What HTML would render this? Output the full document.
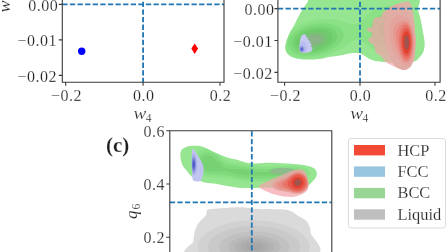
<!DOCTYPE html>
<html><head><meta charset="utf-8">
<style>
html,body{margin:0;padding:0;background:#fff;width:448px;height:252px;overflow:hidden}
svg{display:block;will-change:transform}
text{font-family:"Liberation Serif",serif;fill:#1e1e1e;stroke:#fff;stroke-width:0.3px;stroke-opacity:0.6}
.tk{font-size:16px;letter-spacing:0.5px}
.lg{font-size:16.4px}
</style></head><body>
<svg width="448" height="252" viewBox="0 0 448 252">
<defs>
<clipPath id="cb"><rect x="277.9" y="0" width="162.2" height="82.3"/></clipPath>
<clipPath id="cc"><rect x="169.8" y="130.7" width="162" height="130"/></clipPath>
<clipPath id="g1"><path d="M313.0 -3.0C318.5 -4.0 328.8 -3.0 340.0 -3.0C351.2 -3.0 367.2 -3.0 380.0 -3.0C392.8 -3.0 410.7 -5.1 417.0 -3.0C423.3 -0.9 417.4 5.8 418.0 9.5C418.6 13.2 419.7 15.6 420.5 19.0C421.3 22.4 421.9 26.2 422.6 30.0C423.3 33.8 424.4 38.6 424.6 41.9C424.8 45.2 424.5 47.6 424.0 49.8C423.5 52.0 422.7 53.3 421.5 55.0C420.3 56.7 418.2 58.9 417.0 60.0C415.8 61.1 415.5 61.1 414.0 61.5C412.5 61.9 411.2 62.3 408.0 62.5C404.8 62.7 399.1 62.6 395.0 62.5C390.9 62.4 386.6 62.1 383.4 61.9C380.2 61.7 378.2 61.8 375.6 61.1C373.0 60.5 370.4 59.2 367.8 58.0C365.2 56.8 363.0 54.4 360.0 53.6C357.0 52.8 353.2 53.1 349.9 53.4C346.6 53.7 343.3 54.8 340.0 55.4C336.7 56.0 333.4 56.2 330.0 56.8C326.6 57.4 324.1 58.5 319.7 58.9C315.3 59.3 307.8 59.5 303.8 59.4C299.8 59.3 298.0 59.0 295.5 58.3C293.0 57.6 290.6 56.5 289.0 55.2C287.4 53.9 286.3 52.4 285.8 50.5C285.3 48.6 285.3 46.6 285.8 44.0C286.3 41.4 287.4 38.2 288.8 35.0C290.2 31.8 292.6 28.2 294.3 25.0C296.0 21.8 297.5 18.2 299.0 15.5C300.5 12.8 302.0 10.7 303.3 8.6C304.6 6.5 305.4 4.9 307.0 3.0C308.6 1.1 307.5 -2.0 313.0 -3.0Z"/></clipPath>
<clipPath id="b1"><path d="M302.7 34.7C303.2 34.5 304.1 34.0 304.6 34.1C305.1 34.2 305.6 34.8 305.8 35.3C306.0 35.8 305.5 36.8 305.9 37.2C306.3 37.6 308.1 37.1 308.3 37.5C308.5 37.9 307.0 39.0 307.2 39.4C307.4 39.8 309.3 39.5 309.5 39.9C309.7 40.2 308.1 41.2 308.4 41.5C308.6 41.8 310.8 41.6 311.0 41.9C311.2 42.2 309.7 42.9 309.8 43.4C309.9 43.9 311.8 44.2 311.9 44.7C312.0 45.2 310.5 45.8 310.6 46.3C310.7 46.8 312.2 47.0 312.5 47.6C312.8 48.2 312.4 49.0 312.2 49.6C312.0 50.2 311.8 51.0 311.2 51.5C310.6 52.0 309.5 52.4 308.4 52.6C307.3 52.8 305.8 53.0 304.6 52.9C303.4 52.8 302.0 52.6 301.2 52.2C300.4 51.8 300.1 51.4 299.8 50.4C299.5 49.4 299.5 47.8 299.5 46.3C299.5 44.8 299.7 42.9 299.9 41.5C300.1 40.1 300.4 38.7 300.7 37.7C301.0 36.7 301.3 36.1 301.6 35.6C301.9 35.1 302.2 35.0 302.7 34.7Z"/></clipPath>
<clipPath id="p1"><path d="M384.0 11.5C385.1 10.5 386.8 9.2 388.5 8.2C390.2 7.2 392.3 6.2 394.3 5.3C396.3 4.4 398.7 3.4 400.6 2.8C402.5 2.2 404.2 1.7 405.5 1.5C406.8 1.3 407.6 1.0 408.5 1.4C409.4 1.8 409.9 2.2 410.6 3.6C411.3 5.0 411.9 6.9 412.5 9.5C413.1 12.1 413.6 15.3 414.0 19.0C414.4 22.7 414.7 28.2 415.0 31.7C415.3 35.2 415.8 36.4 415.8 40.0C415.8 43.6 415.3 49.9 415.0 53.3C414.7 56.7 414.4 58.6 414.0 60.3C413.6 62.0 413.0 62.2 412.3 63.4C411.6 64.6 411.1 66.2 410.0 67.3C408.9 68.3 407.3 69.3 406.0 69.7C404.7 70.1 403.9 70.1 402.2 69.7C400.5 69.3 398.4 68.3 396.0 67.3C393.6 66.2 389.7 64.3 388.0 63.4C386.3 62.5 386.6 62.5 385.8 61.9C385.0 61.2 384.3 60.5 383.4 59.5C382.5 58.5 381.6 56.8 380.3 55.6C379.0 54.4 376.5 53.8 375.6 52.5C374.7 51.2 375.3 49.2 374.8 47.8C374.3 46.4 373.6 45.1 372.8 44.2C372.0 43.3 370.8 43.0 370.0 42.4C369.2 41.8 368.3 41.2 368.2 40.6C368.1 40.0 368.5 39.5 369.1 38.7C369.7 37.9 371.5 37.1 371.9 36.0C372.3 34.9 371.9 33.1 371.3 32.3C370.7 31.5 368.9 31.8 368.2 31.4C367.5 30.9 367.0 30.2 367.0 29.6C367.0 29.0 367.4 28.2 368.2 27.8C369.0 27.4 371.1 27.5 371.9 26.9C372.7 26.3 372.6 25.2 372.8 24.1C373.0 23.0 372.8 21.6 373.2 20.5C373.6 19.4 374.2 18.3 375.5 17.7C376.8 17.1 379.9 17.4 381.0 16.8C382.1 16.2 381.5 14.9 382.0 14.0C382.5 13.1 382.9 12.5 384.0 11.5Z"/></clipPath>
<clipPath id="r1"><path d="M192.8 256.0C173.1 253.5 193.1 245.0 193.4 241.2C193.7 237.4 193.9 235.4 194.4 233.0C194.9 230.6 195.5 228.9 196.5 226.8C197.5 224.7 199.0 222.5 200.6 220.6C202.2 218.7 204.8 217.1 205.8 215.5C206.8 213.9 206.3 212.3 206.8 211.3C207.3 210.3 206.5 209.8 208.9 209.3C211.3 208.8 215.7 208.5 221.2 208.2C226.7 207.8 236.4 207.1 241.9 207.2C247.4 207.3 247.5 208.3 254.0 208.7C260.5 209.0 274.8 208.9 281.0 209.3C287.2 209.7 288.5 210.3 291.2 211.3C293.9 212.3 295.2 214.1 297.4 215.5C299.6 216.9 302.7 218.1 304.6 219.6C306.5 221.1 307.8 222.5 308.8 224.7C309.8 226.9 310.3 227.8 310.8 233.0C311.3 238.2 331.6 252.2 311.9 256.0C292.2 259.8 212.6 258.5 192.8 256.0Z"/></clipPath>
<clipPath id="cg1"><path d="M181.0 150.9C181.6 149.6 182.5 148.8 184.0 148.0C185.5 147.2 187.2 146.3 189.9 146.0C192.6 145.7 196.9 145.5 199.9 146.0C202.9 146.5 205.2 147.8 207.8 148.9C210.5 150.1 212.8 151.6 215.8 152.9C218.8 154.2 222.3 155.8 225.7 156.9C229.1 158.0 232.7 158.6 236.0 159.5C239.3 160.4 242.5 161.8 245.8 162.5C249.1 163.2 252.5 163.4 255.8 163.5C259.1 163.6 262.3 162.9 265.7 162.8C269.1 162.7 272.4 162.8 276.0 162.9C279.6 163.0 283.6 163.3 287.6 163.6C291.6 163.9 296.4 164.1 300.0 164.5C303.6 164.9 306.5 165.4 309.0 166.2C311.5 166.9 313.7 167.8 315.0 169.0C316.3 170.2 316.7 171.8 316.8 173.3C316.9 174.8 316.3 176.6 315.5 178.0C314.7 179.4 313.2 180.8 312.0 182.0C310.8 183.2 310.0 184.7 308.0 185.5C306.0 186.3 304.7 186.7 300.0 187.0C295.3 187.3 286.3 187.4 280.0 187.5C273.7 187.6 267.0 187.7 262.0 187.8C257.0 187.9 253.8 188.1 249.8 188.1C245.8 188.1 241.9 188.1 237.9 187.7C233.9 187.3 229.7 186.4 226.0 185.7C222.3 185.0 219.2 184.2 215.8 183.7C212.4 183.2 208.8 183.3 205.8 182.7C202.8 182.1 200.3 181.0 198.0 180.0C195.7 179.0 193.9 178.5 191.9 176.8C189.9 175.1 187.7 172.0 186.0 169.8C184.3 167.7 182.9 166.2 182.0 163.9C181.1 161.6 180.6 158.1 180.4 155.9C180.2 153.7 180.4 152.2 181.0 150.9Z"/></clipPath>
<clipPath id="cb1"><path d="M192.7 148.7C193.2 149.0 194.2 150.2 195.2 151.5C196.2 152.8 197.4 154.7 198.5 156.5C199.6 158.3 201.0 160.5 201.8 162.3C202.6 164.1 203.2 165.8 203.5 167.3C203.8 168.8 203.6 170.1 203.5 171.5C203.4 172.9 203.0 174.4 202.7 175.7C202.4 176.9 202.2 178.1 201.8 179.0C201.4 179.9 201.2 180.6 200.2 181.0C199.2 181.4 197.2 181.6 196.0 181.5C194.8 181.4 193.6 181.3 193.0 180.3C192.4 179.3 192.5 178.4 192.3 175.7C192.1 173.0 191.9 167.6 191.8 164.0C191.7 160.4 191.7 156.4 191.8 154.0C191.9 151.6 192.0 150.7 192.2 149.8C192.3 148.9 192.2 148.4 192.7 148.7Z"/></clipPath>
<clipPath id="cp1"><path d="M259.2 185.4C260.0 184.3 263.4 183.3 265.5 182.2C267.6 181.1 269.5 180.1 271.9 179.0C274.3 177.9 277.2 177.0 279.8 175.9C282.4 174.8 285.1 173.7 287.7 172.7C290.3 171.7 293.3 170.3 295.7 169.8C298.1 169.3 300.4 169.2 302.0 169.5C303.6 169.8 304.4 170.8 305.2 171.9C306.0 173.0 306.3 173.9 306.8 175.9C307.3 177.9 308.3 181.6 308.4 183.8C308.5 186.1 308.4 187.8 307.6 189.4C306.8 191.0 305.6 192.1 303.6 193.3C301.6 194.5 298.4 195.9 295.7 196.5C293.0 197.1 290.3 196.9 287.7 196.8C285.1 196.7 282.4 196.2 279.8 195.7C277.2 195.2 274.3 194.5 271.9 193.7C269.5 192.9 267.4 191.8 265.5 191.0C263.6 190.2 261.9 189.5 260.8 188.6C259.8 187.7 258.4 186.5 259.2 185.4Z"/></clipPath>
</defs>
<g clip-path="url(#cb)">
<path d="M313.0 -3.0C318.5 -4.0 328.8 -3.0 340.0 -3.0C351.2 -3.0 367.2 -3.0 380.0 -3.0C392.8 -3.0 410.7 -5.1 417.0 -3.0C423.3 -0.9 417.4 5.8 418.0 9.5C418.6 13.2 419.7 15.6 420.5 19.0C421.3 22.4 421.9 26.2 422.6 30.0C423.3 33.8 424.4 38.6 424.6 41.9C424.8 45.2 424.5 47.6 424.0 49.8C423.5 52.0 422.7 53.3 421.5 55.0C420.3 56.7 418.2 58.9 417.0 60.0C415.8 61.1 415.5 61.1 414.0 61.5C412.5 61.9 411.2 62.3 408.0 62.5C404.8 62.7 399.1 62.6 395.0 62.5C390.9 62.4 386.6 62.1 383.4 61.9C380.2 61.7 378.2 61.8 375.6 61.1C373.0 60.5 370.4 59.2 367.8 58.0C365.2 56.8 363.0 54.4 360.0 53.6C357.0 52.8 353.2 53.1 349.9 53.4C346.6 53.7 343.3 54.8 340.0 55.4C336.7 56.0 333.4 56.2 330.0 56.8C326.6 57.4 324.1 58.5 319.7 58.9C315.3 59.3 307.8 59.5 303.8 59.4C299.8 59.3 298.0 59.0 295.5 58.3C293.0 57.6 290.6 56.5 289.0 55.2C287.4 53.9 286.3 52.4 285.8 50.5C285.3 48.6 285.3 46.6 285.8 44.0C286.3 41.4 287.4 38.2 288.8 35.0C290.2 31.8 292.6 28.2 294.3 25.0C296.0 21.8 297.5 18.2 299.0 15.5C300.5 12.8 302.0 10.7 303.3 8.6C304.6 6.5 305.4 4.9 307.0 3.0C308.6 1.1 307.5 -2.0 313.0 -3.0Z" fill="#96e691"/>
<g clip-path="url(#g1)"><path d="M308.50 58.75 308.00 58.76 307.50 58.76 307.00 58.76 306.50 58.76 306.08 58.75 305.75 58.74 305.25 58.72 304.75 58.70 304.25 58.67 303.75 58.64 303.25 58.60 302.75 58.55 302.25 58.50 302.00 58.47 301.50 58.42 301.00 58.35 300.50 58.28 300.25 58.24 299.75 58.16 299.25 58.07 298.89 58.00 298.50 57.92 298.00 57.82 297.70 57.75 297.25 57.64 296.75 57.52 296.50 57.45 296.00 57.31 295.75 57.24 295.25 57.09 294.97 57.00 294.50 56.85 294.22 56.75 293.75 56.58 293.50 56.48 293.00 56.29 292.75 56.18 292.33 56.00 292.00 55.85 291.75 55.74 291.26 55.50 291.00 55.37 290.75 55.23 290.32 55.00 290.00 54.82 289.75 54.67 289.48 54.50 289.09 54.25 288.75 54.02 288.50 53.84 288.25 53.66 288.00 53.47 287.73 53.25 287.42 53.00 287.14 52.75 286.86 52.50 286.60 52.25 286.35 52.00 286.12 51.75 285.89 51.50 285.68 51.25 285.47 51.00 285.25 50.71 285.00 50.36 284.76 50.00 284.60 49.75 284.45 49.50 284.25 49.14 284.05 48.75 283.94 48.50 283.75 48.06 283.63 47.75 283.50 47.36 283.39 47.00 283.26 46.50 283.21 46.25 283.12 45.75 283.05 45.25 283.01 44.75 282.99 44.50 282.99 44.00 283.00 43.50 283.01 43.25 283.06 42.75 283.13 42.25 283.22 41.75 283.27 41.50 283.39 41.00 283.50 40.61 283.61 40.25 283.75 39.84 283.87 39.50 284.00 39.19 284.19 38.75 284.30 38.50 284.50 38.08 284.67 37.75 284.80 37.50 285.00 37.15 285.24 36.75 285.39 36.50 285.55 36.25 285.75 35.95 286.00 35.59 286.24 35.25 286.43 35.00 286.62 34.75 286.82 34.50 287.02 34.25 287.25 33.98 287.50 33.69 287.75 33.41 288.00 33.13 288.25 32.87 288.50 32.61 288.75 32.35 289.00 32.11 289.25 31.86 289.50 31.63 289.75 31.40 290.00 31.17 290.25 30.95 290.50 30.74 290.78 30.50 291.08 30.25 291.39 30.00 291.71 29.75 292.00 29.52 292.25 29.33 292.50 29.15 292.75 28.96 293.05 28.75 293.40 28.50 293.75 28.26 294.00 28.09 294.25 27.93 294.52 27.75 294.91 27.50 295.25 27.29 295.50 27.13 295.75 26.98 296.14 26.75 296.50 26.54 296.75 26.40 297.02 26.25 297.47 26.00 297.75 25.85 298.00 25.72 298.41 25.50 298.75 25.33 299.00 25.20 299.41 25.00 299.75 24.84 300.00 24.72 300.47 24.50 300.75 24.37 301.02 24.25 301.50 24.04 301.75 23.93 302.17 23.75 302.50 23.61 302.78 23.50 303.25 23.31 303.50 23.21 304.00 23.02 304.25 22.93 304.74 22.75 305.00 22.65 305.44 22.50 305.75 22.39 306.17 22.25 306.50 22.14 306.94 22.00 307.25 21.90 307.74 21.75 308.00 21.67 308.50 21.52 308.75 21.45 309.25 21.31 309.50 21.24 310.00 21.11 310.43 21.00 310.75 20.92 311.25 20.80 311.50 20.74 312.00 20.62 312.50 20.51 312.75 20.45 313.25 20.35 313.73 20.25 314.00 20.20 314.50 20.10 315.00 20.01 315.25 19.97 315.75 19.88 316.25 19.80 316.56 19.75 317.00 19.68 317.50 19.61 318.00 19.55 318.36 19.50 318.75 19.45 319.25 19.39 319.75 19.34 320.25 19.29 320.71 19.25 321.00 19.22 321.50 19.18 322.00 19.15 322.50 19.12 323.00 19.09 323.50 19.07 324.00 19.05 324.50 19.03 325.00 19.02 325.50 19.01 326.00 19.01 326.50 19.01 327.00 19.01 327.50 19.02 328.00 19.03 328.50 19.05 329.00 19.07 329.50 19.09 330.00 19.12 330.50 19.15 331.00 19.19 331.50 19.23 331.75 19.25 332.25 19.30 332.75 19.35 333.25 19.41 333.75 19.47 334.00 19.50 334.50 19.57 335.00 19.64 335.50 19.72 335.75 19.76 336.25 19.84 336.75 19.93 337.14 20.00 337.50 20.07 338.00 20.17 338.40 20.25 338.75 20.32 339.25 20.43 339.55 20.50 340.00 20.61 340.50 20.73 340.75 20.79 341.25 20.91 341.58 21.00 342.00 21.11 342.50 21.25 342.75 21.32 343.25 21.46 343.50 21.53 344.00 21.68 344.25 21.76 344.75 21.91 345.05 22.00 345.50 22.14 345.85 22.25 346.25 22.38 346.64 22.50 347.00 22.62 347.42 22.75 347.75 22.85 348.22 23.00 348.50 23.09 349.00 23.24 349.25 23.32 349.75 23.46 350.00 23.53 350.50 23.67 350.83 23.75 351.25 23.85 351.75 23.96 352.00 24.01 352.50 24.09 353.00 24.15 353.50 24.19 354.00 24.21 354.50 24.20 355.00 24.16 355.50 24.08 355.87 24.00 356.25 23.90 356.71 23.75 357.00 23.64 357.33 23.50 357.75 23.30 358.00 23.17 358.30 23.00 358.71 22.75 359.00 22.57 359.25 22.40 359.50 22.22 359.80 22.00 360.13 21.75 360.44 21.50 360.75 21.25 361.00 21.04 361.25 20.83 361.50 20.62 361.75 20.40 362.00 20.18 362.25 19.96 362.50 19.73 362.75 19.50 363.03 19.25 363.30 19.00 363.57 18.75 363.84 18.50 364.11 18.25 364.38 18.00 364.65 17.75 364.92 17.50 365.20 17.25 365.47 17.00 365.74 16.75 366.00 16.52 366.25 16.29 366.50 16.07 366.75 15.84 367.00 15.62 367.25 15.40 367.50 15.19 367.75 14.97 368.01 14.75 368.30 14.50 368.60 14.25 368.90 14.00 369.21 13.75 369.50 13.52 369.75 13.32 370.00 13.12 370.25 12.93 370.50 12.74 370.81 12.50 371.15 12.25 371.49 12.00 371.75 11.82 372.00 11.64 372.25 11.47 372.56 11.25 372.94 11.00 373.25 10.80 373.50 10.63 373.75 10.48 374.11 10.25 374.50 10.02 374.75 9.87 375.00 9.72 375.40 9.50 375.75 9.30 376.00 9.17 376.32 9.00 376.75 8.78 377.00 8.66 377.33 8.50 377.75 8.31 378.00 8.19 378.44 8.00 378.75 7.87 379.05 7.75 379.50 7.57 379.75 7.48 380.25 7.30 380.50 7.22 381.00 7.05 381.25 6.98 381.75 6.83 382.05 6.75 382.50 6.63 383.00 6.51 383.25 6.46 383.75 6.36 384.25 6.27 384.50 6.23 385.00 6.15 385.50 6.09 386.00 6.04 386.50 6.00 386.75 5.99 387.25 5.97 387.75 5.96 388.25 5.96 388.75 5.98 389.22 6.00 389.50 6.02 390.00 6.06 390.50 6.12 391.00 6.19 391.36 6.25 391.75 6.32 392.25 6.42 392.58 6.50 393.00 6.60 393.50 6.74 393.75 6.81 394.25 6.97 394.50 7.06 395.00 7.24 395.25 7.33 395.67 7.50 396.00 7.64 396.25 7.75 396.75 7.99 397.00 8.11 397.27 8.25 397.74 8.50 398.00 8.65 398.25 8.79 398.59 9.00 398.98 9.25 399.25 9.43 399.50 9.60 399.75 9.77 400.06 10.00 400.40 10.25 400.71 10.50 401.00 10.73 401.25 10.94 401.50 11.16 401.75 11.38 402.00 11.61 402.25 11.85 402.50 12.09 402.75 12.35 403.00 12.61 403.25 12.88 403.50 13.15 403.75 13.44 404.00 13.74 404.22 14.00 404.41 14.25 404.61 14.50 404.80 14.75 405.00 15.03 405.25 15.38 405.50 15.75 405.66 16.00 405.82 16.25 406.00 16.53 406.25 16.95 406.42 17.25 406.56 17.50 406.75 17.84 406.96 18.25 407.09 18.50 407.25 18.83 407.45 19.25 407.56 19.50 407.75 19.95 407.88 20.25 408.00 20.56 408.17 21.00 408.26 21.25 408.43 21.75 408.51 22.00 408.67 22.50 408.75 22.78 408.88 23.25 409.00 23.72 409.07 24.00 409.18 24.50 409.25 24.83 409.33 25.25 409.42 25.75 409.50 26.25 409.53 26.50 409.59 27.00 409.65 27.50 409.69 28.00 409.72 28.50 409.75 29.00 409.76 29.25 409.77 29.75 409.77 30.25 409.76 30.75 409.75 31.00 409.72 31.50 409.69 32.00 409.65 32.50 409.59 33.00 409.53 33.50 409.50 33.75 409.42 34.25 409.33 34.75 409.25 35.17 409.18 35.50 409.07 36.00 409.00 36.28 408.88 36.75 408.75 37.22 408.67 37.50 408.51 38.00 408.43 38.25 408.26 38.75 408.17 39.00 408.00 39.44 407.88 39.75 407.75 40.05 407.56 40.50 407.45 40.75 407.25 41.17 407.09 41.50 406.96 41.75 406.75 42.16 406.56 42.50 406.42 42.75 406.25 43.05 406.00 43.47 405.82 43.75 405.66 44.00 405.50 44.25 405.25 44.62 405.00 44.97 404.80 45.25 404.61 45.50 404.41 45.75 404.22 46.00 404.00 46.26 403.75 46.56 403.50 46.85 403.25 47.12 403.00 47.39 402.75 47.65 402.50 47.91 402.25 48.15 402.00 48.39 401.75 48.62 401.50 48.84 401.25 49.06 401.00 49.27 400.71 49.50 400.40 49.75 400.06 50.00 399.75 50.23 399.50 50.40 399.25 50.57 398.98 50.75 398.59 51.00 398.25 51.21 398.00 51.35 397.74 51.50 397.27 51.75 397.00 51.89 396.75 52.01 396.25 52.25 396.00 52.36 395.67 52.50 395.25 52.67 395.00 52.76 394.50 52.94 394.25 53.03 393.75 53.19 393.50 53.26 393.00 53.40 392.58 53.50 392.25 53.58 391.75 53.68 391.36 53.75 391.00 53.81 390.50 53.88 390.00 53.94 389.50 53.98 389.22 54.00 388.75 54.02 388.25 54.04 387.75 54.04 387.25 54.03 386.75 54.01 386.50 54.00 386.00 53.96 385.50 53.91 385.00 53.85 384.50 53.77 384.25 53.73 383.75 53.64 383.25 53.54 383.00 53.49 382.50 53.37 382.04 53.25 381.75 53.17 381.25 53.03 381.00 52.95 380.50 52.79 380.25 52.70 379.75 52.52 379.50 52.43 379.03 52.25 378.75 52.14 378.42 52.00 378.00 51.82 377.75 51.70 377.31 51.50 377.00 51.35 376.75 51.23 376.29 51.00 376.00 50.85 375.75 50.72 375.35 50.50 375.00 50.30 374.75 50.16 374.47 50.00 374.05 49.75 373.75 49.57 373.50 49.41 373.24 49.25 372.85 49.00 372.50 48.77 372.25 48.60 372.00 48.43 371.73 48.25 371.37 48.00 371.01 47.75 370.75 47.56 370.50 47.38 370.25 47.20 369.98 47.00 369.64 46.75 369.31 46.50 369.00 46.27 368.75 46.08 368.50 45.88 368.25 45.69 368.00 45.50 367.68 45.25 367.36 45.00 367.04 44.75 366.75 44.52 366.50 44.33 366.25 44.13 366.00 43.94 365.75 43.74 365.44 43.50 365.11 43.25 364.79 43.00 364.50 42.78 364.25 42.60 364.00 42.41 363.75 42.23 363.43 42.00 363.07 41.75 362.75 41.53 362.50 41.36 362.25 41.20 361.92 41.00 361.50 40.75 361.25 40.60 361.00 40.47 360.57 40.25 360.25 40.10 360.00 39.99 359.50 39.80 359.25 39.71 358.75 39.57 358.44 39.50 358.00 39.42 357.50 39.37 357.00 39.36 356.50 39.40 356.00 39.47 355.75 39.52 355.25 39.64 354.92 39.75 354.50 39.90 354.25 40.00 353.75 40.23 353.50 40.35 353.22 40.50 352.76 40.75 352.50 40.90 352.25 41.05 351.93 41.25 351.54 41.50 351.25 41.69 351.00 41.85 350.75 42.02 350.42 42.25 350.07 42.50 349.75 42.72 349.50 42.90 349.25 43.08 349.00 43.26 348.66 43.50 348.32 43.75 348.00 43.98 347.75 44.16 347.50 44.34 347.25 44.52 346.93 44.75 346.58 45.00 346.25 45.24 346.00 45.41 345.75 45.59 345.50 45.77 345.17 46.00 344.81 46.25 344.50 46.46 344.25 46.63 344.00 46.80 343.70 47.00 343.33 47.25 343.00 47.47 342.75 47.63 342.50 47.79 342.18 48.00 341.79 48.25 341.50 48.43 341.25 48.59 340.98 48.75 340.58 49.00 340.25 49.20 340.00 49.35 339.74 49.50 339.31 49.75 339.00 49.93 338.75 50.07 338.43 50.25 338.00 50.49 337.75 50.63 337.50 50.76 337.06 51.00 336.75 51.17 336.50 51.30 336.10 51.50 335.75 51.68 335.50 51.81 335.11 52.00 334.75 52.18 334.50 52.30 334.07 52.50 333.75 52.65 333.50 52.77 333.00 52.99 332.75 53.11 332.42 53.25 332.00 53.43 331.75 53.54 331.25 53.75 331.00 53.86 330.65 54.00 330.25 54.16 330.00 54.26 329.50 54.45 329.25 54.55 328.75 54.74 328.50 54.83 328.03 55.00 327.75 55.10 327.32 55.25 327.00 55.36 326.58 55.50 326.25 55.61 325.81 55.75 325.50 55.85 325.01 56.00 324.75 56.08 324.25 56.23 324.00 56.30 323.50 56.44 323.25 56.51 322.75 56.65 322.37 56.75 322.00 56.85 321.50 56.97 321.25 57.03 320.75 57.15 320.32 57.25 320.00 57.32 319.50 57.43 319.17 57.50 318.75 57.59 318.25 57.68 317.90 57.75 317.50 57.82 317.00 57.91 316.50 58.00 316.25 58.04 315.75 58.11 315.25 58.19 314.79 58.25 314.50 58.29 314.00 58.35 313.50 58.41 313.00 58.46 312.64 58.50 312.25 58.54 311.75 58.58 311.25 58.62 310.75 58.65 310.25 58.68 309.75 58.71 309.25 58.73 308.75 58.74 308.50 58.75Z" fill="#8ae186" fill-rule="evenodd"/>
<path d="M389.00 47.01 388.50 47.04 388.00 47.04 387.50 47.04 387.00 47.01 386.75 46.99 386.25 46.94 385.75 46.87 385.25 46.79 385.00 46.74 384.50 46.63 384.00 46.50 383.75 46.43 383.25 46.28 383.00 46.20 382.50 46.02 382.25 45.92 381.82 45.75 381.50 45.61 381.25 45.50 380.75 45.26 380.50 45.13 380.25 45.00 379.81 44.75 379.50 44.57 379.25 44.42 378.98 44.25 378.60 44.00 378.25 43.76 378.00 43.58 377.75 43.39 377.50 43.20 377.24 43.00 376.94 42.75 376.64 42.50 376.36 42.25 376.08 42.00 375.82 41.75 375.56 41.50 375.31 41.25 375.07 41.00 374.84 40.75 374.62 40.50 374.40 40.25 374.19 40.00 373.98 39.75 373.75 39.45 373.50 39.13 373.25 38.78 373.05 38.50 372.88 38.25 372.72 38.00 372.50 37.65 372.26 37.25 372.12 37.00 371.99 36.75 371.75 36.29 371.61 36.00 371.49 35.75 371.28 35.25 371.18 35.00 371.00 34.52 370.91 34.25 370.75 33.75 370.68 33.50 370.56 33.00 370.50 32.74 370.41 32.25 370.33 31.75 370.28 31.25 370.25 30.85 370.23 30.50 370.23 30.00 370.25 29.50 370.26 29.25 370.31 28.75 370.37 28.25 370.45 27.75 370.50 27.50 370.62 27.00 370.75 26.50 370.82 26.25 370.98 25.75 371.07 25.50 371.25 25.02 371.36 24.75 371.50 24.43 371.70 24.00 371.82 23.75 372.00 23.39 372.21 23.00 372.35 22.75 372.50 22.49 372.75 22.08 372.96 21.75 373.13 21.50 373.30 21.25 373.50 20.97 373.75 20.64 374.00 20.32 374.25 20.00 374.46 19.75 374.68 19.50 374.90 19.25 375.13 19.00 375.37 18.75 375.61 18.50 375.87 18.25 376.13 18.00 376.40 17.75 376.68 17.50 376.98 17.25 377.25 17.02 377.50 16.82 377.75 16.63 378.00 16.44 378.27 16.25 378.63 16.00 379.00 15.75 379.25 15.60 379.50 15.44 379.83 15.25 380.25 15.01 380.50 14.88 380.75 14.75 381.25 14.51 381.50 14.40 381.84 14.25 382.25 14.08 382.50 13.98 383.00 13.81 383.25 13.72 383.75 13.57 384.00 13.50 384.50 13.37 385.00 13.26 385.25 13.21 385.75 13.13 386.25 13.06 386.75 13.01 387.00 12.99 387.50 12.97 388.00 12.96 388.50 12.96 389.00 12.99 389.25 13.01 389.75 13.06 390.25 13.13 390.75 13.22 391.00 13.27 391.50 13.38 391.94 13.50 392.25 13.59 392.73 13.75 393.00 13.85 393.39 14.00 393.75 14.15 394.00 14.26 394.49 14.50 394.75 14.64 395.00 14.77 395.39 15.00 395.75 15.22 396.00 15.38 396.25 15.55 396.53 15.75 396.86 16.00 397.17 16.25 397.47 16.50 397.75 16.75 398.00 16.98 398.25 17.22 398.50 17.47 398.75 17.73 398.99 18.00 399.21 18.25 399.42 18.50 399.62 18.75 399.81 19.00 400.00 19.25 400.25 19.60 400.50 19.98 400.67 20.25 400.83 20.50 401.00 20.79 401.25 21.24 401.38 21.50 401.51 21.75 401.75 22.25 401.86 22.50 402.00 22.83 402.17 23.25 402.26 23.50 402.44 24.00 402.52 24.25 402.68 24.75 402.75 25.01 402.88 25.50 402.99 26.00 403.05 26.25 403.14 26.75 403.22 27.25 403.25 27.50 403.31 28.00 403.36 28.50 403.39 29.00 403.41 29.50 403.42 30.00 403.41 30.50 403.39 31.00 403.36 31.50 403.31 32.00 403.25 32.50 403.22 32.75 403.14 33.25 403.05 33.75 402.99 34.00 402.88 34.50 402.75 34.99 402.68 35.25 402.52 35.75 402.44 36.00 402.26 36.50 402.17 36.75 402.00 37.17 401.86 37.50 401.75 37.75 401.51 38.25 401.38 38.50 401.25 38.76 401.00 39.21 400.83 39.50 400.67 39.75 400.50 40.02 400.25 40.40 400.00 40.75 399.81 41.00 399.62 41.25 399.42 41.50 399.21 41.75 398.99 42.00 398.75 42.27 398.50 42.53 398.25 42.78 398.00 43.02 397.75 43.25 397.47 43.50 397.17 43.75 396.86 44.00 396.52 44.25 396.25 44.45 396.00 44.62 395.75 44.78 395.39 45.00 395.00 45.23 394.75 45.36 394.49 45.50 394.00 45.74 393.75 45.85 393.39 46.00 393.00 46.15 392.73 46.25 392.25 46.41 391.94 46.50 391.50 46.62 391.00 46.73 390.75 46.78 390.25 46.87 389.75 46.94 389.25 46.99 389.00 47.01ZM312.25 55.52 311.75 55.56 311.25 55.60 310.75 55.63 310.25 55.66 309.75 55.68 309.25 55.70 308.75 55.71 308.25 55.72 307.75 55.71 307.25 55.71 306.75 55.69 306.25 55.68 305.75 55.65 305.25 55.62 304.75 55.58 304.25 55.53 303.94 55.50 303.50 55.45 303.00 55.39 302.50 55.32 302.09 55.25 301.75 55.19 301.25 55.10 300.75 55.00 300.50 54.95 300.00 54.84 299.65 54.75 299.25 54.65 298.75 54.51 298.50 54.44 298.00 54.28 297.75 54.20 297.25 54.03 297.00 53.94 296.50 53.75 296.25 53.65 295.90 53.50 295.50 53.32 295.25 53.21 294.83 53.00 294.50 52.83 294.25 52.70 293.90 52.50 293.50 52.26 293.25 52.10 293.00 51.94 292.72 51.75 292.38 51.50 292.05 51.25 291.75 51.01 291.50 50.79 291.25 50.56 291.00 50.33 290.75 50.07 290.50 49.80 290.25 49.52 290.03 49.25 289.84 49.00 289.66 48.75 289.50 48.50 289.25 48.10 289.05 47.75 288.93 47.50 288.75 47.12 288.60 46.75 288.50 46.48 288.35 46.00 288.25 45.62 288.17 45.25 288.09 44.75 288.04 44.25 288.01 43.75 288.02 43.25 288.05 42.75 288.11 42.25 288.19 41.75 288.25 41.46 288.36 41.00 288.50 40.52 288.59 40.25 288.75 39.81 288.87 39.50 289.00 39.21 289.21 38.75 289.34 38.50 289.50 38.20 289.75 37.76 289.91 37.50 290.06 37.25 290.25 36.97 290.50 36.61 290.75 36.26 290.95 36.00 291.15 35.75 291.35 35.50 291.56 35.25 291.78 35.00 292.00 34.75 292.25 34.48 292.50 34.22 292.75 33.97 293.00 33.72 293.25 33.49 293.50 33.25 293.78 33.00 294.07 32.75 294.36 32.50 294.66 32.25 294.98 32.00 295.25 31.79 295.50 31.60 295.75 31.41 296.00 31.23 296.32 31.00 296.68 30.75 297.00 30.53 297.25 30.37 297.50 30.20 297.82 30.00 298.23 29.75 298.50 29.58 298.75 29.44 299.07 29.25 299.50 29.01 299.75 28.87 300.00 28.74 300.45 28.50 300.75 28.35 301.00 28.22 301.45 28.00 301.75 27.86 302.00 27.74 302.50 27.51 302.75 27.40 303.09 27.25 303.50 27.07 303.75 26.97 304.25 26.77 304.50 26.67 304.93 26.50 305.25 26.38 305.61 26.25 306.00 26.11 306.31 26.00 306.75 25.85 307.06 25.75 307.50 25.61 307.85 25.50 308.25 25.38 308.69 25.25 309.00 25.16 309.50 25.02 309.75 24.96 310.25 24.83 310.57 24.75 311.00 24.65 311.50 24.53 311.75 24.47 312.25 24.37 312.75 24.27 313.00 24.22 313.50 24.12 314.00 24.03 314.25 23.99 314.75 23.91 315.25 23.84 315.75 23.76 316.00 23.73 316.50 23.67 317.00 23.61 317.50 23.56 318.00 23.51 318.25 23.49 318.75 23.45 319.25 23.42 319.75 23.39 320.25 23.36 320.75 23.34 321.25 23.33 321.75 23.32 322.25 23.32 322.75 23.32 323.25 23.33 323.75 23.35 324.25 23.37 324.75 23.39 325.25 23.43 325.75 23.46 326.16 23.50 326.50 23.53 327.00 23.59 327.50 23.65 328.00 23.71 328.26 23.75 328.75 23.83 329.25 23.91 329.74 24.00 330.00 24.05 330.50 24.15 330.94 24.25 331.25 24.32 331.75 24.45 332.00 24.51 332.50 24.65 332.85 24.75 333.25 24.87 333.65 25.00 334.00 25.12 334.38 25.25 334.75 25.39 335.04 25.50 335.50 25.68 335.75 25.79 336.22 26.00 336.50 26.13 336.75 26.25 337.25 26.50 337.50 26.64 337.75 26.77 338.14 27.00 338.50 27.22 338.75 27.38 339.00 27.54 339.30 27.75 339.64 28.00 339.96 28.25 340.25 28.49 340.50 28.71 340.75 28.93 341.00 29.18 341.25 29.43 341.50 29.71 341.75 30.00 341.95 30.25 342.13 30.50 342.30 30.75 342.50 31.06 342.75 31.50 342.88 31.75 343.00 32.02 343.19 32.50 343.28 32.75 343.42 33.25 343.50 33.64 343.56 34.00 343.61 34.50 343.63 35.00 343.61 35.50 343.56 36.00 343.50 36.37 343.43 36.75 343.30 37.25 343.23 37.50 343.06 38.00 342.97 38.25 342.76 38.75 342.65 39.00 342.50 39.30 342.26 39.75 342.12 40.00 341.97 40.25 341.75 40.61 341.50 40.99 341.32 41.25 341.14 41.50 340.95 41.75 340.75 42.01 340.50 42.33 340.25 42.63 340.00 42.92 339.75 43.20 339.50 43.47 339.25 43.73 339.00 43.98 338.75 44.23 338.50 44.48 338.25 44.71 338.00 44.94 337.75 45.17 337.50 45.38 337.25 45.60 337.00 45.81 336.75 46.02 336.46 46.25 336.14 46.50 335.81 46.75 335.50 46.98 335.25 47.17 335.00 47.35 334.75 47.52 334.42 47.75 334.05 48.00 333.75 48.20 333.50 48.36 333.25 48.52 332.88 48.75 332.50 48.98 332.25 49.13 332.00 49.27 331.61 49.50 331.25 49.70 331.00 49.84 330.70 50.00 330.25 50.24 330.00 50.37 329.74 50.50 329.25 50.74 329.00 50.86 328.71 51.00 328.25 51.22 328.00 51.33 327.62 51.50 327.25 51.66 327.00 51.77 326.50 51.98 326.25 52.08 325.83 52.25 325.50 52.38 325.18 52.50 324.75 52.66 324.50 52.75 324.00 52.93 323.75 53.02 323.25 53.19 323.00 53.27 322.50 53.43 322.25 53.51 321.75 53.66 321.44 53.75 321.00 53.87 320.55 54.00 320.25 54.08 319.75 54.21 319.50 54.27 319.00 54.39 318.54 54.50 318.25 54.57 317.75 54.67 317.38 54.75 317.00 54.83 316.50 54.92 316.06 55.00 315.75 55.05 315.25 55.14 314.75 55.21 314.49 55.25 314.00 55.32 313.50 55.38 313.00 55.44 312.50 55.49 312.25 55.52Z" fill="#7fda7b" fill-rule="evenodd"/>
<path d="M389.00 39.52 388.50 39.56 388.00 39.57 387.50 39.55 387.00 39.50 386.75 39.46 386.25 39.36 385.80 39.25 385.50 39.16 385.05 39.00 384.75 38.88 384.46 38.75 384.00 38.52 383.75 38.38 383.50 38.23 383.15 38.00 382.80 37.75 382.50 37.52 382.25 37.31 382.00 37.08 381.75 36.84 381.50 36.58 381.25 36.30 381.00 36.00 380.81 35.75 380.63 35.50 380.46 35.25 380.25 34.91 380.02 34.50 379.89 34.25 379.75 33.96 379.55 33.50 379.46 33.25 379.29 32.75 379.22 32.50 379.10 32.00 379.00 31.50 378.97 31.25 378.91 30.75 378.89 30.25 378.89 29.75 378.92 29.25 378.97 28.75 379.01 28.50 379.10 28.00 379.23 27.50 379.30 27.25 379.47 26.75 379.56 26.50 379.75 26.06 379.90 25.75 380.03 25.50 380.25 25.11 380.47 24.75 380.64 24.50 380.82 24.25 381.01 24.00 381.25 23.71 381.50 23.43 381.75 23.17 382.00 22.93 382.25 22.70 382.50 22.49 382.81 22.25 383.16 22.00 383.50 21.78 383.75 21.63 384.00 21.49 384.47 21.25 384.75 21.13 385.06 21.00 385.50 20.84 385.81 20.75 386.25 20.64 386.75 20.54 387.01 20.50 387.50 20.45 388.00 20.43 388.50 20.44 389.00 20.48 389.25 20.51 389.75 20.60 390.25 20.72 390.50 20.80 391.00 20.97 391.25 21.07 391.64 21.25 392.00 21.44 392.25 21.58 392.52 21.75 392.88 22.00 393.21 22.25 393.50 22.49 393.75 22.72 394.00 22.97 394.25 23.24 394.48 23.50 394.68 23.75 394.87 24.00 395.04 24.25 395.25 24.58 395.50 25.00 395.63 25.25 395.75 25.50 395.98 26.00 396.07 26.25 396.25 26.75 396.33 27.00 396.46 27.50 396.52 27.75 396.62 28.25 396.69 28.75 396.73 29.25 396.75 29.54 396.76 30.00 396.75 30.46 396.73 30.75 396.69 31.25 396.62 31.75 396.52 32.25 396.46 32.50 396.33 33.00 396.25 33.25 396.07 33.75 395.98 34.00 395.75 34.50 395.63 34.75 395.50 35.00 395.25 35.42 395.04 35.75 394.87 36.00 394.68 36.25 394.48 36.50 394.25 36.76 394.00 37.03 393.75 37.28 393.50 37.51 393.21 37.75 392.88 38.00 392.52 38.25 392.25 38.42 392.00 38.56 391.64 38.75 391.25 38.93 391.00 39.03 390.50 39.20 390.25 39.28 389.75 39.40 389.25 39.49 389.00 39.52ZM312.75 53.01 312.25 53.06 311.75 53.10 311.25 53.14 310.75 53.17 310.25 53.19 309.75 53.21 309.25 53.22 308.75 53.22 308.25 53.22 307.75 53.20 307.25 53.18 306.75 53.16 306.25 53.12 305.75 53.08 305.25 53.03 305.00 53.00 304.50 52.93 304.00 52.86 303.50 52.78 303.25 52.73 302.75 52.63 302.25 52.52 302.00 52.46 301.50 52.34 301.18 52.25 300.75 52.13 300.35 52.00 300.00 51.88 299.63 51.75 299.25 51.61 298.98 51.50 298.50 51.29 298.25 51.18 297.87 51.00 297.50 50.81 297.25 50.67 296.95 50.50 296.54 50.25 296.25 50.06 296.00 49.89 295.75 49.71 295.48 49.50 295.17 49.25 294.89 49.00 294.62 48.75 294.38 48.50 294.15 48.25 293.93 48.00 293.73 47.75 293.50 47.43 293.25 47.05 293.07 46.75 292.94 46.50 292.75 46.10 292.60 45.75 292.50 45.46 292.36 45.00 292.25 44.52 292.20 44.25 292.14 43.75 292.12 43.25 292.13 42.75 292.17 42.25 292.24 41.75 292.28 41.50 292.40 41.00 292.50 40.66 292.63 40.25 292.75 39.94 292.93 39.50 293.05 39.25 293.25 38.85 293.44 38.50 293.58 38.25 293.75 37.98 294.00 37.60 294.24 37.25 294.43 37.00 294.62 36.75 294.82 36.50 295.03 36.25 295.25 35.99 295.50 35.72 295.75 35.45 296.00 35.20 296.25 34.95 296.50 34.72 296.75 34.49 297.01 34.25 297.31 34.00 297.61 33.75 297.92 33.50 298.24 33.25 298.50 33.06 298.75 32.87 299.00 32.70 299.28 32.50 299.65 32.25 300.00 32.03 300.25 31.87 300.50 31.71 300.85 31.50 301.25 31.27 301.50 31.13 301.75 30.99 302.20 30.75 302.50 30.59 302.75 30.46 303.18 30.25 303.50 30.10 303.75 29.98 304.25 29.76 304.50 29.65 304.84 29.50 305.25 29.33 305.50 29.23 306.00 29.03 306.25 28.94 306.75 28.76 307.00 28.67 307.49 28.50 307.75 28.41 308.25 28.25 308.50 28.17 309.00 28.03 309.25 27.95 309.75 27.81 310.00 27.75 310.50 27.62 310.99 27.50 311.25 27.44 311.75 27.33 312.12 27.25 312.50 27.17 313.00 27.08 313.43 27.00 313.75 26.95 314.25 26.87 314.75 26.79 315.08 26.75 315.50 26.70 316.00 26.64 316.50 26.59 317.00 26.55 317.50 26.51 317.75 26.49 318.25 26.46 318.75 26.44 319.25 26.43 319.75 26.42 320.25 26.42 320.75 26.43 321.25 26.44 321.75 26.46 322.25 26.49 322.50 26.50 323.00 26.54 323.50 26.59 324.00 26.64 324.50 26.71 324.81 26.75 325.25 26.82 325.75 26.90 326.25 27.00 326.50 27.05 327.00 27.16 327.40 27.25 327.75 27.34 328.25 27.47 328.50 27.55 329.00 27.70 329.25 27.78 329.75 27.96 330.00 28.05 330.50 28.25 330.75 28.36 331.08 28.50 331.50 28.70 331.75 28.82 332.09 29.00 332.50 29.23 332.75 29.37 333.00 29.53 333.34 29.75 333.69 30.00 334.00 30.23 334.25 30.43 334.50 30.64 334.75 30.87 335.00 31.11 335.25 31.37 335.50 31.65 335.75 31.96 335.97 32.25 336.14 32.50 336.30 32.75 336.50 33.11 336.69 33.50 336.80 33.75 336.99 34.25 337.06 34.50 337.18 35.00 337.25 35.43 337.29 35.75 337.31 36.25 337.30 36.75 337.25 37.25 337.22 37.50 337.12 38.00 337.00 38.47 336.92 38.75 336.75 39.22 336.64 39.50 336.50 39.82 336.29 40.25 336.16 40.50 336.00 40.79 335.75 41.20 335.56 41.50 335.39 41.75 335.21 42.00 335.00 42.28 334.75 42.60 334.50 42.90 334.25 43.19 334.00 43.47 333.75 43.74 333.50 43.99 333.25 44.24 333.00 44.48 332.75 44.71 332.50 44.94 332.25 45.16 332.00 45.37 331.75 45.57 331.50 45.78 331.21 46.00 330.88 46.25 330.54 46.50 330.25 46.71 330.00 46.88 329.75 47.05 329.45 47.25 329.06 47.50 328.75 47.69 328.50 47.84 328.24 48.00 327.80 48.25 327.50 48.42 327.25 48.56 326.89 48.75 326.50 48.95 326.25 49.08 325.90 49.25 325.50 49.44 325.25 49.56 324.84 49.75 324.50 49.90 324.25 50.01 323.75 50.22 323.50 50.32 323.04 50.50 322.75 50.61 322.38 50.75 322.00 50.89 321.68 51.00 321.25 51.15 320.94 51.25 320.50 51.39 320.14 51.50 319.75 51.62 319.28 51.75 319.00 51.83 318.50 51.96 318.25 52.02 317.75 52.14 317.29 52.25 317.00 52.31 316.50 52.42 316.10 52.50 315.75 52.57 315.25 52.66 314.75 52.74 314.50 52.78 314.00 52.85 313.50 52.92 313.00 52.98 312.75 53.01Z" fill="#75d271" fill-rule="evenodd"/>
<path d="M309.75 51.00 309.25 51.00 309.00 51.00 308.50 50.98 308.00 50.96 307.50 50.93 307.00 50.88 306.50 50.83 306.00 50.77 305.75 50.73 305.25 50.65 304.75 50.56 304.45 50.50 304.00 50.40 303.50 50.27 303.25 50.21 302.75 50.06 302.50 49.98 302.00 49.80 301.75 49.71 301.25 49.51 301.00 49.40 300.68 49.25 300.25 49.04 300.00 48.90 299.74 48.75 299.33 48.50 299.00 48.28 298.75 48.10 298.50 47.90 298.25 47.70 298.00 47.47 297.75 47.23 297.50 46.97 297.25 46.68 297.00 46.36 296.75 46.00 296.60 45.75 296.46 45.50 296.25 45.05 296.13 44.75 296.00 44.34 295.91 44.00 295.82 43.50 295.78 43.00 295.77 42.50 295.80 42.00 295.87 41.50 295.98 41.00 296.05 40.75 296.22 40.25 296.31 40.00 296.50 39.57 296.65 39.25 296.79 39.00 297.00 38.63 297.24 38.25 297.41 38.00 297.59 37.75 297.78 37.50 298.00 37.22 298.25 36.93 298.50 36.65 298.75 36.38 299.00 36.13 299.25 35.89 299.50 35.65 299.75 35.43 300.00 35.21 300.25 35.00 300.57 34.75 300.89 34.50 301.23 34.25 301.50 34.06 301.75 33.89 302.00 33.72 302.35 33.50 302.75 33.25 303.00 33.10 303.25 32.96 303.62 32.75 304.00 32.54 304.25 32.41 304.57 32.25 305.00 32.04 305.25 31.92 305.63 31.75 306.00 31.59 306.25 31.48 306.75 31.28 307.00 31.18 307.47 31.00 307.75 30.90 308.17 30.75 308.50 30.64 308.93 30.50 309.25 30.40 309.75 30.25 310.00 30.18 310.50 30.05 310.75 29.98 311.25 29.86 311.74 29.75 312.00 29.69 312.50 29.59 313.00 29.50 313.25 29.46 313.75 29.37 314.25 29.30 314.63 29.25 315.00 29.20 315.50 29.15 316.00 29.10 316.50 29.07 317.00 29.04 317.50 29.01 317.98 29.00 318.25 29.00 318.75 28.99 319.16 29.00 319.50 29.01 320.00 29.03 320.50 29.06 321.00 29.10 321.50 29.15 322.00 29.21 322.33 29.25 322.75 29.31 323.25 29.40 323.75 29.50 324.00 29.55 324.50 29.67 324.82 29.75 325.25 29.87 325.69 30.00 326.00 30.10 326.42 30.25 326.75 30.38 327.06 30.50 327.50 30.69 327.75 30.81 328.13 31.00 328.50 31.20 328.75 31.35 329.00 31.50 329.38 31.75 329.72 32.00 330.00 32.22 330.25 32.43 330.50 32.66 330.75 32.90 331.00 33.17 331.25 33.47 331.46 33.75 331.63 34.00 331.78 34.25 332.00 34.65 332.16 35.00 332.26 35.25 332.41 35.75 332.50 36.15 332.56 36.50 332.60 37.00 332.60 37.50 332.55 38.00 332.50 38.34 332.41 38.75 332.27 39.25 332.19 39.50 332.00 39.98 331.88 40.25 331.75 40.52 331.50 40.98 331.34 41.25 331.18 41.50 331.00 41.76 330.75 42.11 330.50 42.43 330.25 42.74 330.02 43.00 329.79 43.25 329.55 43.50 329.30 43.75 329.04 44.00 328.77 44.25 328.50 44.49 328.25 44.70 328.00 44.90 327.75 45.10 327.50 45.30 327.23 45.50 326.88 45.75 326.51 46.00 326.25 46.17 326.00 46.34 325.74 46.50 325.33 46.75 325.00 46.94 324.75 47.08 324.44 47.25 324.00 47.49 323.75 47.61 323.48 47.75 323.00 47.98 322.75 48.09 322.41 48.25 322.00 48.43 321.75 48.53 321.25 48.73 321.00 48.83 320.55 49.00 320.25 49.11 319.85 49.25 319.50 49.37 319.08 49.50 318.75 49.60 318.25 49.75 318.00 49.82 317.50 49.95 317.25 50.02 316.75 50.14 316.26 50.25 316.00 50.31 315.50 50.41 315.01 50.50 314.75 50.55 314.25 50.63 313.75 50.70 313.38 50.75 313.00 50.80 312.50 50.85 312.00 50.90 311.50 50.93 311.00 50.96 310.50 50.98 310.00 51.00 309.75 51.00Z" fill="#6ecb6a" fill-rule="evenodd"/>
<path d="M312.75 48.76 312.25 48.81 311.75 48.84 311.25 48.87 310.75 48.89 310.25 48.89 309.75 48.89 309.25 48.87 308.75 48.84 308.25 48.80 307.75 48.75 307.50 48.72 307.00 48.64 306.50 48.56 306.22 48.50 305.75 48.39 305.25 48.27 305.00 48.19 304.50 48.03 304.25 47.95 303.75 47.75 303.50 47.65 303.18 47.50 302.75 47.28 302.50 47.15 302.25 47.00 301.87 46.75 301.53 46.50 301.25 46.28 301.00 46.05 300.75 45.81 300.50 45.53 300.27 45.25 300.09 45.00 299.93 44.75 299.75 44.41 299.56 44.00 299.47 43.75 299.34 43.25 299.26 42.75 299.24 42.50 299.24 42.00 299.26 41.75 299.33 41.25 299.45 40.75 299.52 40.50 299.71 40.00 299.82 39.75 300.00 39.39 300.22 39.00 300.38 38.75 300.55 38.50 300.75 38.22 301.00 37.91 301.25 37.61 301.50 37.33 301.75 37.08 302.00 36.83 302.25 36.60 302.50 36.38 302.75 36.16 303.00 35.96 303.27 35.75 303.61 35.50 303.97 35.25 304.25 35.06 304.50 34.90 304.75 34.75 305.17 34.50 305.50 34.32 305.75 34.18 306.10 34.00 306.50 33.80 306.75 33.68 307.15 33.50 307.50 33.35 307.75 33.24 308.25 33.04 308.50 32.95 309.00 32.77 309.25 32.68 309.75 32.52 310.00 32.44 310.50 32.30 310.75 32.23 311.25 32.10 311.66 32.00 312.00 31.92 312.50 31.82 312.87 31.75 313.25 31.68 313.75 31.60 314.25 31.54 314.54 31.50 315.00 31.45 315.50 31.41 316.00 31.37 316.50 31.35 317.00 31.34 317.50 31.33 318.00 31.34 318.50 31.36 319.00 31.39 319.50 31.44 320.00 31.49 320.25 31.53 320.75 31.60 321.25 31.69 321.53 31.75 322.00 31.86 322.50 31.99 322.75 32.06 323.25 32.22 323.50 32.31 324.00 32.50 324.25 32.61 324.57 32.75 325.00 32.97 325.25 33.11 325.50 33.25 325.88 33.50 326.22 33.75 326.50 33.97 326.75 34.19 327.00 34.44 327.25 34.71 327.49 35.00 327.66 35.25 327.82 35.50 328.00 35.83 328.19 36.25 328.28 36.50 328.41 37.00 328.48 37.50 328.50 37.84 328.50 38.06 328.47 38.50 328.39 39.00 328.26 39.50 328.18 39.75 328.00 40.21 327.87 40.50 327.74 40.75 327.50 41.16 327.28 41.50 327.11 41.75 326.92 42.00 326.72 42.25 326.50 42.51 326.25 42.79 326.00 43.04 325.75 43.29 325.50 43.52 325.25 43.75 324.95 44.00 324.64 44.25 324.31 44.50 324.00 44.72 323.75 44.90 323.50 45.06 323.21 45.25 322.80 45.50 322.50 45.68 322.25 45.82 321.92 46.00 321.50 46.22 321.25 46.34 320.92 46.50 320.50 46.69 320.25 46.80 319.78 47.00 319.50 47.11 319.14 47.25 318.75 47.39 318.44 47.50 318.00 47.65 317.67 47.75 317.25 47.88 316.81 48.00 316.50 48.08 316.00 48.20 315.75 48.26 315.25 48.37 314.75 48.47 314.50 48.51 314.00 48.60 313.50 48.67 313.00 48.73 312.75 48.76Z" fill="#74c471" fill-rule="evenodd"/>
<path d="M313.75 46.53 313.25 46.59 312.75 46.65 312.25 46.69 311.75 46.72 311.25 46.74 310.75 46.74 310.25 46.72 309.75 46.69 309.25 46.64 308.75 46.58 308.26 46.50 308.00 46.45 307.50 46.33 307.20 46.25 306.75 46.11 306.43 46.00 306.00 45.83 305.75 45.71 305.33 45.50 305.00 45.31 304.75 45.14 304.50 44.96 304.24 44.75 303.97 44.50 303.74 44.25 303.50 43.95 303.25 43.56 303.09 43.25 302.99 43.00 302.85 42.50 302.78 42.00 302.79 41.50 302.85 41.00 302.98 40.50 303.07 40.25 303.25 39.85 303.43 39.50 303.58 39.25 303.75 39.00 304.00 38.66 304.25 38.36 304.50 38.08 304.75 37.83 305.00 37.59 305.25 37.37 305.50 37.16 305.75 36.97 306.04 36.75 306.40 36.50 306.75 36.28 307.00 36.12 307.25 35.98 307.67 35.75 308.00 35.58 308.25 35.46 308.70 35.25 309.00 35.12 309.29 35.00 309.75 34.82 310.00 34.73 310.50 34.57 310.75 34.49 311.25 34.34 311.60 34.25 312.00 34.15 312.50 34.04 312.75 33.99 313.25 33.90 313.75 33.83 314.25 33.76 314.50 33.74 315.00 33.70 315.50 33.67 316.00 33.65 316.50 33.65 317.00 33.67 317.50 33.70 318.00 33.74 318.25 33.77 318.75 33.85 319.25 33.94 319.53 34.00 320.00 34.12 320.45 34.25 320.75 34.35 321.14 34.50 321.50 34.66 321.75 34.78 322.16 35.00 322.50 35.21 322.75 35.39 323.00 35.58 323.25 35.80 323.50 36.06 323.75 36.35 324.00 36.71 324.16 37.00 324.27 37.25 324.44 37.75 324.50 38.08 324.54 38.50 324.52 39.00 324.48 39.25 324.36 39.75 324.25 40.08 324.07 40.50 323.94 40.75 323.75 41.07 323.50 41.44 323.27 41.75 323.06 42.00 322.83 42.25 322.59 42.50 322.32 42.75 322.04 43.00 321.75 43.24 321.50 43.43 321.25 43.61 321.00 43.79 320.68 44.00 320.27 44.25 320.00 44.41 319.75 44.55 319.36 44.75 319.00 44.93 318.75 45.05 318.28 45.25 318.00 45.37 317.66 45.50 317.25 45.65 316.96 45.75 316.50 45.90 316.15 46.00 315.75 46.11 315.25 46.23 315.00 46.29 314.50 46.39 314.00 46.49 313.75 46.53Z" fill="#7fba7c" fill-rule="evenodd"/>
<path d="M313.25 44.50 312.75 44.56 312.25 44.59 311.75 44.60 311.25 44.58 310.75 44.55 310.34 44.50 310.00 44.44 309.50 44.34 309.17 44.25 308.75 44.11 308.47 44.00 308.00 43.77 307.75 43.62 307.50 43.45 307.25 43.25 307.00 43.00 306.75 42.69 306.50 42.25 306.41 42.00 306.31 41.50 306.32 41.00 306.43 40.50 306.51 40.25 306.75 39.77 306.92 39.50 307.10 39.25 307.31 39.00 307.54 38.75 307.80 38.50 308.09 38.25 308.42 38.00 308.75 37.77 309.00 37.61 309.25 37.46 309.63 37.25 310.00 37.07 310.25 36.96 310.74 36.75 311.00 36.66 311.45 36.50 311.75 36.41 312.25 36.27 312.50 36.21 313.00 36.11 313.50 36.03 313.75 35.99 314.25 35.94 314.75 35.91 315.25 35.90 315.75 35.91 316.25 35.94 316.73 36.00 317.00 36.04 317.50 36.15 317.88 36.25 318.25 36.37 318.58 36.50 319.00 36.70 319.25 36.85 319.50 37.01 319.80 37.25 320.06 37.50 320.26 37.75 320.50 38.14 320.64 38.50 320.74 39.00 320.73 39.50 320.62 40.00 320.50 40.32 320.28 40.75 320.12 41.00 319.94 41.25 319.73 41.50 319.49 41.75 319.23 42.00 318.93 42.25 318.61 42.50 318.25 42.75 318.00 42.90 317.75 43.05 317.38 43.25 317.00 43.44 316.75 43.55 316.26 43.75 316.00 43.85 315.55 44.00 315.25 44.09 314.75 44.23 314.50 44.29 314.00 44.39 313.50 44.47 313.25 44.50Z" fill="#8ab38a" fill-rule="evenodd"/>
</g>
<path d="M302.7 34.7 L304.6 34.1 L305.8 35.3 L305.9 37.2 L308.3 37.5 L307.2 39.4 L309.5 39.9 L308.4 41.5 L311.0 41.9 L309.8 43.4 L311.9 44.7 L310.6 46.3 L312.5 47.6 L312.2 49.6 L311.2 51.5 L308.4 52.6 L304.6 52.9 L301.2 52.2 L299.8 50.4 L299.5 46.3 L299.9 41.5 L300.7 37.7 L301.6 35.6Z" fill="#c6caf3"/>
<g clip-path="url(#b1)"><path d="M303.25 53.52 302.75 53.65 302.25 53.69 301.75 53.67 301.25 53.56 301.00 53.47 300.53 53.25 300.25 53.08 300.00 52.89 299.75 52.67 299.50 52.40 299.25 52.08 299.03 51.75 298.89 51.50 298.75 51.19 298.58 50.75 298.50 50.48 298.38 50.00 298.31 49.50 298.27 49.00 298.28 48.50 298.32 48.00 298.39 47.50 298.50 47.04 298.58 46.75 298.74 46.25 298.84 46.00 299.00 45.62 299.17 45.25 299.30 45.00 299.50 44.62 299.70 44.25 299.84 44.00 300.00 43.72 300.25 43.28 300.42 43.00 300.57 42.75 300.75 42.47 301.00 42.14 301.25 41.88 301.50 41.66 301.75 41.50 302.25 41.30 302.61 41.25 302.86 41.25 303.25 41.31 303.75 41.48 304.00 41.61 304.25 41.77 304.54 42.00 304.81 42.25 305.05 42.50 305.25 42.75 305.50 43.09 305.75 43.49 305.89 43.75 306.02 44.00 306.23 44.50 306.32 44.75 306.48 45.25 306.55 45.50 306.66 46.00 306.74 46.50 306.77 46.75 306.81 47.25 306.81 47.75 306.79 48.25 306.75 48.60 306.69 49.00 306.59 49.50 306.50 49.79 306.35 50.25 306.25 50.50 306.01 51.00 305.88 51.25 305.72 51.50 305.50 51.82 305.25 52.13 305.00 52.40 304.75 52.64 304.50 52.85 304.25 53.03 303.88 53.25 303.50 53.43 303.25 53.52Z" fill="#b8bcef" fill-rule="evenodd"/>
<path d="M302.50 52.52 302.00 52.61 301.50 52.57 301.21 52.50 300.75 52.31 300.50 52.15 300.25 51.95 300.00 51.69 299.75 51.37 299.53 51.00 299.41 50.75 299.25 50.27 299.18 50.00 299.10 49.50 299.08 49.00 299.12 48.50 299.22 48.00 299.29 47.75 299.48 47.25 299.61 47.00 299.76 46.75 300.00 46.42 300.25 46.15 300.50 45.94 300.79 45.75 301.25 45.53 301.50 45.46 302.00 45.41 302.50 45.48 302.75 45.56 303.14 45.75 303.49 46.00 303.75 46.25 303.96 46.50 304.13 46.75 304.27 47.00 304.49 47.50 304.58 47.75 304.69 48.25 304.74 48.75 304.74 49.25 304.69 49.75 304.57 50.25 304.49 50.50 304.27 51.00 304.13 51.25 303.95 51.50 303.74 51.75 303.47 52.00 303.12 52.25 302.75 52.44 302.50 52.52Z" fill="#a4aae8" fill-rule="evenodd"/>
<path d="M302.50 51.55 302.00 51.69 301.50 51.68 301.01 51.50 300.75 51.33 300.50 51.10 300.25 50.78 300.09 50.50 299.98 50.25 299.84 49.75 299.79 49.25 299.82 48.75 299.93 48.25 300.02 48.00 300.25 47.56 300.49 47.25 300.75 47.00 301.00 46.84 301.25 46.72 301.75 46.62 302.25 46.67 302.50 46.76 302.88 47.00 303.15 47.25 303.35 47.50 303.50 47.76 303.70 48.25 303.76 48.50 303.83 49.00 303.82 49.50 303.75 49.87 303.64 50.25 303.50 50.55 303.25 50.94 303.00 51.22 302.75 51.41 302.50 51.55Z" fill="#8a92de" fill-rule="evenodd"/>
<path d="M302.25 50.82 301.75 50.92 301.25 50.79 301.00 50.62 300.75 50.34 300.56 50.00 300.48 49.75 300.41 49.25 300.46 48.75 300.53 48.50 300.75 48.08 301.00 47.80 301.25 47.62 301.67 47.50 301.88 47.50 302.25 47.60 302.50 47.75 302.75 48.00 303.00 48.44 303.09 48.75 303.14 49.25 303.07 49.75 302.99 50.00 302.75 50.41 302.50 50.66 302.25 50.82Z" fill="#6e78d4" fill-rule="evenodd"/>
<path d="M301.75 50.25 301.50 50.19 301.23 50.00 301.00 49.58 300.95 49.25 301.00 48.87 301.19 48.50 301.50 48.25 301.75 48.20 302.01 48.25 302.33 48.50 302.50 48.79 302.58 49.25 302.50 49.65 302.29 50.00 302.00 50.20 301.75 50.25Z" fill="#505cc8" fill-rule="evenodd"/>
</g>
<path d="M384.0 11.5C385.1 10.5 386.8 9.2 388.5 8.2C390.2 7.2 392.3 6.2 394.3 5.3C396.3 4.4 398.7 3.4 400.6 2.8C402.5 2.2 404.2 1.7 405.5 1.5C406.8 1.3 407.6 1.0 408.5 1.4C409.4 1.8 409.9 2.2 410.6 3.6C411.3 5.0 411.9 6.9 412.5 9.5C413.1 12.1 413.6 15.3 414.0 19.0C414.4 22.7 414.7 28.2 415.0 31.7C415.3 35.2 415.8 36.4 415.8 40.0C415.8 43.6 415.3 49.9 415.0 53.3C414.7 56.7 414.4 58.6 414.0 60.3C413.6 62.0 413.0 62.2 412.3 63.4C411.6 64.6 411.1 66.2 410.0 67.3C408.9 68.3 407.3 69.3 406.0 69.7C404.7 70.1 403.9 70.1 402.2 69.7C400.5 69.3 398.4 68.3 396.0 67.3C393.6 66.2 389.7 64.3 388.0 63.4C386.3 62.5 386.6 62.5 385.8 61.9C385.0 61.2 384.3 60.5 383.4 59.5C382.5 58.5 381.6 56.8 380.3 55.6C379.0 54.4 376.5 53.8 375.6 52.5C374.7 51.2 375.3 49.2 374.8 47.8C374.3 46.4 373.6 45.1 372.8 44.2C372.0 43.3 370.8 43.0 370.0 42.4C369.2 41.8 368.3 41.2 368.2 40.6C368.1 40.0 368.5 39.5 369.1 38.7C369.7 37.9 371.5 37.1 371.9 36.0C372.3 34.9 371.9 33.1 371.3 32.3C370.7 31.5 368.9 31.8 368.2 31.4C367.5 30.9 367.0 30.2 367.0 29.6C367.0 29.0 367.4 28.2 368.2 27.8C369.0 27.4 371.1 27.5 371.9 26.9C372.7 26.3 372.6 25.2 372.8 24.1C373.0 23.0 372.8 21.6 373.2 20.5C373.6 19.4 374.2 18.3 375.5 17.7C376.8 17.1 379.9 17.4 381.0 16.8C382.1 16.2 381.5 14.9 382.0 14.0C382.5 13.1 382.9 12.5 384.0 11.5Z" fill="#f2a6ab" opacity="0.73"/>
<g clip-path="url(#p1)"><path d="M407.75 73.03 407.25 73.14 406.75 73.20 406.25 73.22 405.75 73.21 405.25 73.15 404.75 73.06 404.48 73.00 404.00 72.86 403.67 72.75 403.25 72.59 403.00 72.48 402.51 72.25 402.25 72.12 402.00 71.99 401.59 71.75 401.25 71.55 401.00 71.39 400.75 71.22 400.42 71.00 400.07 70.75 399.75 70.51 399.50 70.32 399.25 70.12 399.00 69.92 398.75 69.71 398.50 69.50 398.22 69.25 397.94 69.00 397.67 68.75 397.41 68.50 397.16 68.25 396.91 68.00 396.67 67.75 396.43 67.50 396.20 67.25 395.98 67.00 395.75 66.74 395.50 66.45 395.25 66.16 395.00 65.85 394.75 65.53 394.53 65.25 394.34 65.00 394.15 64.75 393.97 64.50 393.75 64.20 393.50 63.84 393.27 63.50 393.10 63.25 392.94 63.00 392.75 62.71 392.50 62.32 392.30 62.00 392.15 61.75 392.00 61.50 391.75 61.07 391.57 60.75 391.43 60.50 391.25 60.18 391.02 59.75 390.88 59.50 390.75 59.25 390.50 58.76 390.37 58.50 390.25 58.25 390.00 57.75 389.88 57.50 389.75 57.21 389.54 56.75 389.42 56.50 389.25 56.11 389.09 55.75 388.99 55.50 388.78 55.00 388.68 54.75 388.50 54.31 388.38 54.00 388.25 53.68 388.09 53.25 387.99 53.00 387.81 52.50 387.72 52.25 387.54 51.75 387.46 51.50 387.29 51.00 387.20 50.75 387.04 50.25 386.96 50.00 386.80 49.50 386.73 49.25 386.58 48.75 386.50 48.49 386.36 48.00 386.25 47.61 386.15 47.25 386.02 46.75 385.95 46.50 385.82 46.00 385.75 45.71 385.64 45.25 385.52 44.75 385.46 44.50 385.35 44.00 385.25 43.55 385.19 43.25 385.08 42.75 385.00 42.34 384.93 42.00 384.84 41.50 384.75 41.01 384.70 40.75 384.62 40.25 384.54 39.75 384.50 39.50 384.42 39.00 384.35 38.50 384.28 38.00 384.24 37.75 384.18 37.25 384.12 36.75 384.06 36.25 384.01 35.75 383.98 35.50 383.94 35.00 383.89 34.50 383.85 34.00 383.81 33.50 383.78 33.00 383.75 32.50 383.74 32.25 383.71 31.75 383.69 31.25 383.67 30.75 383.66 30.25 383.65 29.75 383.65 29.25 383.64 28.75 383.65 28.25 383.65 27.75 383.66 27.25 383.68 26.75 383.70 26.25 383.72 25.75 383.75 25.26 383.77 25.00 383.80 24.50 383.84 24.00 383.88 23.50 383.93 23.00 383.98 22.50 384.01 22.25 384.07 21.75 384.14 21.25 384.21 20.75 384.25 20.50 384.33 20.00 384.41 19.50 384.50 19.03 384.55 18.75 384.65 18.25 384.75 17.81 384.82 17.50 384.94 17.00 385.00 16.74 385.13 16.25 385.25 15.79 385.33 15.50 385.48 15.00 385.56 14.75 385.72 14.25 385.81 14.00 385.98 13.50 386.07 13.25 386.25 12.79 386.37 12.50 386.50 12.18 386.68 11.75 386.80 11.50 387.00 11.07 387.16 10.75 387.28 10.50 387.50 10.10 387.69 9.75 387.84 9.50 388.00 9.23 388.25 8.84 388.48 8.50 388.65 8.25 388.83 8.00 389.02 7.75 389.25 7.47 389.50 7.17 389.75 6.89 390.00 6.62 390.25 6.37 390.50 6.14 390.75 5.91 391.00 5.70 391.26 5.50 391.60 5.25 391.98 5.00 392.25 4.83 392.50 4.69 392.88 4.50 393.25 4.33 393.50 4.23 394.00 4.06 394.25 3.99 394.75 3.87 395.25 3.78 395.50 3.75 396.00 3.71 396.50 3.70 397.00 3.73 397.25 3.75 397.75 3.82 398.25 3.91 398.60 4.00 399.00 4.11 399.42 4.25 399.75 4.37 400.06 4.50 400.50 4.69 400.75 4.81 401.12 5.00 401.50 5.21 401.75 5.35 402.00 5.51 402.38 5.75 402.75 5.99 403.00 6.17 403.25 6.35 403.50 6.54 403.78 6.75 404.09 7.00 404.40 7.25 404.69 7.50 404.98 7.75 405.25 7.99 405.50 8.22 405.75 8.45 406.00 8.69 406.25 8.94 406.50 9.19 406.75 9.45 407.00 9.71 407.25 9.98 407.50 10.25 407.72 10.50 407.94 10.75 408.15 11.00 408.36 11.25 408.56 11.50 408.76 11.75 409.00 12.06 409.25 12.39 409.50 12.73 409.69 13.00 409.87 13.25 410.04 13.50 410.25 13.82 410.50 14.21 410.68 14.50 410.84 14.75 411.00 15.02 411.25 15.45 411.42 15.75 411.56 16.00 411.75 16.36 411.96 16.75 412.09 17.00 412.25 17.33 412.46 17.75 412.58 18.00 412.75 18.37 412.92 18.75 413.03 19.00 413.25 19.50 413.35 19.75 413.50 20.10 413.66 20.50 413.76 20.75 413.95 21.25 414.05 21.50 414.23 22.00 414.32 22.25 414.49 22.75 414.58 23.00 414.75 23.50 414.83 23.75 414.99 24.25 415.07 24.50 415.22 25.00 415.30 25.25 415.45 25.75 415.52 26.00 415.66 26.50 415.75 26.84 415.86 27.25 415.99 27.75 416.06 28.00 416.18 28.50 416.25 28.79 416.36 29.25 416.48 29.75 416.53 30.00 416.64 30.50 416.75 31.00 416.80 31.25 416.91 31.75 417.00 32.23 417.05 32.50 417.15 33.00 417.24 33.50 417.28 33.75 417.37 34.25 417.45 34.75 417.50 35.07 417.57 35.50 417.64 36.00 417.71 36.50 417.75 36.76 417.82 37.25 417.88 37.75 417.94 38.25 418.00 38.75 418.02 39.00 418.08 39.50 418.13 40.00 418.17 40.50 418.22 41.00 418.25 41.44 418.27 41.75 418.31 42.25 418.34 42.75 418.37 43.25 418.39 43.75 418.41 44.25 418.43 44.75 418.44 45.25 418.45 45.75 418.46 46.25 418.46 46.75 418.46 47.25 418.46 47.75 418.45 48.25 418.44 48.75 418.42 49.25 418.40 49.75 418.38 50.25 418.35 50.75 418.32 51.25 418.28 51.75 418.25 52.13 418.22 52.50 418.17 53.00 418.12 53.50 418.06 54.00 418.00 54.48 417.96 54.75 417.90 55.25 417.82 55.75 417.75 56.19 417.70 56.50 417.61 57.00 417.51 57.50 417.47 57.75 417.36 58.25 417.25 58.75 417.20 59.00 417.08 59.50 417.00 59.80 416.89 60.25 416.75 60.74 416.68 61.00 416.53 61.50 416.45 61.75 416.29 62.25 416.21 62.50 416.03 63.00 415.94 63.25 415.75 63.75 415.66 64.00 415.50 64.39 415.35 64.75 415.24 65.00 415.01 65.50 414.89 65.75 414.75 66.04 414.52 66.50 414.39 66.75 414.25 67.00 414.00 67.44 413.81 67.75 413.66 68.00 413.50 68.25 413.25 68.62 413.00 68.97 412.80 69.25 412.60 69.50 412.40 69.75 412.19 70.00 411.97 70.25 411.74 70.50 411.50 70.75 411.24 71.00 410.96 71.25 410.67 71.50 410.34 71.75 410.00 72.00 409.75 72.16 409.50 72.31 409.14 72.50 408.75 72.69 408.50 72.79 408.00 72.96 407.75 73.03Z" fill="#e0aca4" fill-rule="evenodd"/>
<path d="M407.00 65.78 406.50 65.83 406.00 65.82 405.57 65.75 405.25 65.67 404.78 65.50 404.50 65.37 404.25 65.24 403.86 65.00 403.50 64.75 403.25 64.56 403.00 64.36 402.75 64.14 402.50 63.90 402.25 63.65 402.00 63.40 401.75 63.13 401.50 62.84 401.25 62.55 401.00 62.25 400.80 62.00 400.60 61.75 400.40 61.50 400.21 61.25 400.00 60.97 399.75 60.63 399.50 60.29 399.29 60.00 399.11 59.75 398.93 59.50 398.75 59.25 398.50 58.90 398.25 58.54 398.04 58.25 397.87 58.00 397.69 57.75 397.50 57.47 397.25 57.10 397.01 56.75 396.84 56.50 396.68 56.25 396.50 55.98 396.25 55.59 396.03 55.25 395.87 55.00 395.72 54.75 395.50 54.39 395.27 54.00 395.13 53.75 394.98 53.50 394.75 53.08 394.57 52.75 394.44 52.50 394.25 52.13 394.06 51.75 393.93 51.50 393.75 51.12 393.58 50.75 393.46 50.50 393.25 50.02 393.13 49.75 393.00 49.43 392.82 49.00 392.72 48.75 392.53 48.25 392.43 48.00 392.25 47.50 392.16 47.25 392.00 46.78 391.91 46.50 391.75 46.02 391.66 45.75 391.51 45.25 391.44 45.00 391.29 44.50 391.22 44.25 391.09 43.75 391.00 43.41 390.90 43.00 390.78 42.50 390.72 42.25 390.61 41.75 390.50 41.25 390.45 41.00 390.35 40.50 390.26 40.00 390.22 39.75 390.14 39.25 390.06 38.75 390.00 38.36 389.95 38.00 389.88 37.50 389.82 37.00 389.77 36.50 389.75 36.25 389.70 35.75 389.66 35.25 389.62 34.75 389.59 34.25 389.57 33.75 389.55 33.25 389.54 32.75 389.53 32.25 389.53 31.75 389.54 31.25 389.55 30.75 389.57 30.25 389.59 29.75 389.62 29.25 389.66 28.75 389.70 28.25 389.75 27.81 389.79 27.50 389.85 27.00 389.92 26.50 390.00 26.00 390.04 25.75 390.14 25.25 390.24 24.75 390.30 24.50 390.41 24.00 390.50 23.66 390.61 23.25 390.75 22.78 390.84 22.50 391.00 22.02 391.10 21.75 391.25 21.34 391.39 21.00 391.50 20.74 391.73 20.25 391.85 20.00 392.00 19.70 392.25 19.25 392.40 19.00 392.56 18.75 392.75 18.47 393.00 18.12 393.25 17.80 393.50 17.51 393.74 17.25 394.00 17.00 394.25 16.77 394.50 16.57 394.75 16.38 395.00 16.21 395.36 16.00 395.75 15.80 396.00 15.69 396.50 15.52 396.75 15.45 397.25 15.35 397.75 15.30 398.25 15.28 398.75 15.31 399.25 15.36 399.75 15.45 400.01 15.50 400.50 15.61 401.00 15.75 401.25 15.81 401.75 15.96 402.00 16.04 402.50 16.19 402.75 16.27 403.25 16.42 403.50 16.51 404.00 16.68 404.25 16.77 404.75 16.96 405.00 17.06 405.41 17.25 405.75 17.41 406.00 17.55 406.34 17.75 406.73 18.00 407.00 18.19 407.25 18.37 407.50 18.58 407.75 18.80 408.00 19.03 408.25 19.28 408.50 19.54 408.75 19.83 409.00 20.13 409.25 20.46 409.46 20.75 409.64 21.00 409.80 21.25 410.00 21.56 410.25 21.98 410.41 22.25 410.54 22.50 410.75 22.90 410.93 23.25 411.05 23.50 411.25 23.94 411.39 24.25 411.50 24.52 411.70 25.00 411.80 25.25 411.99 25.75 412.08 26.00 412.25 26.50 412.34 26.75 412.50 27.25 412.58 27.50 412.72 28.00 412.80 28.25 412.94 28.75 413.00 29.00 413.13 29.50 413.25 29.98 413.32 30.25 413.43 30.75 413.50 31.07 413.59 31.50 413.69 32.00 413.75 32.29 413.84 32.75 413.93 33.25 414.00 33.70 414.05 34.00 414.13 34.50 414.20 35.00 414.25 35.38 414.30 35.75 414.36 36.25 414.42 36.75 414.47 37.25 414.50 37.53 414.55 38.00 414.59 38.50 414.63 39.00 414.67 39.50 414.70 40.00 414.72 40.50 414.75 41.00 414.76 41.25 414.78 41.75 414.79 42.25 414.80 42.75 414.81 43.25 414.81 43.75 414.81 44.25 414.80 44.75 414.79 45.25 414.78 45.75 414.76 46.25 414.75 46.50 414.72 47.00 414.70 47.50 414.66 48.00 414.63 48.50 414.58 49.00 414.54 49.50 414.50 49.84 414.46 50.25 414.40 50.75 414.34 51.25 414.26 51.75 414.23 52.00 414.15 52.50 414.07 53.00 414.00 53.38 413.93 53.75 413.84 54.25 413.75 54.66 413.68 55.00 413.56 55.50 413.50 55.76 413.38 56.25 413.25 56.73 413.18 57.00 413.03 57.50 412.95 57.75 412.79 58.25 412.71 58.50 412.53 59.00 412.44 59.25 412.25 59.74 412.15 60.00 412.00 60.35 411.82 60.75 411.70 61.00 411.50 61.41 411.32 61.75 411.19 62.00 411.00 62.32 410.75 62.73 410.57 63.00 410.39 63.25 410.21 63.50 410.00 63.76 409.75 64.05 409.50 64.32 409.25 64.56 409.00 64.78 408.71 65.00 408.34 65.25 408.00 65.44 407.75 65.55 407.25 65.72 407.00 65.78Z" fill="#e4a49e" fill-rule="evenodd"/>
<path d="M407.50 62.80 407.00 62.94 406.50 63.00 406.00 62.97 405.50 62.85 405.24 62.75 404.75 62.51 404.50 62.36 404.25 62.18 404.00 61.99 403.73 61.75 403.47 61.50 403.23 61.25 403.00 61.00 402.75 60.70 402.50 60.38 402.25 60.04 402.05 59.75 401.88 59.50 401.72 59.25 401.50 58.90 401.26 58.50 401.11 58.25 400.97 58.00 400.75 57.59 400.56 57.25 400.43 57.00 400.25 56.64 400.05 56.25 399.93 56.00 399.75 55.63 399.57 55.25 399.45 55.00 399.25 54.57 399.10 54.25 398.98 54.00 398.76 53.50 398.64 53.25 398.50 52.94 398.30 52.50 398.19 52.25 398.00 51.83 397.85 51.50 397.74 51.25 397.52 50.75 397.40 50.50 397.25 50.15 397.07 49.75 396.96 49.50 396.75 49.01 396.63 48.75 396.50 48.43 396.32 48.00 396.21 47.75 396.01 47.25 395.91 47.00 395.75 46.60 395.61 46.25 395.50 45.95 395.33 45.50 395.25 45.25 395.07 44.75 394.99 44.50 394.83 44.00 394.75 43.75 394.60 43.25 394.50 42.92 394.38 42.50 394.25 42.00 394.19 41.75 394.07 41.25 394.00 40.95 393.90 40.50 393.80 40.00 393.75 39.73 393.67 39.25 393.58 38.75 393.51 38.25 393.48 38.00 393.41 37.50 393.36 37.00 393.31 36.50 393.27 36.00 393.25 35.67 393.23 35.25 393.21 34.75 393.20 34.25 393.20 33.75 393.20 33.25 393.22 32.75 393.24 32.25 393.26 32.00 393.30 31.50 393.35 31.00 393.42 30.50 393.49 30.00 393.53 29.75 393.62 29.25 393.73 28.75 393.79 28.50 393.92 28.00 394.00 27.72 394.15 27.25 394.25 26.96 394.43 26.50 394.53 26.25 394.75 25.77 394.89 25.50 395.03 25.25 395.25 24.87 395.50 24.50 395.69 24.25 395.89 24.00 396.12 23.75 396.36 23.50 396.64 23.25 396.96 23.00 397.25 22.80 397.50 22.65 397.77 22.50 398.25 22.27 398.50 22.17 398.95 22.00 399.25 21.90 399.73 21.75 400.00 21.67 400.50 21.52 400.75 21.45 401.25 21.31 401.50 21.24 402.00 21.10 402.38 21.00 402.75 20.91 403.25 20.81 403.66 20.75 404.00 20.71 404.50 20.69 405.00 20.72 405.27 20.75 405.75 20.85 406.23 21.00 406.50 21.11 406.78 21.25 407.21 21.50 407.50 21.70 407.75 21.90 408.00 22.12 408.25 22.35 408.50 22.62 408.75 22.90 409.00 23.21 409.21 23.50 409.39 23.75 409.55 24.00 409.75 24.32 410.00 24.75 410.14 25.00 410.27 25.25 410.50 25.72 410.63 26.00 410.75 26.26 410.96 26.75 411.06 27.00 411.25 27.49 411.35 27.75 411.50 28.19 411.61 28.50 411.75 28.95 411.84 29.25 411.99 29.75 412.06 30.00 412.20 30.50 412.26 30.75 412.38 31.25 412.50 31.75 412.56 32.00 412.66 32.50 412.75 32.94 412.81 33.25 412.90 33.75 412.99 34.25 413.03 34.50 413.11 35.00 413.18 35.50 413.25 36.00 413.28 36.25 413.34 36.75 413.40 37.25 413.45 37.75 413.49 38.25 413.51 38.50 413.55 39.00 413.59 39.50 413.62 40.00 413.64 40.50 413.67 41.00 413.68 41.50 413.69 42.00 413.70 42.50 413.71 43.00 413.71 43.50 413.70 44.00 413.69 44.50 413.68 45.00 413.66 45.50 413.64 46.00 413.61 46.50 413.58 47.00 413.54 47.50 413.50 47.99 413.48 48.25 413.43 48.75 413.38 49.25 413.32 49.75 413.25 50.24 413.21 50.50 413.14 51.00 413.06 51.50 413.00 51.86 412.93 52.25 412.84 52.75 412.75 53.16 412.68 53.50 412.57 54.00 412.50 54.27 412.38 54.75 412.25 55.23 412.18 55.50 412.03 56.00 411.95 56.25 411.78 56.75 411.70 57.00 411.51 57.50 411.42 57.75 411.25 58.16 411.10 58.50 410.99 58.75 410.75 59.24 410.62 59.50 410.48 59.75 410.25 60.15 410.03 60.50 409.85 60.75 409.67 61.00 409.48 61.25 409.25 61.51 409.00 61.78 408.75 62.01 408.46 62.25 408.09 62.50 407.75 62.69 407.50 62.80Z" fill="#e6988f" fill-rule="evenodd"/>
<path d="M407.25 61.29 406.75 61.40 406.25 61.40 405.75 61.31 405.50 61.22 405.03 61.00 404.75 60.83 404.50 60.65 404.25 60.45 404.00 60.22 403.75 59.97 403.50 59.69 403.25 59.39 403.00 59.06 402.78 58.75 402.62 58.50 402.46 58.25 402.25 57.91 402.02 57.50 401.88 57.25 401.75 57.00 401.50 56.51 401.37 56.25 401.25 55.99 401.03 55.50 400.92 55.25 400.75 54.85 400.60 54.50 400.50 54.24 400.31 53.75 400.21 53.50 400.03 53.00 399.93 52.75 399.76 52.25 399.67 52.00 399.50 51.50 399.42 51.25 399.25 50.75 399.17 50.50 399.01 50.00 398.93 49.75 398.78 49.25 398.71 49.00 398.56 48.50 398.48 48.25 398.34 47.75 398.25 47.44 398.12 47.00 398.00 46.55 397.92 46.25 397.78 45.75 397.72 45.50 397.58 45.00 397.50 44.66 397.40 44.25 397.27 43.75 397.22 43.50 397.10 43.00 397.00 42.55 396.93 42.25 396.83 41.75 396.75 41.33 396.69 41.00 396.60 40.50 396.52 40.00 396.48 39.75 396.41 39.25 396.35 38.75 396.29 38.25 396.25 37.78 396.23 37.50 396.20 37.00 396.18 36.50 396.17 36.00 396.17 35.50 396.18 35.00 396.20 34.50 396.24 34.00 396.27 33.75 396.33 33.25 396.40 32.75 396.50 32.25 396.55 32.00 396.67 31.50 396.75 31.21 396.89 30.75 397.00 30.44 397.17 30.00 397.27 29.75 397.50 29.26 397.63 29.00 397.77 28.75 398.00 28.37 398.24 28.00 398.41 27.75 398.59 27.50 398.78 27.25 399.00 26.97 399.25 26.67 399.50 26.39 399.75 26.11 400.00 25.85 400.25 25.59 400.50 25.35 400.75 25.11 401.00 24.88 401.25 24.65 401.50 24.44 401.75 24.24 402.05 24.00 402.40 23.75 402.75 23.52 403.00 23.38 403.25 23.24 403.75 23.01 404.00 22.91 404.50 22.77 404.75 22.73 405.25 22.68 405.75 22.71 406.01 22.75 406.50 22.89 406.77 23.00 407.24 23.25 407.50 23.42 407.75 23.61 408.00 23.82 408.25 24.06 408.50 24.33 408.75 24.62 409.00 24.95 409.21 25.25 409.38 25.50 409.53 25.75 409.75 26.12 409.96 26.50 410.09 26.75 410.25 27.09 410.44 27.50 410.55 27.75 410.75 28.25 410.85 28.50 411.00 28.91 411.12 29.25 411.25 29.64 411.36 30.00 411.50 30.45 411.59 30.75 411.72 31.25 411.79 31.50 411.91 32.00 412.00 32.38 412.08 32.75 412.19 33.25 412.25 33.56 412.33 34.00 412.42 34.50 412.50 34.97 412.55 35.25 412.62 35.75 412.69 36.25 412.75 36.74 412.78 37.00 412.84 37.50 412.89 38.00 412.93 38.50 412.97 39.00 413.00 39.38 413.03 39.75 413.05 40.25 413.08 40.75 413.10 41.25 413.11 41.75 413.12 42.25 413.13 42.75 413.13 43.25 413.12 43.75 413.11 44.25 413.10 44.75 413.08 45.25 413.06 45.75 413.03 46.25 413.00 46.64 412.97 47.00 412.93 47.50 412.89 48.00 412.84 48.50 412.78 49.00 412.75 49.25 412.68 49.75 412.61 50.25 412.53 50.75 412.49 51.00 412.40 51.50 412.30 52.00 412.25 52.26 412.15 52.75 412.03 53.25 411.97 53.50 411.84 54.00 411.75 54.33 411.63 54.75 411.50 55.18 411.40 55.50 411.25 55.93 411.13 56.25 411.00 56.60 410.84 57.00 410.73 57.25 410.50 57.75 410.38 58.00 410.25 58.25 410.00 58.69 409.81 59.00 409.65 59.25 409.47 59.50 409.25 59.79 409.00 60.08 408.75 60.34 408.50 60.57 408.25 60.77 407.90 61.00 407.50 61.20 407.25 61.29Z" fill="#e88880" fill-rule="evenodd"/>
<path d="M407.00 59.50 406.50 59.56 406.03 59.50 405.75 59.42 405.35 59.25 405.00 59.04 404.75 58.86 404.50 58.64 404.25 58.40 404.00 58.13 403.75 57.82 403.51 57.50 403.34 57.25 403.18 57.00 403.00 56.71 402.75 56.27 402.60 56.00 402.48 55.75 402.25 55.28 402.12 55.00 402.00 54.71 401.81 54.25 401.71 54.00 401.52 53.50 401.43 53.25 401.25 52.75 401.17 52.50 401.01 52.00 400.93 51.75 400.79 51.25 400.72 51.00 400.58 50.50 400.50 50.20 400.38 49.75 400.27 49.25 400.21 49.00 400.09 48.50 400.00 48.05 399.94 47.75 399.84 47.25 399.75 46.76 399.70 46.50 399.62 46.00 399.54 45.50 399.50 45.24 399.43 44.75 399.36 44.25 399.30 43.75 399.25 43.29 399.22 43.00 399.17 42.50 399.13 42.00 399.09 41.50 399.06 41.00 399.04 40.50 399.03 40.00 399.02 39.50 399.01 39.00 399.02 38.50 399.03 38.00 399.05 37.50 399.08 37.00 399.12 36.50 399.17 36.00 399.23 35.50 399.27 35.25 399.34 34.75 399.43 34.25 399.50 33.87 399.58 33.50 399.69 33.00 399.76 32.75 399.89 32.25 400.00 31.88 400.12 31.50 400.25 31.12 400.38 30.75 400.50 30.44 400.68 30.00 400.79 29.75 401.00 29.29 401.14 29.00 401.27 28.75 401.50 28.34 401.70 28.00 401.85 27.75 402.02 27.50 402.25 27.17 402.50 26.84 402.75 26.54 403.00 26.27 403.25 26.02 403.50 25.79 403.75 25.59 404.00 25.42 404.27 25.25 404.75 25.02 405.00 24.94 405.50 24.83 406.00 24.83 406.50 24.91 406.76 25.00 407.25 25.23 407.50 25.39 407.75 25.58 408.00 25.80 408.25 26.04 408.50 26.32 408.75 26.63 409.00 26.98 409.17 27.25 409.33 27.50 409.50 27.80 409.74 28.25 409.86 28.50 410.00 28.79 410.20 29.25 410.30 29.50 410.50 30.00 410.59 30.25 410.75 30.72 410.84 31.00 410.99 31.50 411.07 31.75 411.20 32.25 411.27 32.50 411.39 33.00 411.50 33.47 411.56 33.75 411.67 34.25 411.75 34.70 411.81 35.00 411.89 35.50 411.97 36.00 412.01 36.25 412.08 36.75 412.14 37.25 412.20 37.75 412.25 38.25 412.27 38.50 412.31 39.00 412.35 39.50 412.38 40.00 412.41 40.50 412.43 41.00 412.45 41.50 412.46 42.00 412.47 42.50 412.47 43.00 412.46 43.50 412.46 44.00 412.44 44.50 412.42 45.00 412.40 45.50 412.37 46.00 412.33 46.50 412.29 47.00 412.25 47.41 412.22 47.75 412.16 48.25 412.10 48.75 412.03 49.25 411.99 49.50 411.91 50.00 411.83 50.50 411.75 50.90 411.68 51.25 411.58 51.75 411.50 52.08 411.40 52.50 411.27 53.00 411.20 53.25 411.06 53.75 410.98 54.00 410.81 54.50 410.73 54.75 410.54 55.25 410.44 55.50 410.25 55.94 410.11 56.25 409.98 56.50 409.75 56.94 409.57 57.25 409.41 57.50 409.24 57.75 409.00 58.08 408.75 58.37 408.50 58.63 408.25 58.86 408.00 59.05 407.67 59.25 407.25 59.44 407.00 59.50Z" fill="#e87468" fill-rule="evenodd"/>
<path d="M407.00 56.51 406.50 56.56 406.13 56.50 405.75 56.37 405.50 56.24 405.17 56.00 404.89 55.75 404.65 55.50 404.44 55.25 404.25 55.00 404.00 54.63 403.78 54.25 403.64 54.00 403.50 53.73 403.27 53.25 403.16 53.00 403.00 52.61 402.86 52.25 402.75 51.95 402.60 51.50 402.50 51.19 402.37 50.75 402.25 50.34 402.16 50.00 402.04 49.50 401.98 49.25 401.87 48.75 401.77 48.25 401.72 48.00 401.63 47.50 401.55 47.00 401.50 46.69 401.44 46.25 401.37 45.75 401.32 45.25 401.27 44.75 401.24 44.50 401.20 44.00 401.17 43.50 401.14 43.00 401.12 42.50 401.11 42.00 401.10 41.50 401.10 41.00 401.11 40.50 401.12 40.00 401.14 39.50 401.17 39.00 401.21 38.50 401.25 38.04 401.28 37.75 401.33 37.25 401.40 36.75 401.47 36.25 401.51 36.00 401.60 35.50 401.70 35.00 401.76 34.75 401.87 34.25 402.00 33.75 402.07 33.50 402.22 33.00 402.30 32.75 402.47 32.25 402.57 32.00 402.75 31.55 402.88 31.25 403.00 31.00 403.25 30.52 403.40 30.25 403.56 30.00 403.75 29.71 404.00 29.38 404.25 29.09 404.50 28.84 404.75 28.63 405.00 28.46 405.40 28.25 405.75 28.13 406.25 28.09 406.75 28.17 407.00 28.26 407.43 28.50 407.75 28.74 408.00 28.98 408.24 29.25 408.44 29.50 408.62 29.75 408.79 30.00 409.00 30.36 409.21 30.75 409.33 31.00 409.50 31.37 409.66 31.75 409.76 32.00 409.94 32.50 410.03 32.75 410.18 33.25 410.26 33.50 410.40 34.00 410.50 34.40 410.58 34.75 410.69 35.25 410.75 35.52 410.84 36.00 410.93 36.50 411.00 36.93 411.05 37.25 411.12 37.75 411.18 38.25 411.23 38.75 411.26 39.00 411.30 39.50 411.34 40.00 411.37 40.50 411.39 41.00 411.41 41.50 411.42 42.00 411.43 42.50 411.43 43.00 411.42 43.50 411.41 44.00 411.39 44.50 411.37 45.00 411.33 45.50 411.29 46.00 411.25 46.48 411.22 46.75 411.17 47.25 411.10 47.75 411.03 48.25 410.99 48.50 410.91 49.00 410.82 49.50 410.75 49.83 410.66 50.25 410.54 50.75 410.48 51.00 410.34 51.50 410.25 51.81 410.11 52.25 410.00 52.57 409.84 53.00 409.74 53.25 409.52 53.75 409.40 54.00 409.25 54.30 409.00 54.74 408.83 55.00 408.65 55.25 408.45 55.50 408.22 55.75 407.95 56.00 407.60 56.25 407.25 56.43 407.00 56.51Z" fill="#e65a4c" fill-rule="evenodd"/>
<path d="M406.75 53.54 406.25 53.50 406.00 53.41 405.71 53.25 405.39 53.00 405.15 52.75 404.94 52.50 404.75 52.24 404.50 51.83 404.32 51.50 404.20 51.25 404.00 50.80 403.88 50.50 403.75 50.16 403.61 49.75 403.50 49.39 403.39 49.00 403.26 48.50 403.20 48.25 403.09 47.75 403.00 47.32 402.94 47.00 402.86 46.50 402.78 46.00 402.75 45.74 402.69 45.25 402.64 44.75 402.60 44.25 402.56 43.75 402.54 43.25 402.52 42.75 402.51 42.25 402.51 41.75 402.52 41.25 402.53 40.75 402.55 40.25 402.59 39.75 402.63 39.25 402.68 38.75 402.74 38.25 402.77 38.00 402.85 37.50 402.94 37.00 403.00 36.68 403.09 36.25 403.21 35.75 403.28 35.50 403.43 35.00 403.51 34.75 403.68 34.25 403.78 34.00 404.00 33.50 404.12 33.25 404.25 33.00 404.50 32.58 404.74 32.25 404.95 32.00 405.21 31.75 405.50 31.53 405.75 31.39 406.25 31.25 406.50 31.25 406.75 31.29 407.23 31.50 407.50 31.69 407.75 31.92 408.00 32.21 408.22 32.50 408.38 32.75 408.53 33.00 408.75 33.43 408.89 33.75 409.00 34.00 409.19 34.50 409.28 34.75 409.44 35.25 409.51 35.50 409.65 36.00 409.75 36.43 409.82 36.75 409.92 37.25 410.00 37.69 410.05 38.00 410.12 38.50 410.19 39.00 410.24 39.50 410.27 39.75 410.31 40.25 410.34 40.75 410.37 41.25 410.39 41.75 410.40 42.25 410.40 42.75 410.39 43.25 410.38 43.75 410.36 44.25 410.33 44.75 410.29 45.25 410.25 45.70 410.22 46.00 410.16 46.50 410.09 47.00 410.01 47.50 409.96 47.75 409.87 48.25 409.76 48.75 409.70 49.00 409.56 49.50 409.49 49.75 409.33 50.25 409.25 50.50 409.05 51.00 408.94 51.25 408.75 51.66 408.56 52.00 408.41 52.25 408.24 52.50 408.00 52.79 407.75 53.05 407.49 53.25 407.00 53.49 406.75 53.54Z" fill="#e2402f" fill-rule="evenodd"/>
<path d="M407.00 49.54 406.50 49.61 406.18 49.50 405.84 49.25 405.61 49.00 405.43 48.75 405.25 48.45 405.03 48.00 404.93 47.75 404.75 47.25 404.68 47.00 404.54 46.50 404.48 46.25 404.38 45.75 404.29 45.25 404.25 45.00 404.19 44.50 404.14 44.00 404.10 43.50 404.08 43.00 404.06 42.50 404.06 42.00 404.08 41.50 404.10 41.00 404.14 40.50 404.19 40.00 404.25 39.56 404.30 39.25 404.39 38.75 404.50 38.26 404.57 38.00 404.72 37.50 404.80 37.25 405.00 36.76 405.13 36.50 405.26 36.25 405.50 35.90 405.75 35.62 406.00 35.43 406.50 35.27 407.00 35.40 407.25 35.58 407.50 35.84 407.75 36.19 407.93 36.50 408.05 36.75 408.25 37.23 408.34 37.50 408.50 38.00 408.57 38.25 408.68 38.75 408.75 39.07 408.82 39.50 408.90 40.00 408.96 40.50 409.00 40.96 409.02 41.25 409.05 41.75 409.06 42.25 409.06 42.75 409.05 43.25 409.03 43.75 409.00 44.18 408.97 44.50 408.91 45.00 408.84 45.50 408.76 46.00 408.71 46.25 408.59 46.75 408.50 47.09 408.37 47.50 408.25 47.84 408.07 48.25 407.95 48.50 407.75 48.83 407.50 49.16 407.25 49.39 407.00 49.54Z" fill="#a05450" fill-rule="evenodd"/>
</g>
</g>
<g clip-path="url(#cc)">
<path d="M192.8 256.0C173.1 253.5 193.1 245.0 193.4 241.2C193.7 237.4 193.9 235.4 194.4 233.0C194.9 230.6 195.5 228.9 196.5 226.8C197.5 224.7 199.0 222.5 200.6 220.6C202.2 218.7 204.8 217.1 205.8 215.5C206.8 213.9 206.3 212.3 206.8 211.3C207.3 210.3 206.5 209.8 208.9 209.3C211.3 208.8 215.7 208.5 221.2 208.2C226.7 207.8 236.4 207.1 241.9 207.2C247.4 207.3 247.5 208.3 254.0 208.7C260.5 209.0 274.8 208.9 281.0 209.3C287.2 209.7 288.5 210.3 291.2 211.3C293.9 212.3 295.2 214.1 297.4 215.5C299.6 216.9 302.7 218.1 304.6 219.6C306.5 221.1 307.8 222.5 308.8 224.7C309.8 226.9 310.3 227.8 310.8 233.0C311.3 238.2 331.6 252.2 311.9 256.0C292.2 259.8 212.6 258.5 192.8 256.0Z" fill="#dadada"/>
<g clip-path="url(#r1)"><path d="M259.50 274.51 259.00 274.54 258.50 274.57 258.00 274.59 257.50 274.61 257.00 274.63 256.50 274.65 256.00 274.67 255.50 274.68 255.00 274.69 254.50 274.70 254.00 274.71 253.50 274.71 253.00 274.71 252.50 274.71 252.00 274.71 251.50 274.70 251.00 274.69 250.50 274.68 250.00 274.67 249.50 274.65 249.00 274.64 248.50 274.62 248.00 274.59 247.50 274.57 247.00 274.54 246.50 274.51 246.25 274.49 245.75 274.46 245.25 274.42 244.75 274.39 244.25 274.35 243.75 274.30 243.25 274.25 243.00 274.23 242.50 274.18 242.00 274.13 241.50 274.07 241.00 274.02 240.75 273.99 240.25 273.92 239.75 273.86 239.25 273.79 238.94 273.75 238.50 273.69 238.00 273.62 237.50 273.54 237.25 273.50 236.75 273.42 236.25 273.34 235.75 273.25 235.50 273.21 235.00 273.12 234.50 273.03 234.25 272.98 233.75 272.88 233.25 272.78 233.00 272.73 232.50 272.63 232.00 272.52 231.75 272.47 231.25 272.36 230.78 272.25 230.50 272.18 230.00 272.07 229.73 272.00 229.25 271.88 228.75 271.76 228.50 271.69 228.00 271.56 227.75 271.49 227.25 271.36 226.87 271.25 226.50 271.15 226.00 271.00 225.75 270.93 225.25 270.78 225.00 270.70 224.50 270.55 224.25 270.47 223.75 270.31 223.50 270.23 223.00 270.06 222.75 269.98 222.25 269.81 222.00 269.72 221.50 269.54 221.25 269.45 220.75 269.27 220.50 269.18 220.04 269.00 219.75 268.89 219.39 268.75 219.00 268.59 218.75 268.49 218.25 268.29 218.00 268.18 217.57 268.00 217.25 267.86 216.99 267.75 216.50 267.53 216.25 267.42 215.88 267.25 215.50 267.07 215.25 266.95 214.83 266.75 214.50 266.59 214.25 266.47 213.82 266.25 213.50 266.08 213.25 265.95 212.87 265.75 212.50 265.55 212.25 265.42 211.95 265.25 211.51 265.00 211.25 264.85 211.00 264.70 210.66 264.50 210.25 264.25 210.00 264.10 209.75 263.94 209.45 263.75 209.06 263.50 208.75 263.29 208.50 263.12 208.25 262.95 207.96 262.75 207.61 262.50 207.26 262.25 207.00 262.06 206.75 261.87 206.50 261.67 206.25 261.48 205.96 261.25 205.66 261.00 205.36 260.75 205.06 260.50 204.78 260.25 204.50 260.00 204.25 259.77 204.00 259.54 203.75 259.30 203.50 259.05 203.25 258.80 203.00 258.54 202.75 258.28 202.50 258.00 202.27 257.75 202.06 257.50 201.85 257.25 201.64 257.00 201.44 256.75 201.25 256.50 201.00 256.16 200.75 255.81 200.54 255.50 200.37 255.25 200.21 255.00 200.00 254.66 199.76 254.25 199.63 254.00 199.49 253.75 199.25 253.26 199.13 253.00 199.00 252.71 198.81 252.25 198.71 252.00 198.53 251.50 198.45 251.25 198.31 250.75 198.24 250.50 198.12 250.00 198.03 249.50 197.98 249.25 197.92 248.75 197.87 248.25 197.84 247.75 197.83 247.25 197.85 246.75 197.88 246.25 197.93 245.75 198.00 245.26 198.05 245.00 198.15 244.50 198.25 244.07 198.34 243.75 198.49 243.25 198.57 243.00 198.75 242.52 198.86 242.25 199.00 241.91 199.18 241.50 199.31 241.25 199.50 240.87 199.70 240.50 199.84 240.25 200.00 239.98 200.25 239.58 200.46 239.25 200.63 239.00 200.81 238.75 201.00 238.48 201.25 238.15 201.50 237.83 201.75 237.52 201.98 237.25 202.20 237.00 202.42 236.75 202.65 236.50 202.88 236.25 203.12 236.00 203.37 235.75 203.63 235.50 203.89 235.25 204.15 235.00 204.43 234.75 204.71 234.50 205.00 234.25 205.25 234.04 205.50 233.83 205.75 233.62 206.00 233.42 206.25 233.23 206.55 233.00 206.88 232.75 207.22 232.50 207.50 232.30 207.75 232.12 208.00 231.95 208.29 231.75 208.67 231.50 209.00 231.28 209.25 231.12 209.50 230.96 209.84 230.75 210.25 230.50 210.50 230.35 210.75 230.20 211.10 230.00 211.50 229.77 211.75 229.63 212.00 229.50 212.46 229.25 212.75 229.09 213.00 228.96 213.41 228.75 213.75 228.58 214.00 228.46 214.42 228.25 214.75 228.09 215.00 227.97 215.48 227.75 215.75 227.62 216.03 227.50 216.50 227.29 216.75 227.18 217.17 227.00 217.50 226.86 217.77 226.75 218.25 226.55 218.50 226.45 219.00 226.25 219.25 226.16 219.66 226.00 220.00 225.87 220.32 225.75 220.75 225.59 221.01 225.50 221.50 225.33 221.75 225.24 222.25 225.07 222.50 224.99 223.00 224.82 223.25 224.74 223.75 224.58 224.01 224.50 224.50 224.35 224.82 224.25 225.25 224.12 225.67 224.00 226.00 223.91 226.50 223.77 226.75 223.70 227.25 223.56 227.50 223.49 228.00 223.36 228.45 223.25 228.75 223.17 229.25 223.05 229.50 222.99 230.00 222.87 230.50 222.76 230.75 222.70 231.25 222.59 231.66 222.50 232.00 222.43 232.50 222.32 232.87 222.25 233.25 222.17 233.75 222.08 234.17 222.00 234.50 221.94 235.00 221.85 235.50 221.76 235.75 221.72 236.25 221.64 236.75 221.55 237.10 221.50 237.50 221.44 238.00 221.36 238.50 221.29 238.82 221.25 239.25 221.19 239.75 221.13 240.25 221.06 240.75 221.00 241.00 220.98 241.50 220.92 242.00 220.86 242.50 220.81 243.00 220.76 243.25 220.74 243.75 220.70 244.25 220.65 244.75 220.61 245.25 220.57 245.75 220.54 246.25 220.51 246.50 220.49 247.00 220.46 247.50 220.43 248.00 220.41 248.50 220.38 249.00 220.36 249.50 220.35 250.00 220.33 250.50 220.32 251.00 220.31 251.50 220.30 252.00 220.29 252.50 220.29 253.00 220.29 253.50 220.29 254.00 220.29 254.50 220.29 255.00 220.30 255.50 220.31 256.00 220.32 256.50 220.34 257.00 220.35 257.50 220.37 258.00 220.39 258.50 220.42 259.00 220.44 259.50 220.47 259.96 220.50 260.25 220.52 260.75 220.55 261.25 220.59 261.75 220.63 262.25 220.67 262.75 220.71 263.17 220.75 263.50 220.78 264.00 220.83 264.50 220.88 265.00 220.94 265.50 220.99 265.75 221.02 266.25 221.08 266.75 221.14 267.25 221.21 267.56 221.25 268.00 221.31 268.50 221.38 269.00 221.45 269.30 221.50 269.75 221.57 270.25 221.65 270.75 221.73 271.00 221.77 271.50 221.86 272.00 221.95 272.29 222.00 272.75 222.08 273.25 222.18 273.61 222.25 274.00 222.33 274.50 222.43 274.84 222.50 275.25 222.59 275.75 222.70 276.00 222.75 276.50 222.86 277.00 222.98 277.25 223.04 277.75 223.16 278.12 223.25 278.50 223.34 279.00 223.47 279.25 223.53 279.75 223.67 280.06 223.75 280.50 223.87 280.97 224.00 281.25 224.08 281.75 224.22 282.00 224.30 282.50 224.45 282.75 224.52 283.25 224.68 283.50 224.75 284.00 224.91 284.27 225.00 284.75 225.16 285.02 225.25 285.50 225.41 285.75 225.50 286.25 225.67 286.50 225.76 287.00 225.94 287.25 226.04 287.75 226.22 288.00 226.32 288.47 226.50 288.75 226.61 289.10 226.75 289.50 226.91 289.75 227.02 290.25 227.23 290.50 227.33 290.89 227.50 291.25 227.66 291.50 227.77 292.00 228.00 292.25 228.11 292.55 228.25 293.00 228.46 293.25 228.58 293.59 228.75 294.00 228.95 294.25 229.08 294.58 229.25 295.00 229.47 295.25 229.60 295.52 229.75 295.98 230.00 296.25 230.15 296.50 230.29 296.86 230.50 297.25 230.73 297.50 230.88 297.75 231.03 298.10 231.25 298.50 231.50 298.75 231.66 299.00 231.82 299.26 232.00 299.63 232.25 300.00 232.50 300.25 232.68 300.50 232.86 300.75 233.04 301.03 233.25 301.36 233.50 301.68 233.75 301.99 234.00 302.25 234.21 302.50 234.42 302.75 234.63 303.00 234.85 303.25 235.07 303.50 235.30 303.75 235.53 304.00 235.77 304.25 236.01 304.50 236.26 304.75 236.52 305.00 236.78 305.25 237.05 305.50 237.34 305.75 237.63 306.00 237.93 306.25 238.24 306.45 238.50 306.64 238.75 306.82 239.00 307.00 239.26 307.25 239.63 307.49 240.00 307.64 240.25 307.78 240.50 308.00 240.89 308.19 241.25 308.31 241.50 308.50 241.90 308.65 242.25 308.76 242.50 308.94 243.00 309.03 243.25 309.19 243.75 309.26 244.00 309.38 244.50 309.48 245.00 309.53 245.25 309.60 245.75 309.65 246.25 309.68 246.75 309.69 247.25 309.68 247.75 309.65 248.25 309.60 248.75 309.53 249.25 309.48 249.50 309.38 250.00 309.25 250.50 309.18 250.75 309.03 251.25 308.94 251.50 308.76 252.00 308.65 252.25 308.50 252.60 308.32 253.00 308.19 253.25 308.00 253.62 307.79 254.00 307.65 254.25 307.49 254.50 307.25 254.89 307.01 255.25 306.83 255.50 306.66 255.75 306.47 256.00 306.25 256.29 306.00 256.60 305.75 256.91 305.50 257.20 305.25 257.48 305.01 257.75 304.78 258.00 304.54 258.25 304.29 258.50 304.04 258.75 303.78 259.00 303.51 259.25 303.25 259.49 303.00 259.72 302.75 259.94 302.50 260.15 302.25 260.36 302.00 260.57 301.75 260.77 301.47 261.00 301.14 261.25 300.82 261.50 300.50 261.73 300.25 261.92 300.00 262.10 299.75 262.27 299.42 262.50 299.06 262.75 298.75 262.95 298.50 263.12 298.25 263.28 297.90 263.50 297.50 263.75 297.25 263.90 297.00 264.05 296.67 264.25 296.25 264.49 296.00 264.64 295.75 264.78 295.35 265.00 295.00 265.19 294.75 265.32 294.42 265.50 294.00 265.72 293.75 265.84 293.44 266.00 293.00 266.22 292.75 266.34 292.42 266.50 292.00 266.70 291.75 266.82 291.35 267.00 291.00 267.16 290.75 267.27 290.25 267.49 290.00 267.60 289.64 267.75 289.25 267.91 289.00 268.02 288.50 268.22 288.25 268.32 287.80 268.50 287.50 268.62 287.15 268.75 286.75 268.90 286.48 269.00 286.00 269.18 285.75 269.27 285.25 269.44 285.00 269.53 284.50 269.70 284.25 269.79 283.75 269.95 283.50 270.04 283.00 270.20 282.75 270.28 282.25 270.43 282.00 270.51 281.50 270.66 281.20 270.75 280.75 270.88 280.33 271.00 280.00 271.09 279.50 271.23 279.25 271.30 278.75 271.43 278.50 271.50 278.00 271.63 277.52 271.75 277.25 271.82 276.75 271.94 276.49 272.00 276.00 272.12 275.50 272.23 275.25 272.29 274.75 272.40 274.27 272.50 274.00 272.56 273.50 272.66 273.05 272.75 272.75 272.81 272.25 272.91 271.75 273.00 271.50 273.05 271.00 273.14 270.50 273.22 270.25 273.27 269.75 273.35 269.25 273.43 268.81 273.50 268.50 273.55 268.00 273.62 267.50 273.69 267.09 273.75 266.75 273.80 266.25 273.86 265.75 273.93 265.25 273.99 265.00 274.02 264.50 274.07 264.00 274.13 263.50 274.18 263.00 274.23 262.75 274.25 262.25 274.30 261.75 274.34 261.25 274.38 260.75 274.42 260.25 274.46 259.75 274.49 259.50 274.51Z" fill="#d1d1d1" fill-rule="evenodd"/>
<path d="M257.00 268.50 256.50 268.52 256.00 268.53 255.50 268.54 255.00 268.55 254.50 268.56 254.00 268.56 253.50 268.56 253.00 268.56 252.50 268.55 252.00 268.55 251.50 268.54 251.00 268.52 250.50 268.51 250.25 268.50 249.75 268.48 249.25 268.46 248.75 268.43 248.25 268.40 247.75 268.37 247.25 268.34 246.75 268.31 246.25 268.27 246.00 268.25 245.50 268.20 245.00 268.16 244.50 268.11 244.00 268.06 243.50 268.01 243.25 267.98 242.75 267.92 242.25 267.86 241.75 267.80 241.40 267.75 241.00 267.70 240.50 267.62 240.00 267.55 239.67 267.50 239.25 267.43 238.75 267.35 238.25 267.27 238.00 267.22 237.50 267.13 237.00 267.04 236.75 266.99 236.25 266.90 235.75 266.80 235.50 266.74 235.00 266.64 234.50 266.53 234.25 266.47 233.75 266.36 233.29 266.25 233.00 266.18 232.50 266.06 232.25 265.99 231.75 265.87 231.32 265.75 231.00 265.67 230.50 265.53 230.25 265.46 229.75 265.31 229.50 265.24 229.00 265.09 228.72 265.00 228.25 264.85 227.94 264.75 227.50 264.61 227.18 264.50 226.75 264.35 226.46 264.25 226.00 264.09 225.75 263.99 225.25 263.81 225.00 263.71 224.50 263.52 224.25 263.42 223.83 263.25 223.50 263.11 223.23 263.00 222.75 262.79 222.50 262.68 222.09 262.50 221.75 262.34 221.50 262.23 221.02 262.00 220.75 261.87 220.50 261.74 220.02 261.50 219.75 261.36 219.50 261.23 219.08 261.00 218.75 260.82 218.50 260.68 218.19 260.50 217.77 260.25 217.50 260.09 217.25 259.93 216.96 259.75 216.57 259.50 216.25 259.29 216.00 259.12 215.75 258.94 215.48 258.75 215.13 258.50 214.80 258.25 214.50 258.02 214.25 257.82 214.00 257.62 213.75 257.41 213.50 257.20 213.25 256.98 213.00 256.75 212.73 256.50 212.47 256.25 212.22 256.00 211.98 255.75 211.74 255.50 211.50 255.23 211.25 254.94 211.00 254.64 210.75 254.33 210.50 254.00 210.32 253.75 210.15 253.50 209.98 253.25 209.75 252.88 209.53 252.50 209.39 252.25 209.25 251.98 209.02 251.50 208.91 251.25 208.75 250.84 208.62 250.50 208.50 250.11 208.40 249.75 208.28 249.25 208.23 249.00 208.15 248.50 208.09 248.00 208.07 247.50 208.06 247.00 208.09 246.50 208.14 246.00 208.21 245.50 208.26 245.25 208.37 244.75 208.50 244.30 208.59 244.00 208.75 243.57 208.88 243.25 209.00 242.96 209.22 242.50 209.35 242.25 209.50 241.97 209.75 241.54 209.93 241.25 210.09 241.00 210.26 240.75 210.50 240.42 210.75 240.09 211.00 239.78 211.23 239.50 211.45 239.25 211.68 239.00 211.91 238.75 212.15 238.50 212.40 238.25 212.66 238.00 212.93 237.75 213.20 237.50 213.49 237.25 213.75 237.03 214.00 236.82 214.25 236.62 214.50 236.42 214.75 236.23 215.06 236.00 215.40 235.75 215.75 235.51 216.00 235.33 216.25 235.17 216.50 235.00 216.89 234.75 217.25 234.52 217.50 234.37 217.75 234.22 218.13 234.00 218.50 233.79 218.75 233.65 219.02 233.50 219.48 233.25 219.75 233.11 220.00 232.98 220.46 232.75 220.75 232.61 221.00 232.49 221.50 232.25 221.75 232.14 222.05 232.00 222.50 231.80 222.75 231.69 223.20 231.50 223.50 231.38 223.81 231.25 224.25 231.07 224.50 230.97 225.00 230.78 225.25 230.69 225.75 230.50 226.00 230.41 226.46 230.25 226.75 230.15 227.19 230.00 227.50 229.90 227.96 229.75 228.25 229.66 228.75 229.50 229.00 229.42 229.50 229.28 229.75 229.20 230.25 229.06 230.50 228.99 231.00 228.85 231.38 228.75 231.75 228.65 232.25 228.53 232.50 228.46 233.00 228.34 233.39 228.25 233.75 228.17 234.25 228.05 234.50 228.00 235.00 227.89 235.50 227.79 235.75 227.74 236.25 227.64 236.75 227.54 237.00 227.49 237.50 227.40 238.00 227.31 238.37 227.25 238.75 227.19 239.25 227.11 239.75 227.03 240.00 226.99 240.50 226.92 241.00 226.85 241.50 226.78 241.75 226.75 242.25 226.68 242.75 226.62 243.25 226.57 243.75 226.51 244.00 226.49 244.50 226.44 245.00 226.39 245.50 226.34 246.00 226.30 246.50 226.26 246.75 226.24 247.25 226.21 247.75 226.17 248.25 226.14 248.75 226.12 249.25 226.09 249.75 226.07 250.25 226.05 250.75 226.03 251.25 226.02 251.75 226.01 252.06 226.00 252.50 225.99 253.00 225.99 253.50 225.98 254.00 225.98 254.50 225.99 255.00 225.99 255.50 226.00 255.75 226.00 256.25 226.01 256.75 226.03 257.25 226.04 257.75 226.06 258.25 226.08 258.75 226.11 259.25 226.14 259.75 226.16 260.25 226.20 260.75 226.23 261.00 226.25 261.50 226.29 262.00 226.33 262.50 226.37 263.00 226.42 263.50 226.47 263.80 226.50 264.25 226.55 264.75 226.60 265.25 226.66 265.75 226.72 266.00 226.76 266.50 226.82 267.00 226.89 267.50 226.96 267.76 227.00 268.25 227.07 268.75 227.15 269.25 227.23 269.50 227.28 270.00 227.36 270.50 227.45 270.76 227.50 271.25 227.59 271.75 227.69 272.06 227.75 272.50 227.84 273.00 227.94 273.26 228.00 273.75 228.11 274.25 228.22 274.50 228.28 275.00 228.40 275.42 228.50 275.75 228.58 276.25 228.71 276.50 228.77 277.00 228.91 277.35 229.00 277.75 229.11 278.23 229.25 278.50 229.33 279.00 229.48 279.25 229.55 279.75 229.71 280.00 229.78 280.50 229.95 280.75 230.03 281.25 230.20 281.50 230.28 282.00 230.46 282.25 230.55 282.75 230.73 283.00 230.82 283.47 231.00 283.75 231.11 284.11 231.25 284.50 231.41 284.75 231.51 285.25 231.72 285.50 231.83 285.90 232.00 286.25 232.16 286.50 232.27 286.99 232.50 287.25 232.62 287.51 232.75 288.00 232.99 288.25 233.12 288.51 233.25 288.98 233.50 289.25 233.64 289.50 233.78 289.89 234.00 290.25 234.21 290.50 234.35 290.75 234.50 291.16 234.75 291.50 234.97 291.75 235.13 292.00 235.29 292.31 235.50 292.67 235.75 293.00 235.98 293.25 236.17 293.50 236.35 293.75 236.55 294.01 236.75 294.32 237.00 294.62 237.25 294.91 237.50 295.20 237.75 295.47 238.00 295.73 238.25 295.99 238.50 296.23 238.75 296.47 239.00 296.70 239.25 296.92 239.50 297.14 239.75 297.34 240.00 297.54 240.25 297.75 240.53 298.00 240.88 298.25 241.25 298.41 241.50 298.56 241.75 298.75 242.08 298.98 242.50 299.10 242.75 299.25 243.08 299.43 243.50 299.52 243.75 299.69 244.25 299.77 244.50 299.90 245.00 300.00 245.50 300.04 245.75 300.10 246.25 300.14 246.75 300.15 247.25 300.13 247.75 300.08 248.25 300.01 248.75 299.97 249.00 299.86 249.50 299.75 249.90 299.64 250.25 299.50 250.65 299.36 251.00 299.25 251.27 299.02 251.75 298.90 252.00 298.75 252.27 298.50 252.71 298.32 253.00 298.15 253.25 297.98 253.50 297.75 253.83 297.50 254.16 297.25 254.47 297.02 254.75 296.80 255.00 296.58 255.25 296.34 255.50 296.10 255.75 295.85 256.00 295.59 256.25 295.33 256.50 295.05 256.75 294.77 257.00 294.50 257.23 294.25 257.43 294.00 257.64 293.75 257.83 293.50 258.03 293.20 258.25 292.86 258.50 292.51 258.75 292.25 258.93 292.00 259.10 291.75 259.26 291.38 259.50 291.00 259.74 290.75 259.89 290.50 260.05 290.15 260.25 289.75 260.48 289.50 260.62 289.25 260.76 288.81 261.00 288.50 261.16 288.25 261.29 287.85 261.50 287.50 261.67 287.25 261.79 286.82 262.00 286.50 262.15 286.25 262.26 285.75 262.49 285.50 262.60 285.15 262.75 284.75 262.92 284.50 263.02 284.00 263.23 283.75 263.33 283.31 263.50 283.00 263.62 282.65 263.75 282.25 263.90 281.97 264.00 281.50 264.17 281.25 264.25 280.75 264.42 280.50 264.51 280.00 264.67 279.75 264.75 279.25 264.91 278.95 265.00 278.50 265.14 278.12 265.25 277.75 265.36 277.25 265.50 277.00 265.57 276.50 265.70 276.25 265.77 275.75 265.90 275.34 266.00 275.00 266.08 274.50 266.21 274.25 266.26 273.75 266.38 273.25 266.49 273.00 266.55 272.50 266.65 272.04 266.75 271.75 266.81 271.25 266.91 270.76 267.00 270.50 267.05 270.00 267.14 269.50 267.23 269.25 267.27 268.75 267.36 268.25 267.44 267.83 267.50 267.50 267.55 267.00 267.62 266.50 267.69 266.09 267.75 265.75 267.79 265.25 267.86 264.75 267.92 264.25 267.98 264.00 268.00 263.50 268.06 263.00 268.11 262.50 268.16 262.00 268.20 261.50 268.24 261.25 268.26 260.75 268.30 260.25 268.34 259.75 268.37 259.25 268.40 258.75 268.43 258.25 268.45 257.75 268.48 257.25 268.50 257.00 268.50Z" fill="#c9c9c9" fill-rule="evenodd"/>
<path d="M258.00 262.75 257.50 262.78 257.00 262.80 256.50 262.81 256.00 262.83 255.50 262.84 255.00 262.84 254.50 262.85 254.00 262.85 253.50 262.84 253.00 262.84 252.50 262.83 252.00 262.81 251.50 262.80 251.00 262.78 250.50 262.76 250.25 262.74 249.75 262.72 249.25 262.69 248.75 262.65 248.25 262.61 247.75 262.57 247.25 262.53 246.95 262.50 246.50 262.46 246.00 262.40 245.50 262.35 245.00 262.29 244.72 262.25 244.25 262.19 243.75 262.12 243.25 262.05 242.96 262.00 242.50 261.93 242.00 261.85 241.50 261.76 241.25 261.71 240.75 261.62 240.25 261.52 240.00 261.47 239.50 261.37 239.00 261.26 238.75 261.21 238.25 261.09 237.86 261.00 237.50 260.91 237.00 260.79 236.75 260.72 236.25 260.59 235.93 260.50 235.50 260.38 235.06 260.25 234.75 260.16 234.25 260.00 234.00 259.92 233.50 259.76 233.25 259.67 232.75 259.50 232.50 259.41 232.06 259.25 231.75 259.13 231.41 259.00 231.00 258.84 230.75 258.74 230.25 258.53 230.00 258.42 229.62 258.25 229.25 258.08 229.00 257.96 228.55 257.75 228.25 257.60 228.00 257.47 227.58 257.25 227.25 257.07 227.00 256.93 226.68 256.75 226.26 256.50 226.00 256.34 225.75 256.19 225.46 256.00 225.09 255.75 224.75 255.51 224.50 255.33 224.25 255.15 224.00 254.95 223.74 254.75 223.44 254.50 223.15 254.25 222.87 254.00 222.61 253.75 222.35 253.50 222.11 253.25 221.88 253.00 221.66 252.75 221.45 252.50 221.25 252.24 221.00 251.90 220.75 251.54 220.57 251.25 220.42 251.00 220.25 250.68 220.04 250.25 219.93 250.00 219.75 249.53 219.66 249.25 219.53 248.75 219.47 248.50 219.39 248.00 219.35 247.50 219.34 247.00 219.37 246.50 219.43 246.00 219.50 245.65 219.59 245.25 219.75 244.75 219.84 244.50 220.00 244.11 220.17 243.75 220.30 243.50 220.50 243.14 220.74 242.75 220.91 242.50 221.09 242.25 221.28 242.00 221.50 241.72 221.75 241.43 222.00 241.15 222.25 240.89 222.50 240.64 222.75 240.40 223.00 240.17 223.25 239.95 223.50 239.73 223.78 239.50 224.10 239.25 224.44 239.00 224.75 238.77 225.00 238.60 225.25 238.43 225.52 238.25 225.91 238.00 226.25 237.79 226.50 237.64 226.75 237.50 227.19 237.25 227.50 237.08 227.75 236.95 228.14 236.75 228.50 236.57 228.75 236.45 229.17 236.25 229.50 236.10 229.75 235.99 230.25 235.77 230.50 235.67 230.90 235.50 231.25 235.36 231.54 235.25 232.00 235.07 232.25 234.98 232.75 234.80 233.00 234.72 233.50 234.55 233.75 234.46 234.25 234.30 234.50 234.23 235.00 234.07 235.25 234.00 235.75 233.86 236.14 233.75 236.50 233.65 237.00 233.52 237.25 233.46 237.75 233.33 238.11 233.25 238.50 233.16 239.00 233.05 239.25 232.99 239.75 232.89 240.25 232.79 240.50 232.74 241.00 232.64 241.50 232.55 241.81 232.50 242.25 232.43 242.75 232.34 243.25 232.27 243.50 232.23 244.00 232.16 244.50 232.09 245.00 232.03 245.25 232.00 245.75 231.94 246.25 231.89 246.75 231.83 247.25 231.79 247.66 231.75 248.00 231.72 248.50 231.68 249.00 231.65 249.50 231.61 250.00 231.58 250.50 231.56 251.00 231.53 251.50 231.52 251.98 231.50 252.25 231.49 252.75 231.48 253.25 231.47 253.75 231.47 254.25 231.47 254.75 231.47 255.25 231.47 255.75 231.48 256.25 231.49 256.52 231.50 257.00 231.52 257.50 231.53 258.00 231.56 258.50 231.58 259.00 231.61 259.50 231.64 260.00 231.68 260.50 231.72 260.86 231.75 261.25 231.78 261.75 231.83 262.25 231.88 262.75 231.94 263.25 232.00 263.50 232.03 264.00 232.09 264.50 232.16 265.00 232.23 265.25 232.26 265.75 232.34 266.25 232.42 266.73 232.50 267.00 232.55 267.50 232.64 268.00 232.73 268.25 232.78 268.75 232.88 269.25 232.98 269.50 233.04 270.00 233.15 270.45 233.25 270.75 233.32 271.25 233.44 271.50 233.51 272.00 233.63 272.43 233.75 272.75 233.84 273.25 233.98 273.50 234.05 274.00 234.20 274.25 234.28 274.75 234.44 275.00 234.52 275.50 234.69 275.75 234.77 276.25 234.95 276.50 235.04 277.00 235.22 277.25 235.32 277.70 235.50 278.00 235.62 278.31 235.75 278.75 235.94 279.00 236.05 279.45 236.25 279.75 236.39 280.00 236.51 280.49 236.75 280.75 236.88 281.00 237.01 281.45 237.25 281.75 237.42 282.00 237.56 282.33 237.75 282.74 238.00 283.00 238.16 283.25 238.33 283.51 238.50 283.88 238.75 284.23 239.00 284.50 239.20 284.75 239.39 285.00 239.59 285.25 239.80 285.50 240.01 285.77 240.25 286.04 240.50 286.30 240.75 286.55 241.00 286.78 241.25 287.00 241.50 287.25 241.79 287.50 242.11 287.75 242.45 287.96 242.75 288.12 243.00 288.27 243.25 288.50 243.68 288.66 244.00 288.77 244.25 288.96 244.75 289.04 245.00 289.18 245.50 289.25 245.85 289.31 246.25 289.36 246.75 289.37 247.25 289.34 247.75 289.28 248.25 289.23 248.50 289.11 249.00 289.00 249.37 288.87 249.75 288.75 250.03 288.53 250.50 288.40 250.75 288.25 251.02 288.00 251.43 287.79 251.75 287.61 252.00 287.42 252.25 287.21 252.50 287.00 252.75 286.75 253.03 286.50 253.30 286.25 253.55 286.00 253.79 285.75 254.02 285.49 254.25 285.20 254.50 284.89 254.75 284.57 255.00 284.25 255.24 284.00 255.42 283.75 255.60 283.50 255.77 283.15 256.00 282.75 256.25 282.50 256.41 282.25 256.56 281.92 256.75 281.50 256.98 281.25 257.12 281.00 257.25 280.52 257.50 280.25 257.64 280.00 257.76 279.50 258.00 279.25 258.11 278.94 258.25 278.50 258.44 278.25 258.55 277.76 258.75 277.50 258.86 277.13 259.00 276.75 259.15 276.47 259.25 276.00 259.42 275.75 259.51 275.25 259.68 275.00 259.76 274.50 259.92 274.25 260.00 273.75 260.16 273.44 260.25 273.00 260.38 272.56 260.50 272.25 260.59 271.75 260.72 271.50 260.78 271.00 260.91 270.62 261.00 270.25 261.09 269.75 261.20 269.50 261.26 269.00 261.36 268.50 261.47 268.25 261.52 267.75 261.61 267.25 261.71 267.00 261.75 266.50 261.84 266.00 261.92 265.50 262.00 265.25 262.04 264.75 262.11 264.25 262.18 263.75 262.24 263.50 262.28 263.00 262.34 262.50 262.39 262.00 262.45 261.50 262.50 261.25 262.52 260.75 262.57 260.25 262.61 259.75 262.65 259.25 262.68 258.75 262.71 258.25 262.74 258.00 262.75Z" fill="#c1c1c1" fill-rule="evenodd"/>
<path d="M257.25 258.51 256.75 258.53 256.25 258.55 255.75 258.56 255.25 258.57 254.75 258.58 254.25 258.58 253.75 258.58 253.25 258.57 252.75 258.56 252.25 258.54 251.75 258.52 251.37 258.50 251.00 258.48 250.50 258.45 250.00 258.41 249.50 258.37 249.00 258.33 248.50 258.28 248.25 258.25 247.75 258.19 247.25 258.13 246.75 258.06 246.30 258.00 246.00 257.96 245.50 257.88 245.00 257.79 244.75 257.75 244.25 257.66 243.75 257.56 243.46 257.50 243.00 257.40 242.50 257.29 242.25 257.23 241.75 257.11 241.32 257.00 241.00 256.91 240.50 256.78 240.25 256.71 239.75 256.56 239.50 256.48 239.00 256.32 238.75 256.24 238.25 256.06 238.00 255.97 237.50 255.79 237.25 255.69 236.78 255.50 236.50 255.38 236.20 255.25 235.75 255.05 235.50 254.93 235.12 254.75 234.75 254.56 234.50 254.43 234.17 254.25 233.75 254.01 233.50 253.86 233.25 253.70 232.93 253.50 232.56 253.25 232.25 253.02 232.00 252.84 231.75 252.64 231.50 252.43 231.25 252.22 231.00 251.99 230.75 251.75 230.50 251.49 230.25 251.21 230.00 250.91 229.75 250.58 229.52 250.25 229.37 250.00 229.23 249.75 229.00 249.28 228.89 249.00 228.75 248.59 228.66 248.25 228.57 247.75 228.53 247.25 228.54 246.75 228.60 246.25 228.71 245.75 228.79 245.50 228.97 245.00 229.08 244.75 229.25 244.43 229.50 244.00 229.67 243.75 229.85 243.50 230.04 243.25 230.25 243.00 230.50 242.72 230.75 242.47 231.00 242.22 231.25 242.00 231.54 241.75 231.84 241.50 232.17 241.25 232.50 241.01 232.75 240.84 233.00 240.67 233.27 240.50 233.68 240.25 234.00 240.06 234.25 239.93 234.57 239.75 235.00 239.53 235.25 239.41 235.58 239.25 236.00 239.06 236.25 238.95 236.71 238.75 237.00 238.63 237.33 238.50 237.75 238.34 238.00 238.25 238.50 238.07 238.75 237.99 239.25 237.82 239.50 237.74 240.00 237.59 240.31 237.50 240.75 237.38 241.22 237.25 241.50 237.18 242.00 237.05 242.25 236.99 242.75 236.88 243.25 236.77 243.50 236.72 244.00 236.62 244.50 236.52 244.75 236.48 245.25 236.39 245.75 236.31 246.13 236.25 246.50 236.20 247.00 236.13 247.50 236.06 248.00 236.00 248.25 235.98 248.75 235.92 249.25 235.88 249.75 235.83 250.25 235.79 250.75 235.76 251.00 235.74 251.50 235.72 252.00 235.69 252.50 235.68 253.00 235.66 253.50 235.65 254.00 235.64 254.50 235.64 255.00 235.65 255.50 235.65 256.00 235.66 256.50 235.68 257.00 235.70 257.50 235.72 257.97 235.75 258.25 235.77 258.75 235.80 259.25 235.84 259.75 235.89 260.25 235.93 260.75 235.99 261.00 236.02 261.50 236.08 262.00 236.14 262.50 236.21 262.77 236.25 263.25 236.32 263.75 236.41 264.25 236.49 264.50 236.54 265.00 236.64 265.50 236.74 265.75 236.79 266.25 236.90 266.69 237.00 267.00 237.08 267.50 237.20 267.75 237.27 268.25 237.40 268.60 237.50 269.00 237.62 269.44 237.75 269.75 237.85 270.21 238.00 270.50 238.10 270.93 238.25 271.25 238.37 271.59 238.50 272.00 238.66 272.25 238.76 272.75 238.98 273.00 239.09 273.35 239.25 273.75 239.44 274.00 239.56 274.36 239.75 274.75 239.96 275.00 240.10 275.26 240.25 275.67 240.50 276.00 240.71 276.25 240.88 276.50 241.05 276.78 241.25 277.11 241.50 277.42 241.75 277.71 242.00 277.98 242.25 278.24 242.50 278.48 242.75 278.71 243.00 278.92 243.25 279.11 243.50 279.29 243.75 279.50 244.06 279.75 244.49 279.88 244.75 280.00 245.02 280.18 245.50 280.25 245.75 280.36 246.25 280.42 246.75 280.43 247.25 280.39 247.75 280.30 248.25 280.24 248.50 280.07 249.00 279.97 249.25 279.75 249.70 279.58 250.00 279.43 250.25 279.25 250.51 279.00 250.84 278.75 251.14 278.50 251.42 278.25 251.69 278.00 251.93 277.75 252.16 277.50 252.38 277.25 252.58 277.00 252.78 276.71 253.00 276.36 253.25 276.00 253.49 275.75 253.65 275.50 253.81 275.18 254.00 274.75 254.24 274.50 254.38 274.25 254.51 273.78 254.75 273.50 254.88 273.25 255.00 272.75 255.23 272.50 255.34 272.11 255.50 271.75 255.64 271.48 255.75 271.00 255.93 270.75 256.02 270.25 256.20 270.00 256.28 269.50 256.44 269.25 256.52 268.75 256.67 268.47 256.75 268.00 256.88 267.55 257.00 267.25 257.08 266.75 257.20 266.50 257.26 266.00 257.37 265.50 257.48 265.25 257.53 264.75 257.63 264.25 257.72 264.00 257.77 263.50 257.85 263.00 257.93 262.55 258.00 262.25 258.04 261.75 258.11 261.25 258.17 260.75 258.23 260.50 258.26 260.00 258.31 259.50 258.36 259.00 258.40 258.50 258.44 258.00 258.47 257.50 258.50 257.25 258.51Z" fill="#b9b9b9" fill-rule="evenodd"/>
<path d="M255.50 255.75 255.00 255.76 254.50 255.76 254.00 255.76 253.50 255.75 253.25 255.75 252.75 255.73 252.25 255.71 251.75 255.68 251.25 255.65 250.75 255.61 250.25 255.56 249.75 255.51 249.50 255.48 249.00 255.42 248.50 255.35 248.00 255.28 247.75 255.24 247.25 255.15 246.75 255.06 246.42 255.00 246.00 254.91 245.50 254.80 245.25 254.75 244.75 254.63 244.26 254.50 244.00 254.43 243.50 254.28 243.25 254.21 242.75 254.05 242.50 253.97 242.00 253.79 241.75 253.70 241.25 253.51 241.00 253.40 240.64 253.25 240.25 253.08 240.00 252.96 239.58 252.75 239.25 252.58 239.00 252.44 238.67 252.25 238.27 252.00 238.00 251.82 237.75 251.65 237.50 251.47 237.22 251.25 236.92 251.00 236.64 250.75 236.39 250.50 236.16 250.25 235.95 250.00 235.75 249.75 235.50 249.37 235.29 249.00 235.17 248.75 235.00 248.31 234.91 248.00 234.83 247.50 234.80 247.00 234.85 246.50 234.96 246.00 235.04 245.75 235.25 245.26 235.39 245.00 235.54 244.75 235.75 244.44 236.00 244.12 236.25 243.83 236.50 243.58 236.75 243.34 237.00 243.12 237.25 242.91 237.50 242.72 237.80 242.50 238.17 242.25 238.50 242.04 238.75 241.89 239.00 241.75 239.45 241.50 239.75 241.35 240.00 241.23 240.49 241.00 240.75 240.89 241.08 240.75 241.50 240.58 241.75 240.49 242.25 240.31 242.50 240.22 243.00 240.06 243.25 239.98 243.75 239.83 244.04 239.75 244.50 239.63 245.00 239.50 245.25 239.44 245.75 239.33 246.12 239.25 246.50 239.17 247.00 239.08 247.45 239.00 247.75 238.95 248.25 238.87 248.75 238.80 249.16 238.75 249.50 238.71 250.00 238.65 250.50 238.61 251.00 238.56 251.50 238.53 251.90 238.50 252.25 238.48 252.75 238.46 253.25 238.44 253.75 238.43 254.25 238.42 254.75 238.42 255.25 238.43 255.75 238.44 256.25 238.46 256.75 238.48 257.14 238.50 257.50 238.52 258.00 238.56 258.50 238.60 259.00 238.65 259.50 238.70 259.89 238.75 260.25 238.80 260.75 238.87 261.25 238.94 261.60 239.00 262.00 239.07 262.50 239.16 262.93 239.25 263.25 239.32 263.75 239.43 264.05 239.50 264.50 239.61 265.00 239.75 265.25 239.82 265.75 239.96 266.00 240.04 266.50 240.20 266.75 240.29 267.25 240.47 267.50 240.56 267.98 240.75 268.25 240.86 268.57 241.00 269.00 241.20 269.25 241.32 269.61 241.50 270.00 241.71 270.25 241.85 270.51 242.00 270.90 242.25 271.25 242.48 271.50 242.66 271.75 242.85 272.00 243.05 272.25 243.27 272.50 243.50 272.75 243.75 273.00 244.03 273.25 244.34 273.50 244.69 273.69 245.00 273.82 245.25 274.00 245.65 274.12 246.00 274.23 246.50 274.26 246.75 274.27 247.25 274.25 247.51 274.16 248.00 274.01 248.50 273.91 248.75 273.75 249.06 273.50 249.49 273.32 249.75 273.12 250.00 272.91 250.25 272.67 250.50 272.42 250.75 272.14 251.00 271.84 251.25 271.52 251.50 271.25 251.69 271.00 251.86 270.75 252.02 270.38 252.25 270.00 252.47 269.75 252.60 269.47 252.75 269.00 252.98 268.75 253.10 268.41 253.25 268.00 253.42 267.75 253.52 267.25 253.71 267.00 253.80 266.50 253.98 266.25 254.06 265.75 254.22 265.50 254.29 265.00 254.44 264.75 254.50 264.25 254.63 263.76 254.75 263.50 254.81 263.00 254.92 262.60 255.00 262.25 255.07 261.75 255.16 261.25 255.24 261.00 255.28 260.50 255.35 260.00 255.42 259.50 255.48 259.25 255.51 258.75 255.56 258.25 255.61 257.75 255.65 257.25 255.68 256.75 255.71 256.25 255.73 255.75 255.75 255.50 255.75Z" fill="#b2b2b2" fill-rule="evenodd"/>
<path d="M256.00 253.25 255.50 253.27 255.00 253.28 254.50 253.28 254.00 253.28 253.50 253.27 253.09 253.25 252.75 253.23 252.25 253.20 251.75 253.16 251.25 253.11 250.75 253.05 250.33 253.00 250.00 252.95 249.50 252.87 249.00 252.78 248.75 252.74 248.25 252.63 247.75 252.52 247.50 252.46 247.00 252.32 246.74 252.25 246.25 252.10 245.94 252.00 245.50 251.84 245.25 251.75 244.75 251.55 244.50 251.44 244.08 251.25 243.75 251.08 243.50 250.95 243.15 250.75 242.76 250.50 242.50 250.32 242.25 250.14 242.00 249.93 241.75 249.71 241.50 249.46 241.25 249.18 241.00 248.85 240.79 248.50 240.67 248.25 240.50 247.77 240.45 247.50 240.42 247.00 240.48 246.50 240.54 246.25 240.74 245.75 240.88 245.50 241.05 245.25 241.25 244.98 241.50 244.70 241.75 244.46 242.00 244.23 242.29 244.00 242.63 243.75 243.00 243.51 243.25 243.36 243.50 243.22 243.92 243.00 244.25 242.84 244.50 242.73 245.00 242.51 245.25 242.42 245.70 242.25 246.00 242.15 246.47 242.00 246.75 241.92 247.25 241.78 247.50 241.71 248.00 241.59 248.42 241.50 248.75 241.43 249.25 241.34 249.75 241.25 250.00 241.22 250.50 241.15 251.00 241.08 251.50 241.03 251.84 241.00 252.25 240.97 252.75 240.94 253.25 240.91 253.75 240.90 254.25 240.89 254.75 240.89 255.25 240.89 255.75 240.91 256.25 240.93 256.75 240.96 257.25 241.00 257.50 241.02 258.00 241.07 258.50 241.13 259.00 241.20 259.36 241.25 259.75 241.31 260.25 241.41 260.72 241.50 261.00 241.56 261.50 241.68 261.79 241.75 262.25 241.88 262.67 242.00 263.00 242.10 263.44 242.25 263.75 242.36 264.11 242.50 264.50 242.66 264.75 242.77 265.23 243.00 265.50 243.14 265.75 243.28 266.13 243.50 266.50 243.74 266.75 243.92 267.00 244.11 267.25 244.32 267.50 244.55 267.75 244.81 268.00 245.12 268.25 245.48 268.40 245.75 268.52 246.00 268.67 246.50 268.73 247.00 268.70 247.50 268.58 248.00 268.48 248.25 268.25 248.68 268.04 249.00 267.84 249.25 267.61 249.50 267.35 249.75 267.06 250.00 266.75 250.24 266.50 250.42 266.25 250.58 265.98 250.75 265.54 251.00 265.25 251.15 265.00 251.27 264.50 251.50 264.25 251.60 263.88 251.75 263.50 251.89 263.19 252.00 262.75 252.14 262.38 252.25 262.00 252.36 261.50 252.49 261.25 252.55 260.75 252.66 260.30 252.75 260.00 252.81 259.50 252.89 259.00 252.97 258.75 253.01 258.25 253.07 257.75 253.12 257.25 253.17 256.75 253.21 256.25 253.24 256.00 253.25Z" fill="#acacac" fill-rule="evenodd"/>
<path d="M256.25 250.75 255.75 250.79 255.25 250.81 254.75 250.82 254.25 250.82 253.75 250.80 253.25 250.77 252.93 250.75 252.50 250.71 252.00 250.64 251.50 250.57 251.12 250.50 250.75 250.42 250.25 250.30 250.00 250.24 249.50 250.09 249.24 250.00 248.75 249.81 248.50 249.71 248.06 249.50 247.75 249.33 247.50 249.17 247.24 249.00 246.93 248.75 246.67 248.50 246.46 248.25 246.25 247.92 246.08 247.50 246.03 247.00 246.13 246.50 246.25 246.23 246.50 245.86 246.75 245.58 247.00 245.35 247.25 245.15 247.50 244.98 247.89 244.75 248.25 244.56 248.50 244.45 248.98 244.25 249.25 244.15 249.72 244.00 250.00 243.92 250.50 243.79 250.75 243.73 251.25 243.63 251.75 243.55 252.07 243.50 252.50 243.45 253.00 243.40 253.50 243.37 254.00 243.34 254.50 243.34 255.00 243.34 255.50 243.36 256.00 243.39 256.50 243.43 257.00 243.48 257.25 243.52 257.75 243.60 258.25 243.69 258.52 243.75 259.00 243.87 259.47 244.00 259.75 244.09 260.21 244.25 260.50 244.37 260.81 244.50 261.25 244.72 261.50 244.86 261.75 245.02 262.07 245.25 262.37 245.50 262.61 245.75 262.80 246.00 263.00 246.35 263.13 246.75 263.16 247.25 263.03 247.75 262.90 248.00 262.73 248.25 262.50 248.52 262.25 248.76 261.95 249.00 261.57 249.25 261.25 249.43 261.00 249.56 260.59 249.75 260.25 249.89 259.95 250.00 259.50 250.14 259.14 250.25 258.75 250.35 258.25 250.46 258.00 250.51 257.50 250.60 257.00 250.67 256.50 250.73 256.25 250.75Z" fill="#a6a6a6" fill-rule="evenodd"/>
</g>
<path d="M181.0 150.9C181.6 149.6 182.5 148.8 184.0 148.0C185.5 147.2 187.2 146.3 189.9 146.0C192.6 145.7 196.9 145.5 199.9 146.0C202.9 146.5 205.2 147.8 207.8 148.9C210.5 150.1 212.8 151.6 215.8 152.9C218.8 154.2 222.3 155.8 225.7 156.9C229.1 158.0 232.7 158.6 236.0 159.5C239.3 160.4 242.5 161.8 245.8 162.5C249.1 163.2 252.5 163.4 255.8 163.5C259.1 163.6 262.3 162.9 265.7 162.8C269.1 162.7 272.4 162.8 276.0 162.9C279.6 163.0 283.6 163.3 287.6 163.6C291.6 163.9 296.4 164.1 300.0 164.5C303.6 164.9 306.5 165.4 309.0 166.2C311.5 166.9 313.7 167.8 315.0 169.0C316.3 170.2 316.7 171.8 316.8 173.3C316.9 174.8 316.3 176.6 315.5 178.0C314.7 179.4 313.2 180.8 312.0 182.0C310.8 183.2 310.0 184.7 308.0 185.5C306.0 186.3 304.7 186.7 300.0 187.0C295.3 187.3 286.3 187.4 280.0 187.5C273.7 187.6 267.0 187.7 262.0 187.8C257.0 187.9 253.8 188.1 249.8 188.1C245.8 188.1 241.9 188.1 237.9 187.7C233.9 187.3 229.7 186.4 226.0 185.7C222.3 185.0 219.2 184.2 215.8 183.7C212.4 183.2 208.8 183.3 205.8 182.7C202.8 182.1 200.3 181.0 198.0 180.0C195.7 179.0 193.9 178.5 191.9 176.8C189.9 175.1 187.7 172.0 186.0 169.8C184.3 167.7 182.9 166.2 182.0 163.9C181.1 161.6 180.6 158.1 180.4 155.9C180.2 153.7 180.4 152.2 181.0 150.9Z" fill="#96e691"/>
<g clip-path="url(#cg1)"><path d="M261.50 181.50 261.00 181.51 260.50 181.51 260.00 181.52 259.50 181.52 259.00 181.52 258.50 181.52 258.00 181.52 257.50 181.52 257.00 181.52 256.50 181.51 256.00 181.51 255.62 181.50 255.25 181.49 254.75 181.48 254.25 181.47 253.75 181.46 253.25 181.44 252.75 181.43 252.25 181.41 251.75 181.39 251.25 181.37 250.75 181.34 250.25 181.32 249.75 181.29 249.25 181.26 249.00 181.25 248.50 181.21 248.00 181.18 247.50 181.14 247.00 181.11 246.50 181.06 246.00 181.02 245.75 181.00 245.25 180.96 244.75 180.91 244.25 180.86 243.75 180.81 243.25 180.75 243.00 180.73 242.50 180.67 242.00 180.61 241.50 180.55 241.12 180.50 240.75 180.45 240.25 180.39 239.75 180.32 239.26 180.25 239.00 180.21 238.50 180.14 238.00 180.07 237.58 180.00 237.25 179.95 236.75 179.87 236.25 179.79 236.00 179.75 235.50 179.66 235.00 179.58 234.54 179.50 234.25 179.45 233.75 179.36 233.25 179.27 233.00 179.23 232.50 179.14 232.00 179.05 231.71 179.00 231.25 178.92 230.75 178.83 230.30 178.75 230.00 178.70 229.50 178.61 229.00 178.52 228.75 178.48 228.25 178.40 227.75 178.32 227.30 178.25 227.00 178.21 226.50 178.13 226.00 178.06 225.52 178.00 225.25 177.97 224.75 177.91 224.25 177.85 223.75 177.80 223.25 177.75 223.00 177.73 222.50 177.69 222.00 177.66 221.50 177.63 221.00 177.60 220.50 177.58 220.00 177.56 219.50 177.55 219.00 177.54 218.50 177.53 218.00 177.52 217.50 177.51 217.00 177.51 216.50 177.50 216.25 177.50 215.75 177.49 215.25 177.48 214.75 177.47 214.25 177.46 213.75 177.45 213.25 177.43 212.75 177.40 212.25 177.37 211.75 177.34 211.25 177.30 210.76 177.25 210.50 177.22 210.00 177.16 209.50 177.10 209.00 177.02 208.75 176.98 208.25 176.89 207.75 176.79 207.50 176.74 207.00 176.63 206.50 176.50 206.25 176.43 205.75 176.29 205.50 176.22 205.00 176.06 204.75 175.97 204.25 175.79 204.00 175.70 203.51 175.50 203.25 175.39 202.94 175.25 202.50 175.05 202.25 174.93 201.90 174.75 201.50 174.54 201.25 174.40 201.00 174.25 200.58 174.00 200.25 173.79 200.00 173.63 199.75 173.46 199.46 173.25 199.12 173.00 198.80 172.75 198.50 172.51 198.25 172.30 198.00 172.08 197.75 171.85 197.50 171.62 197.25 171.37 197.00 171.11 196.75 170.84 196.50 170.56 196.25 170.27 196.03 170.00 195.84 169.75 195.66 169.50 195.48 169.25 195.25 168.91 195.00 168.51 194.85 168.25 194.71 168.00 194.50 167.60 194.33 167.25 194.21 167.00 194.01 166.50 193.91 166.25 193.75 165.78 193.66 165.50 193.53 165.00 193.47 164.75 193.36 164.25 193.28 163.75 193.25 163.49 193.20 163.00 193.17 162.50 193.16 162.00 193.18 161.50 193.21 161.00 193.25 160.57 193.29 160.25 193.37 159.75 193.47 159.25 193.53 159.00 193.66 158.50 193.75 158.18 193.89 157.75 194.00 157.44 194.17 157.00 194.27 156.75 194.50 156.25 194.62 156.00 194.75 155.75 195.00 155.30 195.18 155.00 195.33 154.75 195.50 154.50 195.75 154.14 196.00 153.80 196.24 153.50 196.45 153.25 196.67 153.00 196.91 152.75 197.15 152.50 197.41 152.25 197.68 152.00 197.98 151.75 198.25 151.53 198.50 151.34 198.75 151.15 199.00 150.98 199.35 150.75 199.75 150.51 200.00 150.36 200.25 150.23 200.71 150.00 201.00 149.87 201.27 149.75 201.75 149.56 202.00 149.47 202.50 149.30 202.75 149.22 203.25 149.09 203.64 149.00 204.00 148.92 204.50 148.84 205.00 148.77 205.25 148.74 205.75 148.70 206.25 148.67 206.75 148.67 207.25 148.68 207.75 148.70 208.25 148.74 208.50 148.77 209.00 148.84 209.50 148.92 209.89 149.00 210.25 149.08 210.75 149.21 211.00 149.28 211.50 149.43 211.75 149.51 212.25 149.69 212.50 149.78 213.00 149.99 213.25 150.10 213.57 150.25 214.00 150.46 214.25 150.59 214.54 150.75 214.98 151.00 215.25 151.16 215.50 151.32 215.78 151.50 216.15 151.75 216.50 152.00 216.75 152.18 217.00 152.37 217.25 152.57 217.50 152.77 217.77 153.00 218.06 153.25 218.35 153.50 218.62 153.75 218.89 154.00 219.15 154.25 219.41 154.50 219.67 154.75 219.92 155.00 220.16 155.25 220.41 155.50 220.65 155.75 220.90 156.00 221.14 156.25 221.38 156.50 221.63 156.75 221.88 157.00 222.13 157.25 222.39 157.50 222.65 157.75 222.92 158.00 223.19 158.25 223.47 158.50 223.75 158.73 224.00 158.94 224.25 159.14 224.50 159.33 224.75 159.51 225.09 159.75 225.47 160.00 225.75 160.17 226.00 160.32 226.32 160.50 226.75 160.73 227.00 160.85 227.31 161.00 227.75 161.19 228.00 161.30 228.50 161.49 228.75 161.58 229.25 161.75 229.50 161.83 230.00 161.97 230.25 162.04 230.75 162.17 231.07 162.25 231.50 162.35 232.00 162.45 232.25 162.50 232.75 162.60 233.25 162.69 233.60 162.75 234.00 162.82 234.50 162.89 235.00 162.97 235.25 163.01 235.75 163.08 236.25 163.15 236.75 163.22 237.00 163.25 237.50 163.32 238.00 163.38 238.50 163.45 238.88 163.50 239.25 163.55 239.75 163.62 240.25 163.68 240.73 163.75 241.00 163.79 241.50 163.86 242.00 163.93 242.49 164.00 242.75 164.04 243.25 164.11 243.75 164.19 244.17 164.25 244.50 164.30 245.00 164.38 245.50 164.46 245.78 164.50 246.25 164.57 246.75 164.65 247.25 164.74 247.50 164.78 248.00 164.86 248.50 164.94 248.87 165.00 249.25 165.06 249.75 165.14 250.25 165.22 250.50 165.26 251.00 165.34 251.50 165.42 252.00 165.50 252.25 165.54 252.75 165.61 253.25 165.69 253.70 165.75 254.00 165.79 254.50 165.86 255.00 165.92 255.50 165.99 255.75 166.02 256.25 166.08 256.75 166.13 257.25 166.18 257.75 166.23 258.00 166.25 258.50 166.30 259.00 166.33 259.50 166.37 260.00 166.40 260.50 166.43 261.00 166.45 261.50 166.48 262.00 166.49 262.25 166.50 262.75 166.51 263.25 166.52 263.75 166.53 264.25 166.53 264.75 166.53 265.25 166.53 265.75 166.53 266.25 166.52 266.75 166.51 267.25 166.50 267.50 166.50 268.00 166.49 268.50 166.47 269.00 166.46 269.50 166.44 270.00 166.43 270.50 166.42 271.00 166.40 271.50 166.39 272.00 166.37 272.50 166.36 273.00 166.34 273.50 166.33 274.00 166.32 274.50 166.31 275.00 166.30 275.50 166.29 276.00 166.28 276.50 166.28 277.00 166.27 277.50 166.27 278.00 166.27 278.50 166.26 279.00 166.26 279.50 166.26 280.00 166.27 280.50 166.27 281.00 166.27 281.50 166.27 282.00 166.28 282.50 166.28 283.00 166.28 283.50 166.28 284.00 166.28 284.50 166.29 285.00 166.28 285.50 166.28 286.00 166.28 286.50 166.27 287.00 166.27 287.50 166.26 287.89 166.25 288.25 166.24 288.75 166.23 289.25 166.21 289.75 166.20 290.25 166.18 290.75 166.16 291.25 166.14 291.75 166.12 292.25 166.10 292.75 166.09 293.25 166.07 293.75 166.06 294.25 166.04 294.75 166.04 295.25 166.03 295.75 166.03 296.25 166.04 296.75 166.05 297.25 166.07 297.75 166.10 298.25 166.13 298.75 166.17 299.25 166.23 299.50 166.26 300.00 166.32 300.50 166.40 301.00 166.49 301.25 166.54 301.75 166.65 302.14 166.75 302.50 166.84 303.00 166.99 303.25 167.07 303.75 167.25 304.00 167.34 304.39 167.50 304.75 167.66 305.00 167.78 305.44 168.00 305.75 168.17 306.00 168.32 306.30 168.50 306.67 168.75 307.00 169.00 307.25 169.20 307.50 169.41 307.75 169.65 308.00 169.90 308.25 170.18 308.50 170.49 308.69 170.75 308.85 171.00 309.00 171.27 309.23 171.75 309.33 172.00 309.48 172.50 309.54 172.75 309.60 173.25 309.62 173.75 309.57 174.25 309.50 174.65 309.41 175.00 309.25 175.45 309.12 175.75 308.99 176.00 308.75 176.41 308.52 176.75 308.33 177.00 308.12 177.25 307.89 177.50 307.64 177.75 307.37 178.00 307.08 178.25 306.75 178.50 306.50 178.68 306.25 178.85 306.00 179.01 305.59 179.25 305.25 179.43 305.00 179.56 304.59 179.75 304.25 179.90 303.99 180.00 303.50 180.18 303.25 180.26 302.75 180.42 302.45 180.50 302.00 180.62 301.50 180.72 301.25 180.77 300.75 180.86 300.25 180.94 299.75 181.00 299.50 181.02 299.00 181.06 298.50 181.09 298.00 181.12 297.50 181.13 297.00 181.13 296.50 181.12 296.00 181.11 295.50 181.09 295.00 181.06 294.50 181.03 294.08 181.00 293.75 180.98 293.25 180.94 292.75 180.89 292.25 180.85 291.75 180.81 291.25 180.76 291.00 180.74 290.50 180.70 290.00 180.66 289.50 180.63 289.00 180.60 288.50 180.57 288.00 180.54 287.50 180.52 287.00 180.51 286.68 180.50 286.25 180.49 285.75 180.49 285.25 180.49 284.75 180.49 284.25 180.50 284.00 180.51 283.50 180.52 283.00 180.54 282.50 180.56 282.00 180.58 281.50 180.60 281.00 180.63 280.50 180.65 280.00 180.68 279.50 180.71 279.00 180.74 278.75 180.76 278.25 180.79 277.75 180.82 277.25 180.85 276.75 180.88 276.25 180.92 275.75 180.95 275.25 180.98 274.84 181.00 274.50 181.02 274.00 181.05 273.50 181.08 273.00 181.10 272.50 181.13 272.00 181.16 271.50 181.18 271.00 181.20 270.50 181.23 270.00 181.25 269.75 181.26 269.25 181.28 268.75 181.30 268.25 181.32 267.75 181.34 267.25 181.36 266.75 181.38 266.25 181.39 265.75 181.41 265.25 181.42 264.75 181.44 264.25 181.45 263.75 181.46 263.25 181.47 262.75 181.48 262.25 181.49 261.75 181.50 261.50 181.50Z" fill="#8ae186" fill-rule="evenodd"/>
<path d="M263.00 178.75 262.50 178.75 262.00 178.76 261.50 178.76 261.00 178.76 260.50 178.76 260.00 178.77 259.50 178.77 259.00 178.77 258.50 178.77 258.00 178.77 257.50 178.77 257.00 178.77 256.50 178.77 256.00 178.77 255.50 178.76 255.00 178.76 254.50 178.75 254.25 178.75 253.75 178.74 253.25 178.73 252.75 178.72 252.25 178.71 251.75 178.69 251.25 178.68 250.75 178.66 250.25 178.64 249.75 178.62 249.25 178.59 248.75 178.57 248.25 178.54 247.75 178.51 247.50 178.49 247.00 178.46 246.50 178.42 246.00 178.38 245.50 178.34 245.00 178.29 244.52 178.25 244.25 178.22 243.75 178.17 243.25 178.12 242.75 178.06 242.25 178.00 242.00 177.97 241.50 177.91 241.00 177.84 240.50 177.78 240.25 177.74 239.75 177.67 239.25 177.59 238.75 177.51 238.50 177.47 238.00 177.39 237.50 177.31 237.18 177.25 236.75 177.17 236.25 177.08 235.81 177.00 235.50 176.94 235.00 176.84 234.52 176.75 234.25 176.70 233.75 176.59 233.29 176.50 233.00 176.44 232.50 176.34 232.09 176.25 231.75 176.18 231.25 176.07 230.91 176.00 230.50 175.91 230.00 175.81 229.72 175.75 229.25 175.65 228.75 175.55 228.47 175.50 228.00 175.41 227.50 175.32 227.13 175.25 226.75 175.18 226.25 175.10 225.75 175.02 225.50 174.99 225.00 174.92 224.50 174.86 224.00 174.80 223.50 174.75 223.25 174.73 222.75 174.69 222.25 174.65 221.75 174.62 221.25 174.60 220.75 174.58 220.25 174.57 219.75 174.56 219.25 174.55 218.75 174.55 218.25 174.55 217.75 174.55 217.25 174.55 216.75 174.55 216.25 174.55 215.75 174.55 215.25 174.55 214.75 174.54 214.25 174.53 213.75 174.52 213.35 174.50 213.00 174.48 212.50 174.45 212.00 174.42 211.50 174.37 211.00 174.32 210.50 174.26 210.25 174.22 209.75 174.15 209.25 174.06 208.92 174.00 208.50 173.91 208.00 173.80 207.75 173.73 207.25 173.60 206.91 173.50 206.50 173.37 206.14 173.25 205.75 173.11 205.47 173.00 205.00 172.81 204.75 172.70 204.32 172.50 204.00 172.34 203.75 172.21 203.36 172.00 203.00 171.79 202.75 171.64 202.50 171.48 202.16 171.25 201.81 171.00 201.50 170.77 201.25 170.57 201.00 170.36 200.75 170.14 200.50 169.91 200.25 169.67 200.00 169.41 199.75 169.14 199.50 168.85 199.25 168.54 199.03 168.25 198.85 168.00 198.69 167.75 198.50 167.46 198.25 167.02 198.11 166.75 197.98 166.50 197.76 166.00 197.66 165.75 197.50 165.29 197.41 165.00 197.28 164.50 197.22 164.25 197.13 163.75 197.07 163.25 197.03 162.75 197.02 162.25 197.04 161.75 197.08 161.25 197.15 160.75 197.24 160.25 197.30 160.00 197.43 159.50 197.51 159.25 197.69 158.75 197.79 158.50 198.00 158.03 198.14 157.75 198.27 157.50 198.50 157.12 198.74 156.75 198.91 156.50 199.10 156.25 199.30 156.00 199.51 155.75 199.75 155.49 200.00 155.24 200.25 155.00 200.54 154.75 200.85 154.50 201.18 154.25 201.50 154.03 201.75 153.88 202.00 153.73 202.43 153.50 202.75 153.35 203.00 153.23 203.50 153.04 203.75 152.95 204.25 152.80 204.50 152.73 205.00 152.62 205.50 152.53 205.75 152.49 206.25 152.44 206.75 152.41 207.25 152.41 207.75 152.42 208.25 152.46 208.56 152.50 209.00 152.56 209.50 152.66 209.91 152.75 210.25 152.84 210.75 152.99 211.00 153.07 211.49 153.25 211.75 153.36 212.09 153.50 212.50 153.69 212.75 153.82 213.10 154.00 213.50 154.23 213.75 154.38 214.00 154.53 214.33 154.75 214.70 155.00 215.00 155.22 215.25 155.41 215.50 155.60 215.75 155.80 216.00 156.01 216.29 156.25 216.57 156.50 216.85 156.75 217.12 157.00 217.39 157.25 217.65 157.50 217.91 157.75 218.17 158.00 218.42 158.25 218.67 158.50 218.92 158.75 219.18 159.00 219.43 159.25 219.69 159.50 219.94 159.75 220.21 160.00 220.47 160.25 220.74 160.50 221.00 160.73 221.25 160.95 221.50 161.16 221.75 161.37 222.00 161.57 222.25 161.77 222.56 162.00 222.91 162.25 223.25 162.49 223.50 162.65 223.75 162.81 224.07 163.00 224.50 163.24 224.75 163.38 225.00 163.50 225.50 163.74 225.75 163.85 226.11 164.00 226.50 164.15 226.77 164.25 227.25 164.41 227.52 164.50 228.00 164.64 228.42 164.75 228.75 164.83 229.25 164.95 229.50 165.00 230.00 165.10 230.50 165.19 230.86 165.25 231.25 165.31 231.75 165.38 232.25 165.45 232.62 165.50 233.00 165.55 233.50 165.61 234.00 165.66 234.50 165.72 234.81 165.75 235.25 165.80 235.75 165.85 236.25 165.90 236.75 165.95 237.17 166.00 237.50 166.04 238.00 166.09 238.50 166.15 239.00 166.20 239.39 166.25 239.75 166.29 240.25 166.35 240.75 166.42 241.25 166.48 241.50 166.52 242.00 166.58 242.50 166.65 243.00 166.72 243.25 166.76 243.75 166.83 244.25 166.91 244.75 166.99 245.00 167.03 245.50 167.10 246.00 167.19 246.40 167.25 246.75 167.31 247.25 167.39 247.75 167.47 248.00 167.51 248.50 167.60 249.00 167.68 249.42 167.75 249.75 167.81 250.25 167.89 250.75 167.97 251.00 168.01 251.50 168.09 252.00 168.17 252.50 168.24 252.75 168.28 253.25 168.35 253.75 168.42 254.25 168.49 254.50 168.52 255.00 168.58 255.50 168.64 256.00 168.70 256.50 168.75 256.75 168.77 257.25 168.82 257.75 168.86 258.25 168.90 258.75 168.93 259.25 168.96 259.75 168.99 260.08 169.00 260.50 169.02 261.00 169.03 261.50 169.04 262.00 169.04 262.50 169.05 263.00 169.04 263.50 169.04 264.00 169.03 264.50 169.02 265.00 169.01 265.25 169.00 265.75 168.98 266.25 168.96 266.75 168.94 267.25 168.92 267.75 168.89 268.25 168.87 268.75 168.84 269.25 168.81 269.75 168.79 270.25 168.76 270.50 168.75 271.00 168.72 271.50 168.70 272.00 168.68 272.50 168.65 273.00 168.63 273.50 168.61 274.00 168.59 274.50 168.58 275.00 168.56 275.50 168.55 276.00 168.54 276.50 168.53 277.00 168.53 277.50 168.52 278.00 168.52 278.50 168.52 279.00 168.52 279.50 168.52 280.00 168.53 280.50 168.53 281.00 168.54 281.50 168.55 282.00 168.56 282.50 168.57 283.00 168.57 283.50 168.58 284.00 168.59 284.50 168.60 285.00 168.61 285.50 168.61 286.00 168.61 286.50 168.61 287.00 168.61 287.50 168.61 288.00 168.60 288.50 168.60 289.00 168.59 289.50 168.57 290.00 168.56 290.50 168.55 291.00 168.53 291.50 168.51 291.98 168.50 292.25 168.49 292.75 168.48 293.25 168.47 293.75 168.46 294.25 168.45 294.75 168.45 295.25 168.46 295.75 168.47 296.25 168.49 296.50 168.51 297.00 168.54 297.50 168.58 298.00 168.64 298.50 168.70 298.79 168.75 299.25 168.83 299.75 168.94 300.02 169.00 300.50 169.13 300.90 169.25 301.25 169.37 301.60 169.50 302.00 169.67 302.25 169.79 302.66 170.00 303.00 170.20 303.25 170.36 303.50 170.54 303.77 170.75 304.05 171.00 304.30 171.25 304.51 171.50 304.75 171.83 304.99 172.25 305.10 172.50 305.25 173.00 305.29 173.25 305.31 173.75 305.25 174.20 305.18 174.50 305.00 174.95 304.84 175.25 304.69 175.50 304.50 175.75 304.25 176.03 304.00 176.28 303.75 176.50 303.42 176.75 303.05 177.00 302.75 177.18 302.50 177.31 302.10 177.50 301.75 177.65 301.49 177.75 301.00 177.91 300.71 178.00 300.25 178.12 299.75 178.23 299.50 178.28 299.00 178.36 298.50 178.42 298.00 178.47 297.53 178.50 297.25 178.51 296.75 178.53 296.25 178.53 295.75 178.53 295.25 178.52 294.81 178.50 294.50 178.49 294.00 178.46 293.50 178.42 293.00 178.39 292.50 178.35 292.00 178.31 291.50 178.27 291.25 178.25 290.75 178.21 290.25 178.17 289.75 178.14 289.25 178.11 288.75 178.08 288.25 178.06 287.75 178.04 287.25 178.03 286.75 178.02 286.25 178.02 285.75 178.02 285.25 178.02 284.75 178.03 284.25 178.04 283.75 178.06 283.25 178.08 282.75 178.10 282.25 178.12 281.75 178.15 281.25 178.18 280.75 178.20 280.25 178.23 279.96 178.25 279.50 178.28 279.00 178.31 278.50 178.33 278.00 178.36 277.50 178.39 277.00 178.42 276.50 178.44 276.00 178.47 275.50 178.49 275.25 178.50 274.75 178.52 274.25 178.54 273.75 178.56 273.25 178.58 272.75 178.60 272.25 178.61 271.75 178.63 271.25 178.64 270.75 178.65 270.25 178.66 269.75 178.67 269.25 178.68 268.75 178.69 268.25 178.70 267.75 178.71 267.25 178.71 266.75 178.72 266.25 178.72 265.75 178.73 265.25 178.73 264.75 178.74 264.25 178.74 263.75 178.74 263.25 178.75 263.00 178.75Z" fill="#80da7c" fill-rule="evenodd"/>
<path d="M278.50 175.75 278.00 175.78 277.50 175.81 277.00 175.83 276.50 175.86 276.00 175.88 275.50 175.89 275.00 175.91 274.50 175.91 274.00 175.92 273.50 175.92 273.00 175.92 272.50 175.92 272.00 175.91 271.50 175.90 271.00 175.88 270.50 175.87 270.00 175.85 269.50 175.83 269.00 175.80 268.50 175.78 268.00 175.75 267.75 175.74 267.25 175.70 266.75 175.67 266.25 175.64 265.75 175.61 265.25 175.57 264.75 175.54 264.25 175.51 264.00 175.50 263.50 175.46 263.00 175.44 262.50 175.41 262.00 175.39 261.50 175.37 261.00 175.35 260.50 175.34 260.00 175.34 259.50 175.33 259.00 175.34 258.50 175.34 258.00 175.35 257.50 175.36 257.00 175.38 256.50 175.39 256.00 175.41 255.50 175.43 255.00 175.45 254.50 175.47 254.00 175.50 253.75 175.51 253.25 175.52 252.75 175.54 252.25 175.55 251.75 175.57 251.25 175.58 250.75 175.58 250.25 175.59 249.75 175.59 249.25 175.59 248.75 175.58 248.25 175.58 247.75 175.56 247.25 175.55 246.75 175.53 246.25 175.51 246.00 175.49 245.50 175.46 245.00 175.42 244.50 175.39 244.00 175.34 243.50 175.29 243.07 175.25 242.75 175.21 242.25 175.15 241.75 175.09 241.25 175.02 241.00 174.98 240.50 174.90 240.00 174.82 239.58 174.75 239.25 174.69 238.75 174.59 238.29 174.50 238.00 174.44 237.50 174.33 237.15 174.25 236.75 174.15 236.25 174.03 236.00 173.97 235.50 173.83 235.20 173.75 234.75 173.62 234.33 173.50 234.00 173.40 233.52 173.25 233.25 173.16 232.75 173.00 232.50 172.91 232.02 172.75 231.75 172.65 231.32 172.50 231.00 172.38 230.64 172.25 230.25 172.10 229.96 172.00 229.50 171.82 229.25 171.74 228.75 171.56 228.50 171.47 228.00 171.31 227.75 171.24 227.25 171.10 226.76 171.00 226.50 170.95 226.00 170.88 225.50 170.84 225.00 170.83 224.50 170.83 224.00 170.85 223.50 170.88 223.00 170.93 222.50 170.98 222.25 171.01 221.75 171.07 221.25 171.13 220.75 171.19 220.33 171.25 220.00 171.29 219.50 171.36 219.00 171.42 218.50 171.48 218.25 171.51 217.75 171.56 217.25 171.62 216.75 171.66 216.25 171.71 215.75 171.74 215.50 171.76 215.00 171.78 214.50 171.80 214.00 171.81 213.50 171.81 213.00 171.81 212.50 171.79 212.00 171.76 211.75 171.74 211.25 171.69 210.75 171.64 210.25 171.56 209.87 171.50 209.50 171.43 209.00 171.32 208.70 171.25 208.25 171.13 207.82 171.00 207.50 170.89 207.10 170.75 206.75 170.61 206.47 170.50 206.00 170.28 205.75 170.16 205.44 170.00 205.00 169.75 204.75 169.60 204.50 169.43 204.23 169.25 203.89 169.00 203.58 168.75 203.29 168.50 203.02 168.25 202.77 168.00 202.54 167.75 202.32 167.50 202.12 167.25 201.93 167.00 201.75 166.74 201.50 166.33 201.32 166.00 201.19 165.75 201.00 165.32 200.88 165.00 200.75 164.59 200.66 164.25 200.56 163.75 200.50 163.25 200.48 163.00 200.48 162.50 200.50 162.06 200.53 161.75 200.62 161.25 200.74 160.75 200.82 160.50 201.00 160.02 201.12 159.75 201.25 159.49 201.50 159.05 201.70 158.75 201.88 158.50 202.08 158.25 202.31 158.00 202.55 157.75 202.83 157.50 203.13 157.25 203.48 157.00 203.75 156.83 204.00 156.68 204.36 156.50 204.75 156.33 205.00 156.23 205.50 156.07 205.79 156.00 206.25 155.91 206.75 155.84 207.25 155.80 207.75 155.80 208.25 155.82 208.75 155.88 209.25 155.97 209.50 156.02 210.00 156.15 210.31 156.25 210.75 156.40 211.00 156.50 211.50 156.72 211.75 156.84 212.05 157.00 212.50 157.25 212.75 157.40 213.00 157.56 213.28 157.75 213.64 158.00 213.97 158.25 214.25 158.47 214.50 158.67 214.75 158.88 215.00 159.09 215.25 159.32 215.50 159.54 215.75 159.78 216.00 160.02 216.25 160.26 216.50 160.51 216.75 160.76 217.00 161.01 217.25 161.27 217.50 161.52 217.75 161.78 218.00 162.04 218.25 162.30 218.50 162.56 218.75 162.81 219.00 163.07 219.25 163.32 219.50 163.57 219.75 163.82 220.00 164.07 220.25 164.31 220.50 164.55 220.75 164.78 221.00 165.01 221.27 165.25 221.55 165.50 221.84 165.75 222.14 166.00 222.45 166.25 222.75 166.49 223.00 166.68 223.25 166.86 223.50 167.04 223.81 167.25 224.19 167.50 224.50 167.69 224.75 167.84 225.06 168.00 225.50 168.22 225.75 168.34 226.18 168.50 226.50 168.62 227.00 168.75 227.25 168.81 227.75 168.90 228.25 168.95 228.75 168.99 229.15 169.00 229.50 169.01 230.00 169.01 230.50 169.01 230.93 169.00 231.25 168.99 231.75 168.98 232.25 168.97 232.75 168.97 233.25 168.96 233.75 168.95 234.25 168.95 234.75 168.95 235.25 168.96 235.75 168.97 236.25 168.98 236.75 169.00 237.00 169.01 237.50 169.03 238.00 169.06 238.50 169.10 239.00 169.13 239.50 169.18 240.00 169.22 240.30 169.25 240.75 169.30 241.25 169.36 241.75 169.42 242.25 169.48 242.50 169.51 243.00 169.59 243.50 169.66 244.00 169.74 244.25 169.78 244.75 169.86 245.25 169.95 245.56 170.00 246.00 170.08 246.50 170.17 246.91 170.25 247.25 170.32 247.75 170.42 248.18 170.50 248.50 170.57 249.00 170.67 249.42 170.75 249.75 170.82 250.25 170.92 250.63 171.00 251.00 171.08 251.50 171.18 251.86 171.25 252.25 171.33 252.75 171.43 253.13 171.50 253.50 171.57 254.00 171.66 254.50 171.75 254.75 171.79 255.25 171.88 255.75 171.95 256.11 172.00 256.50 172.06 257.00 172.12 257.50 172.17 258.00 172.22 258.45 172.25 258.75 172.27 259.25 172.30 259.75 172.32 260.25 172.33 260.75 172.33 261.25 172.32 261.75 172.30 262.25 172.28 262.65 172.25 263.00 172.23 263.50 172.19 264.00 172.15 264.50 172.10 265.00 172.04 265.36 172.00 265.75 171.96 266.25 171.90 266.75 171.84 267.25 171.78 267.50 171.74 268.00 171.69 268.50 171.63 269.00 171.57 269.50 171.50 269.75 171.48 270.25 171.42 270.75 171.37 271.25 171.32 271.75 171.27 272.00 171.25 272.50 171.21 273.00 171.17 273.50 171.13 274.00 171.10 274.50 171.07 275.00 171.05 275.50 171.03 276.00 171.01 276.46 171.00 276.75 171.00 277.25 170.99 277.75 170.99 278.25 170.99 278.66 171.00 279.00 171.01 279.50 171.02 280.00 171.04 280.50 171.06 281.00 171.08 281.50 171.11 282.00 171.14 282.50 171.17 283.00 171.19 283.50 171.22 283.99 171.25 284.25 171.27 284.75 171.29 285.25 171.32 285.75 171.34 286.25 171.36 286.75 171.37 287.25 171.37 287.75 171.38 288.25 171.37 288.75 171.36 289.25 171.35 289.75 171.33 290.25 171.31 290.75 171.28 291.25 171.26 291.50 171.24 292.00 171.22 292.50 171.20 293.00 171.18 293.50 171.17 294.00 171.17 294.50 171.17 295.00 171.19 295.50 171.22 295.86 171.25 296.25 171.30 296.75 171.37 297.25 171.47 297.50 171.53 298.00 171.68 298.25 171.77 298.75 172.00 299.00 172.14 299.25 172.31 299.50 172.52 299.75 172.83 299.95 173.25 299.98 173.75 299.77 174.25 299.56 174.50 299.27 174.75 299.00 174.92 298.75 175.06 298.30 175.25 298.00 175.34 297.50 175.48 297.25 175.53 296.75 175.60 296.25 175.65 295.75 175.68 295.25 175.69 294.75 175.69 294.25 175.68 293.75 175.65 293.25 175.61 292.75 175.58 292.25 175.53 291.90 175.50 291.50 175.46 291.00 175.41 290.50 175.37 290.00 175.32 289.50 175.29 289.00 175.25 288.75 175.24 288.25 175.22 287.75 175.20 287.25 175.19 286.75 175.19 286.25 175.20 285.75 175.21 285.25 175.23 284.97 175.25 284.50 175.28 284.00 175.31 283.50 175.34 283.00 175.38 282.50 175.43 282.00 175.47 281.66 175.50 281.25 175.53 280.75 175.58 280.25 175.62 279.75 175.66 279.25 175.70 278.75 175.73 278.50 175.75Z" fill="#77d273" fill-rule="evenodd"/>
<ellipse cx="283" cy="171.3" rx="13" ry="3.6" fill="#8dbb8a"/>
</g>
<path d="M192.7 148.7C193.2 149.0 194.2 150.2 195.2 151.5C196.2 152.8 197.4 154.7 198.5 156.5C199.6 158.3 201.0 160.5 201.8 162.3C202.6 164.1 203.2 165.8 203.5 167.3C203.8 168.8 203.6 170.1 203.5 171.5C203.4 172.9 203.0 174.4 202.7 175.7C202.4 176.9 202.2 178.1 201.8 179.0C201.4 179.9 201.2 180.6 200.2 181.0C199.2 181.4 197.2 181.6 196.0 181.5C194.8 181.4 193.6 181.3 193.0 180.3C192.4 179.3 192.5 178.4 192.3 175.7C192.1 173.0 191.9 167.6 191.8 164.0C191.7 160.4 191.7 156.4 191.8 154.0C191.9 151.6 192.0 150.7 192.2 149.8C192.3 148.9 192.2 148.4 192.7 148.7Z" fill="#c0c4f0"/>
<g clip-path="url(#cb1)"><path d="M194.25 175.00 193.75 175.02 193.50 174.91 193.25 174.71 193.00 174.43 192.75 174.05 192.59 173.75 192.47 173.50 192.27 173.00 192.18 172.75 192.02 172.25 191.95 172.00 191.82 171.50 191.75 171.18 191.66 170.75 191.56 170.25 191.50 169.89 191.44 169.50 191.36 169.00 191.30 168.50 191.25 168.03 191.22 167.75 191.17 167.25 191.13 166.75 191.10 166.25 191.07 165.75 191.05 165.25 191.04 164.75 191.03 164.25 191.02 163.75 191.03 163.25 191.03 162.75 191.05 162.25 191.07 161.75 191.09 161.25 191.13 160.75 191.17 160.25 191.22 159.75 191.25 159.46 191.30 159.00 191.37 158.50 191.45 158.00 191.50 157.74 191.59 157.25 191.71 156.75 191.77 156.50 191.91 156.00 192.00 155.71 192.16 155.25 192.27 155.00 192.50 154.52 192.67 154.25 192.86 154.00 193.11 153.75 193.50 153.54 194.00 153.58 194.29 153.75 194.56 154.00 194.76 154.25 195.00 154.62 195.20 155.00 195.32 155.25 195.50 155.67 195.63 156.00 195.75 156.35 195.88 156.75 196.00 157.15 196.10 157.50 196.23 158.00 196.29 158.25 196.40 158.75 196.50 159.25 196.55 159.50 196.64 160.00 196.73 160.50 196.76 160.75 196.84 161.25 196.91 161.75 196.96 162.25 197.00 162.64 197.04 163.00 197.08 163.50 197.11 164.00 197.14 164.50 197.16 165.00 197.17 165.50 197.17 166.00 197.16 166.50 197.14 167.00 197.10 167.50 197.06 168.00 197.00 168.50 196.97 168.75 196.90 169.25 196.81 169.75 196.75 170.04 196.66 170.50 196.53 171.00 196.46 171.25 196.31 171.75 196.23 172.00 196.05 172.50 195.95 172.75 195.75 173.19 195.60 173.50 195.46 173.75 195.25 174.10 195.00 174.43 194.75 174.69 194.50 174.88 194.25 175.00Z" fill="#aab0ea" fill-rule="evenodd"/>
<path d="M194.00 172.35 193.50 172.27 193.25 172.05 193.03 171.75 192.89 171.50 192.75 171.20 192.58 170.75 192.49 170.50 192.35 170.00 192.25 169.57 192.18 169.25 192.09 168.75 192.01 168.25 191.97 168.00 191.91 167.50 191.86 167.00 191.81 166.50 191.78 166.00 191.75 165.50 191.74 165.25 191.73 164.75 191.72 164.25 191.73 163.75 191.74 163.25 191.75 162.89 191.77 162.50 191.80 162.00 191.84 161.50 191.89 161.00 191.95 160.50 192.00 160.16 192.07 159.75 192.16 159.25 192.25 158.86 192.35 158.50 192.50 158.00 192.59 157.75 192.75 157.37 192.96 157.00 193.16 156.75 193.49 156.50 193.75 156.46 194.00 156.54 194.27 156.75 194.50 157.04 194.75 157.49 194.86 157.75 195.00 158.09 195.14 158.50 195.25 158.88 195.35 159.25 195.46 159.75 195.51 160.00 195.61 160.50 195.69 161.00 195.75 161.48 195.78 161.75 195.84 162.25 195.88 162.75 195.91 163.25 195.94 163.75 195.95 164.25 195.96 164.75 195.96 165.25 195.95 165.75 195.92 166.25 195.89 166.75 195.85 167.25 195.79 167.75 195.75 168.08 195.69 168.50 195.60 169.00 195.50 169.48 195.44 169.75 195.30 170.25 195.23 170.50 195.04 171.00 194.94 171.25 194.75 171.62 194.50 171.99 194.25 172.23 194.00 172.35Z" fill="#8c94dc" fill-rule="evenodd"/>
<path d="M194.00 169.88 193.50 169.84 193.25 169.55 193.10 169.25 192.98 169.00 192.82 168.50 192.75 168.24 192.65 167.75 192.56 167.25 192.50 166.87 192.46 166.50 192.41 166.00 192.38 165.50 192.36 165.00 192.35 164.50 192.35 164.00 192.36 163.50 192.39 163.00 192.43 162.50 192.48 162.00 192.51 161.75 192.60 161.25 192.70 160.75 192.76 160.50 192.92 160.00 193.02 159.75 193.25 159.33 193.50 159.09 194.00 159.15 194.25 159.44 194.41 159.75 194.52 160.00 194.68 160.50 194.76 160.75 194.87 161.25 194.96 161.75 195.00 162.00 195.06 162.50 195.11 163.00 195.15 163.50 195.17 164.00 195.18 164.50 195.18 165.00 195.16 165.50 195.14 166.00 195.10 166.50 195.04 167.00 195.00 167.27 194.92 167.75 194.81 168.25 194.74 168.50 194.57 169.00 194.47 169.25 194.25 169.64 194.00 169.88Z" fill="#6470d0" fill-rule="evenodd"/>
<path d="M193.75 167.81 193.50 167.66 193.28 167.25 193.20 167.00 193.08 166.50 193.00 166.10 192.96 165.75 192.92 165.25 192.90 164.75 192.90 164.25 192.91 163.75 192.95 163.25 193.00 162.82 193.06 162.50 193.18 162.00 193.26 161.75 193.50 161.34 193.75 161.24 194.00 161.44 194.15 161.75 194.25 162.00 194.37 162.50 194.47 163.00 194.50 163.25 194.55 163.75 194.57 164.25 194.57 164.75 194.56 165.25 194.52 165.75 194.50 166.00 194.41 166.50 194.29 167.00 194.21 167.25 194.00 167.65 193.75 167.81Z" fill="#4654c6" fill-rule="evenodd"/>
</g>
<path d="M259.2 185.4C260.0 184.3 263.4 183.3 265.5 182.2C267.6 181.1 269.5 180.1 271.9 179.0C274.3 177.9 277.2 177.0 279.8 175.9C282.4 174.8 285.1 173.7 287.7 172.7C290.3 171.7 293.3 170.3 295.7 169.8C298.1 169.3 300.4 169.2 302.0 169.5C303.6 169.8 304.4 170.8 305.2 171.9C306.0 173.0 306.3 173.9 306.8 175.9C307.3 177.9 308.3 181.6 308.4 183.8C308.5 186.1 308.4 187.8 307.6 189.4C306.8 191.0 305.6 192.1 303.6 193.3C301.6 194.5 298.4 195.9 295.7 196.5C293.0 197.1 290.3 196.9 287.7 196.8C285.1 196.7 282.4 196.2 279.8 195.7C277.2 195.2 274.3 194.5 271.9 193.7C269.5 192.9 267.4 191.8 265.5 191.0C263.6 190.2 261.9 189.5 260.8 188.6C259.8 187.7 258.4 186.5 259.2 185.4Z" fill="#f2a6ab" opacity="0.73"/>
<g clip-path="url(#cp1)"><path d="M298.50 193.75 298.00 193.79 297.50 193.82 297.00 193.82 296.50 193.81 296.00 193.78 295.62 193.75 295.25 193.71 294.75 193.65 294.25 193.58 293.82 193.50 293.50 193.44 293.00 193.34 292.60 193.25 292.25 193.17 291.75 193.05 291.50 192.99 291.00 192.87 290.53 192.75 290.25 192.68 289.75 192.56 289.50 192.49 289.00 192.37 288.50 192.26 288.25 192.20 287.75 192.10 287.27 192.00 287.00 191.95 286.50 191.86 286.00 191.77 285.75 191.73 285.25 191.66 284.75 191.58 284.25 191.51 284.00 191.48 283.50 191.41 283.00 191.33 282.50 191.26 282.25 191.22 281.75 191.14 281.25 191.05 280.97 191.00 280.50 190.91 280.00 190.80 279.75 190.74 279.25 190.62 278.79 190.50 278.50 190.42 278.00 190.26 277.75 190.18 277.25 190.01 277.00 189.91 276.60 189.75 276.25 189.59 276.00 189.48 275.55 189.25 275.25 189.08 275.00 188.94 274.71 188.75 274.35 188.50 274.03 188.25 273.75 188.01 273.50 187.77 273.26 187.50 273.05 187.25 272.88 187.00 272.73 186.75 272.50 186.26 272.41 186.00 272.31 185.50 272.29 185.00 272.34 184.50 272.48 184.00 272.57 183.75 272.75 183.39 272.99 183.00 273.16 182.75 273.36 182.50 273.59 182.25 273.83 182.00 274.10 181.75 274.40 181.50 274.72 181.25 275.00 181.05 275.25 180.88 275.50 180.72 275.87 180.50 276.25 180.29 276.50 180.16 276.81 180.00 277.25 179.79 277.50 179.68 277.92 179.50 278.25 179.37 278.55 179.25 279.00 179.08 279.25 178.99 279.75 178.82 280.00 178.74 280.50 178.58 280.75 178.50 281.25 178.35 281.57 178.25 282.00 178.12 282.39 178.00 282.75 177.89 283.18 177.75 283.50 177.64 283.92 177.50 284.25 177.38 284.59 177.25 285.00 177.08 285.25 176.98 285.75 176.75 286.00 176.64 286.27 176.50 286.75 176.25 287.00 176.12 287.25 175.98 287.64 175.75 288.00 175.53 288.25 175.38 288.50 175.23 288.86 175.00 289.25 174.76 289.50 174.60 289.75 174.44 290.05 174.25 290.46 174.00 290.75 173.82 291.00 173.67 291.30 173.50 291.75 173.25 292.00 173.11 292.25 172.99 292.73 172.75 293.00 172.62 293.28 172.50 293.75 172.31 294.00 172.21 294.50 172.04 294.75 171.96 295.25 171.82 295.54 171.75 296.00 171.65 296.50 171.57 297.00 171.51 297.25 171.48 297.75 171.46 298.25 171.45 298.75 171.48 299.03 171.50 299.50 171.55 300.00 171.64 300.50 171.75 300.75 171.81 301.25 171.96 301.50 172.04 302.00 172.23 302.25 172.34 302.59 172.50 303.00 172.71 303.25 172.84 303.51 173.00 303.90 173.25 304.25 173.49 304.50 173.67 304.75 173.87 305.00 174.08 305.25 174.30 305.50 174.53 305.75 174.77 306.00 175.03 306.25 175.31 306.50 175.60 306.75 175.91 307.00 176.25 307.18 176.50 307.34 176.75 307.50 177.00 307.75 177.42 307.93 177.75 308.06 178.00 308.25 178.41 308.40 178.75 308.50 179.00 308.68 179.50 308.76 179.75 308.90 180.25 309.00 180.67 309.07 181.00 309.14 181.50 309.20 182.00 309.22 182.50 309.22 183.00 309.20 183.50 309.15 184.00 309.07 184.50 309.00 184.85 308.91 185.25 308.76 185.75 308.68 186.00 308.50 186.47 308.38 186.75 308.25 187.04 308.02 187.50 307.88 187.75 307.73 188.00 307.50 188.37 307.25 188.73 307.06 189.00 306.86 189.25 306.66 189.50 306.44 189.75 306.21 190.00 305.96 190.25 305.70 190.50 305.43 190.75 305.14 191.00 304.83 191.25 304.50 191.49 304.25 191.67 304.00 191.84 303.74 192.00 303.31 192.25 303.00 192.42 302.75 192.55 302.31 192.75 302.00 192.88 301.70 193.00 301.25 193.16 300.98 193.25 300.50 193.39 300.04 193.50 299.75 193.56 299.25 193.65 298.75 193.72 298.50 193.75Z" fill="#e4a49e" fill-rule="evenodd"/>
<path d="M298.25 193.01 297.75 193.04 297.25 193.05 296.75 193.05 296.25 193.02 295.97 193.00 295.50 192.95 295.00 192.89 294.50 192.81 294.19 192.75 293.75 192.66 293.25 192.55 293.00 192.49 292.50 192.36 292.10 192.25 291.75 192.15 291.25 192.01 291.00 191.93 290.50 191.78 290.25 191.70 289.75 191.55 289.50 191.48 289.00 191.33 288.74 191.25 288.25 191.11 287.86 191.00 287.50 190.90 287.00 190.78 286.75 190.71 286.25 190.60 285.82 190.50 285.50 190.43 285.00 190.33 284.62 190.25 284.25 190.18 283.75 190.08 283.36 190.00 283.00 189.93 282.50 189.82 282.17 189.75 281.75 189.65 281.25 189.53 281.00 189.47 280.50 189.33 280.24 189.25 279.75 189.09 279.49 189.00 279.00 188.81 278.75 188.71 278.29 188.50 278.00 188.35 277.75 188.22 277.38 188.00 277.01 187.75 276.75 187.55 276.50 187.34 276.25 187.10 276.00 186.82 275.76 186.50 275.61 186.25 275.49 186.00 275.33 185.50 275.28 185.00 275.33 184.50 275.47 184.00 275.58 183.75 275.75 183.44 276.00 183.08 276.25 182.78 276.50 182.52 276.75 182.29 277.00 182.08 277.25 181.88 277.50 181.70 277.80 181.50 278.21 181.25 278.50 181.09 278.75 180.95 279.16 180.75 279.50 180.59 279.75 180.48 280.25 180.26 280.50 180.16 280.90 180.00 281.25 179.87 281.56 179.75 282.00 179.59 282.25 179.49 282.75 179.31 283.00 179.21 283.50 179.02 283.75 178.92 284.16 178.75 284.50 178.60 284.75 178.49 285.25 178.25 285.50 178.13 285.75 178.00 286.21 177.75 286.50 177.58 286.75 177.44 287.05 177.25 287.45 177.00 287.75 176.80 288.00 176.63 288.25 176.47 288.56 176.25 288.92 176.00 289.25 175.77 289.50 175.60 289.75 175.43 290.01 175.25 290.38 175.00 290.75 174.75 291.00 174.59 291.25 174.43 291.55 174.25 291.98 174.00 292.25 173.85 292.50 173.71 292.91 173.50 293.25 173.34 293.50 173.22 294.00 173.02 294.25 172.92 294.73 172.75 295.00 172.67 295.50 172.53 295.75 172.47 296.25 172.37 296.75 172.29 297.11 172.25 297.50 172.22 298.00 172.20 298.50 172.22 298.97 172.25 299.25 172.28 299.75 172.36 300.25 172.46 300.50 172.52 301.00 172.67 301.25 172.75 301.75 172.94 302.00 173.05 302.42 173.25 302.75 173.42 303.00 173.57 303.30 173.75 303.68 174.00 304.00 174.24 304.25 174.43 304.50 174.64 304.75 174.86 305.00 175.09 305.25 175.34 305.50 175.61 305.75 175.89 306.00 176.19 306.23 176.50 306.41 176.75 306.58 177.00 306.75 177.26 307.00 177.68 307.17 178.00 307.30 178.25 307.50 178.69 307.63 179.00 307.75 179.31 307.90 179.75 308.00 180.09 308.11 180.50 308.21 181.00 308.25 181.25 308.32 181.75 308.36 182.25 308.37 182.75 308.35 183.25 308.31 183.75 308.25 184.18 308.20 184.50 308.09 185.00 308.00 185.31 307.86 185.75 307.75 186.06 307.58 186.50 307.46 186.75 307.25 187.18 307.07 187.50 306.93 187.75 306.75 188.03 306.50 188.39 306.25 188.73 306.03 189.00 305.82 189.25 305.59 189.50 305.35 189.75 305.09 190.00 304.82 190.25 304.52 190.50 304.25 190.72 304.00 190.90 303.75 191.08 303.49 191.25 303.09 191.50 302.75 191.69 302.50 191.82 302.12 192.00 301.75 192.17 301.50 192.27 301.00 192.45 300.75 192.53 300.25 192.67 299.92 192.75 299.50 192.84 299.00 192.92 298.50 192.98 298.25 193.01Z" fill="#e6988f" fill-rule="evenodd"/>
<path d="M299.00 192.27 298.50 192.34 298.00 192.38 297.50 192.40 297.00 192.40 296.50 192.38 296.00 192.34 295.50 192.29 295.25 192.25 294.75 192.17 294.25 192.07 293.94 192.00 293.50 191.89 293.00 191.76 292.75 191.69 292.25 191.53 292.00 191.45 291.50 191.29 291.25 191.20 290.75 191.02 290.50 190.93 290.00 190.75 289.75 190.66 289.32 190.50 289.00 190.38 288.64 190.25 288.25 190.11 287.94 190.00 287.50 189.85 287.22 189.75 286.75 189.59 286.45 189.50 286.00 189.36 285.64 189.25 285.25 189.13 284.80 189.00 284.50 188.91 284.00 188.77 283.75 188.69 283.25 188.55 283.00 188.47 282.50 188.31 282.25 188.22 281.75 188.04 281.50 187.95 281.04 187.75 280.75 187.62 280.50 187.49 280.07 187.25 279.75 187.04 279.50 186.85 279.25 186.64 279.00 186.39 278.75 186.09 278.55 185.75 278.44 185.50 278.33 185.00 278.36 184.50 278.50 184.04 278.64 183.75 278.80 183.50 279.00 183.24 279.25 182.97 279.50 182.73 279.78 182.50 280.12 182.25 280.49 182.00 280.75 181.84 281.00 181.70 281.35 181.50 281.75 181.29 282.00 181.16 282.32 181.00 282.75 180.79 283.00 180.67 283.35 180.50 283.75 180.30 284.00 180.18 284.34 180.00 284.75 179.78 285.00 179.64 285.25 179.50 285.67 179.25 286.00 179.05 286.25 178.88 286.50 178.72 286.82 178.50 287.18 178.25 287.50 178.02 287.75 177.83 288.00 177.65 288.25 177.46 288.52 177.25 288.84 177.00 289.17 176.75 289.50 176.50 289.75 176.31 290.00 176.12 290.25 175.93 290.50 175.75 290.85 175.50 291.21 175.25 291.50 175.06 291.75 174.90 292.00 174.74 292.41 174.50 292.75 174.31 293.00 174.17 293.34 174.00 293.75 173.81 294.00 173.70 294.50 173.50 294.75 173.41 295.25 173.25 295.50 173.18 296.00 173.06 296.32 173.00 296.75 172.93 297.25 172.87 297.75 172.85 298.25 172.84 298.75 172.87 299.25 172.92 299.72 173.00 300.00 173.06 300.50 173.18 300.75 173.26 301.25 173.43 301.50 173.53 302.00 173.75 302.25 173.88 302.50 174.01 302.90 174.25 303.25 174.48 303.50 174.65 303.75 174.84 304.00 175.04 304.25 175.26 304.51 175.50 304.76 175.75 305.00 176.00 305.25 176.29 305.50 176.60 305.75 176.93 305.97 177.25 306.13 177.50 306.28 177.75 306.50 178.14 306.69 178.50 306.80 178.75 307.00 179.23 307.10 179.50 307.25 179.95 307.34 180.25 307.46 180.75 307.51 181.00 307.59 181.50 307.64 182.00 307.66 182.50 307.66 183.00 307.63 183.50 307.57 184.00 307.50 184.38 307.42 184.75 307.29 185.25 307.21 185.50 307.03 186.00 306.93 186.25 306.75 186.64 306.57 187.00 306.43 187.25 306.25 187.55 306.00 187.93 305.77 188.25 305.58 188.50 305.37 188.75 305.15 189.00 304.92 189.25 304.67 189.50 304.40 189.75 304.10 190.00 303.79 190.25 303.50 190.46 303.25 190.64 303.00 190.80 302.66 191.00 302.25 191.22 302.00 191.35 301.67 191.50 301.25 191.67 301.00 191.77 300.50 191.93 300.25 192.00 299.75 192.13 299.25 192.23 299.00 192.27Z" fill="#e88880" fill-rule="evenodd"/>
<path d="M299.25 191.50 298.75 191.59 298.25 191.64 297.75 191.67 297.25 191.68 296.75 191.67 296.25 191.63 295.75 191.58 295.25 191.50 295.00 191.46 294.50 191.35 294.09 191.25 293.75 191.16 293.25 191.01 293.00 190.93 292.50 190.76 292.25 190.67 291.82 190.50 291.50 190.37 291.21 190.25 290.75 190.05 290.50 189.94 290.08 189.75 289.75 189.60 289.50 189.48 289.03 189.25 288.75 189.11 288.50 188.99 288.01 188.75 287.75 188.62 287.50 188.50 287.01 188.25 286.75 188.12 286.50 187.99 286.03 187.75 285.75 187.60 285.50 187.47 285.10 187.25 284.75 187.05 284.50 186.90 284.25 186.74 283.90 186.50 283.57 186.25 283.30 186.00 283.07 185.75 282.89 185.50 282.75 185.24 282.62 184.75 282.65 184.25 282.75 183.95 282.99 183.50 283.16 183.25 283.37 183.00 283.61 182.75 283.86 182.50 284.13 182.25 284.41 182.00 284.71 181.75 285.00 181.50 285.25 181.30 285.50 181.09 285.75 180.88 286.00 180.67 286.25 180.45 286.50 180.24 286.77 180.00 287.06 179.75 287.34 179.50 287.62 179.25 287.90 179.00 288.18 178.75 288.46 178.50 288.74 178.25 289.00 178.01 289.25 177.79 289.50 177.57 289.75 177.36 290.00 177.14 290.25 176.93 290.50 176.73 290.79 176.50 291.11 176.25 291.44 176.00 291.75 175.78 292.00 175.61 292.25 175.44 292.56 175.25 292.98 175.00 293.25 174.85 293.50 174.72 293.94 174.50 294.25 174.36 294.52 174.25 295.00 174.07 295.25 173.99 295.75 173.85 296.17 173.75 296.50 173.68 297.00 173.61 297.50 173.57 298.00 173.55 298.50 173.56 299.00 173.61 299.50 173.68 299.84 173.75 300.25 173.85 300.74 174.00 301.00 174.09 301.39 174.25 301.75 174.42 302.00 174.54 302.37 174.75 302.75 174.99 303.00 175.16 303.25 175.35 303.50 175.55 303.75 175.76 304.01 176.00 304.26 176.25 304.50 176.51 304.75 176.80 305.00 177.11 305.25 177.46 305.44 177.75 305.60 178.00 305.75 178.27 306.00 178.75 306.11 179.00 306.25 179.32 306.41 179.75 306.50 180.03 306.63 180.50 306.74 181.00 306.79 181.25 306.85 181.75 306.89 182.25 306.90 182.75 306.88 183.25 306.83 183.75 306.75 184.23 306.69 184.50 306.57 185.00 306.49 185.25 306.31 185.75 306.21 186.00 306.00 186.46 305.85 186.75 305.71 187.00 305.50 187.34 305.25 187.71 305.04 188.00 304.84 188.25 304.62 188.50 304.39 188.75 304.14 189.00 303.87 189.25 303.57 189.50 303.26 189.75 303.00 189.94 302.75 190.10 302.50 190.26 302.09 190.50 301.75 190.67 301.50 190.79 301.01 191.00 300.75 191.10 300.29 191.25 300.00 191.33 299.50 191.45 299.25 191.50Z" fill="#e87468" fill-rule="evenodd"/>
<path d="M299.25 190.30 298.75 190.39 298.25 190.45 297.75 190.49 297.25 190.49 296.75 190.47 296.25 190.42 295.75 190.35 295.25 190.25 295.00 190.20 294.50 190.06 294.25 189.99 293.75 189.82 293.50 189.72 293.00 189.52 292.75 189.41 292.42 189.25 292.00 189.03 291.75 188.90 291.49 188.75 291.08 188.50 290.75 188.28 290.50 188.11 290.25 187.93 290.00 187.74 289.69 187.50 289.40 187.25 289.13 187.00 288.88 186.75 288.64 186.50 288.43 186.25 288.25 186.00 288.00 185.62 287.81 185.25 287.70 185.00 287.57 184.50 287.51 184.00 287.54 183.50 287.63 183.00 287.75 182.64 287.90 182.25 288.01 182.00 288.25 181.54 288.41 181.25 288.57 181.00 288.75 180.72 289.00 180.36 289.25 180.02 289.46 179.75 289.66 179.50 289.86 179.25 290.08 179.00 290.30 178.75 290.53 178.50 290.77 178.25 291.02 178.00 291.29 177.75 291.56 177.50 291.85 177.25 292.15 177.00 292.48 176.75 292.75 176.55 293.00 176.38 293.25 176.21 293.60 176.00 294.00 175.77 294.25 175.65 294.56 175.50 295.00 175.31 295.25 175.22 295.75 175.05 296.00 174.98 296.50 174.87 297.00 174.79 297.36 174.75 297.75 174.73 298.25 174.73 298.64 174.75 299.00 174.79 299.50 174.87 300.00 174.99 300.25 175.07 300.75 175.25 301.00 175.35 301.31 175.50 301.75 175.74 302.00 175.89 302.25 176.06 302.51 176.25 302.83 176.50 303.11 176.75 303.37 177.00 303.60 177.25 303.82 177.50 304.02 177.75 304.25 178.07 304.50 178.46 304.67 178.75 304.80 179.00 305.00 179.41 305.14 179.75 305.25 180.06 305.39 180.50 305.50 180.96 305.56 181.25 305.63 181.75 305.67 182.25 305.67 182.75 305.65 183.25 305.59 183.75 305.50 184.22 305.43 184.50 305.29 185.00 305.20 185.25 305.00 185.73 304.87 186.00 304.74 186.25 304.50 186.67 304.28 187.00 304.10 187.25 303.90 187.50 303.69 187.75 303.46 188.00 303.20 188.25 302.92 188.50 302.62 188.75 302.28 189.00 302.00 189.18 301.75 189.34 301.46 189.50 301.00 189.73 300.75 189.84 300.32 190.00 300.00 190.11 299.50 190.25 299.25 190.30Z" fill="#e65a4c" fill-rule="evenodd"/>
<path d="M298.50 188.03 298.00 188.09 297.50 188.10 297.00 188.08 296.50 188.01 296.25 187.96 295.75 187.84 295.48 187.75 295.00 187.56 294.75 187.45 294.37 187.25 294.00 187.02 293.75 186.85 293.50 186.66 293.25 186.44 293.00 186.20 292.75 185.93 292.50 185.61 292.26 185.25 292.13 185.00 292.00 184.73 291.83 184.25 291.75 183.92 291.69 183.50 291.67 183.00 291.71 182.50 291.75 182.25 291.88 181.75 292.00 181.39 292.16 181.00 292.29 180.75 292.50 180.38 292.74 180.00 292.93 179.75 293.13 179.50 293.35 179.25 293.59 179.00 293.85 178.75 294.15 178.50 294.48 178.25 294.75 178.07 295.00 177.91 295.30 177.75 295.75 177.54 296.00 177.44 296.50 177.28 296.75 177.22 297.25 177.13 297.75 177.09 298.25 177.09 298.75 177.14 299.25 177.24 299.50 177.31 300.00 177.49 300.25 177.61 300.52 177.75 300.92 178.00 301.25 178.24 301.50 178.46 301.75 178.70 302.00 178.98 302.21 179.25 302.38 179.50 302.54 179.75 302.75 180.15 302.90 180.50 303.00 180.77 303.14 181.25 303.23 181.75 303.26 182.00 303.29 182.50 303.27 183.00 303.24 183.25 303.15 183.75 303.01 184.25 302.93 184.50 302.75 184.91 302.57 185.25 302.42 185.50 302.25 185.75 302.00 186.07 301.75 186.35 301.50 186.60 301.25 186.81 301.00 187.01 300.64 187.25 300.25 187.47 300.00 187.59 299.60 187.75 299.25 187.86 298.75 187.99 298.50 188.03Z" fill="#e2402f" fill-rule="evenodd"/>
<path d="M298.75 185.78 298.25 185.90 297.75 185.94 297.25 185.92 296.75 185.82 296.50 185.75 296.00 185.53 295.75 185.39 295.50 185.21 295.25 185.00 295.00 184.74 294.75 184.40 294.53 184.00 294.43 183.75 294.31 183.25 294.27 182.75 294.32 182.25 294.45 181.75 294.54 181.50 294.75 181.09 294.98 180.75 295.18 180.50 295.42 180.25 295.71 180.00 296.00 179.80 296.25 179.65 296.57 179.50 297.00 179.35 297.49 179.25 297.75 179.23 298.25 179.24 298.50 179.28 299.00 179.41 299.25 179.51 299.68 179.75 300.00 179.99 300.25 180.22 300.49 180.50 300.66 180.75 300.80 181.00 301.00 181.49 301.07 181.75 301.15 182.25 301.15 182.75 301.08 183.25 301.00 183.56 300.82 184.00 300.69 184.25 300.50 184.54 300.25 184.84 300.00 185.08 299.75 185.28 299.40 185.50 299.00 185.69 298.75 185.78Z" fill="#a05450" fill-rule="evenodd"/>
</g>
</g>
<!-- ===== Plot a ===== -->
<g fill="none" stroke="#1f77b4" stroke-width="1.8" stroke-dasharray="5.3 2.3">
  <line x1="62.3" y1="4.4" x2="224" y2="4.4"/>
  <line x1="143.1" y1="82.3" x2="143.1" y2="0" stroke-dashoffset="0.8"/>
</g>
<circle cx="81.7" cy="51.3" r="3.7" fill="#0000ff"/>
<path d="M194.7 43.6 L198.1 48.6 L194.7 53.9 L191.3 48.6 Z" fill="#ff0000"/>
<g stroke="#3a3a3a" stroke-width="1.1" fill="none">
  <path d="M62.3 0 V82.3 H224 V0"/>
  <path d="M58.8 4.4H62.3 M58.8 39.9H62.3 M58.8 75.4H62.3"/>
  <path d="M65.7 82.3V85.8 M143.1 82.3V85.8 M220 82.3V85.8"/>
</g>
<g class="tk">
  <text x="28.3" y="10.6">0.00</text>
  <text x="17.4" y="46.2">−0.01</text>
  <text x="17.4" y="81.6">−0.02</text>
  <text x="50.9" y="100.6">−0.2</text>
  <text x="133" y="100.6">0.0</text>
  <text x="209.7" y="100.6">0.2</text>
</g>
<text transform="translate(133.5,119) scale(1.2,1)" font-size="16" font-style="italic">w</text>
<text x="145.8" y="121.8" font-size="11.5">4</text>
<text transform="translate(9.9,12.6) rotate(-90) scale(1.1,1)" font-size="16.5" font-style="italic">w</text>

<!-- ===== Plot b ===== -->
<g fill="none" stroke="#1f77b4" stroke-width="1.8" stroke-dasharray="5.3 2.3">
  <line x1="277.9" y1="8.6" x2="440.1" y2="8.6"/>
  <line x1="360" y1="82.3" x2="360" y2="0" stroke-dashoffset="0.8"/>
</g>
<g stroke="#3a3a3a" stroke-width="1.1" fill="none">
  <path d="M277.9 0 V82.3 H440.1 V0"/>
  <path d="M274.4 8.6H277.9 M274.4 40.5H277.9 M274.4 72.4H277.9"/>
  <path d="M284.6 82.3V85.8 M360 82.3V85.8 M435 82.3V85.8"/>
</g>
<g class="tk">
  <text x="244.4" y="14.8">0.00</text>
  <text x="233.3" y="46.8">−0.01</text>
  <text x="233.3" y="78.6">−0.02</text>
  <text x="269.9" y="100.6">−0.2</text>
  <text x="349.8" y="100.6">0.0</text>
  <text x="425.3" y="100.6">0.2</text>
</g>
<text transform="translate(350.2,119) scale(1.2,1)" font-size="16" font-style="italic">w</text>
<text x="362.5" y="121.8" font-size="11.5">4</text>

<!-- ===== Plot c ===== -->
<g fill="none" stroke="#1f77b4" stroke-width="1.8" stroke-dasharray="5.3 2.3">
  <line x1="169.8" y1="202.3" x2="331.8" y2="202.3"/>
  <line x1="251.8" y1="130.7" x2="251.8" y2="252" stroke-dashoffset="7.0"/>
</g>
<g stroke="#3a3a3a" stroke-width="1.1" fill="none">
  <path d="M169.8 252 V130.7 H331.8 V252"/>
  <path d="M166.3 130.7H169.8 M166.3 184H169.8 M166.3 237.3H169.8"/>
</g>
<g class="tk">
  <text x="143.5" y="136.6">0.6</text>
  <text x="143.5" y="189.9">0.4</text>
  <text x="143.5" y="243.2">0.2</text>
</g>
<text x="106" y="151.8" font-size="21" font-weight="bold">(c)</text>
<text transform="translate(136.5,219) rotate(-90)" font-size="17" font-style="italic">q</text>
<text transform="translate(139.7,209.5) rotate(-90)" font-size="11.7">6</text>

<!-- legend -->
<rect x="348.5" y="138.5" width="97" height="89.5" rx="2.5" fill="#fff" fill-opacity="0.8" stroke="#dcdcdc" stroke-width="1"/>
<rect x="354" y="145" width="31" height="10.4" fill="#f24a37"/>
<rect x="354" y="166.4" width="31" height="10.4" fill="#97c4df"/>
<rect x="354" y="187.9" width="31" height="10.4" fill="#99d595"/>
<rect x="354" y="209.3" width="31" height="10.4" fill="#bfbfbf"/>
<g class="lg">
  <text x="397.5" y="155.6">HCP</text>
  <text x="397.5" y="177">FCC</text>
  <text x="397.5" y="198.4">BCC</text>
  <text x="397.5" y="219.8">Liquid</text>
</g>
</svg>
</body></html>
